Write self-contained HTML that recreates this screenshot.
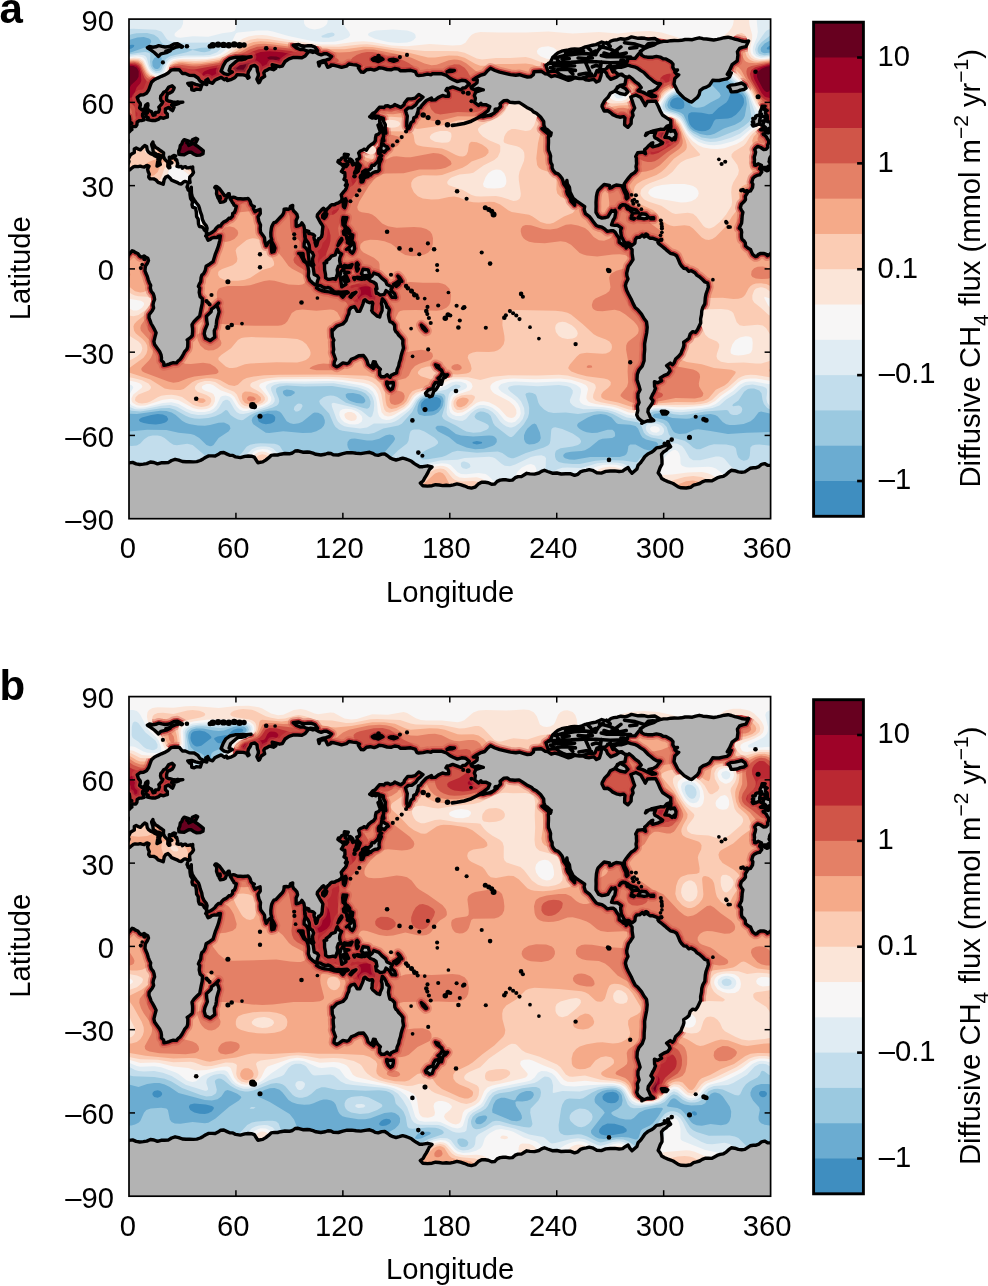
<!DOCTYPE html><html><head><meta charset="utf-8"><title>Diffusive CH4 flux maps</title><style>html,body{margin:0;padding:0;background:#fff;width:988px;height:1286px;overflow:hidden}svg{display:block;will-change:transform}text{font-family:"Liberation Sans",sans-serif}</style></head><body>
<svg width="988" height="1286" viewBox="0 0 988 1286">
<defs><clipPath id="mc"><rect x="129.0" y="19.1" width="641.60" height="499.60"/></clipPath>
<path id="cm" d="M125.4,167.1L126.7,163.6L127.7,164.5L128.7,162.7L129.0,161.4L128.0,159.1L129.0,157.9L130.4,154.7L132.5,153.5L134.3,152.6L134.3,149.0L136.2,148.0L137.7,148.9L140.4,149.8L142.3,147.8L144.8,145.4L146.6,146.4L147.3,150.2L148.3,151.8L150.6,153.6L153.1,154.7L155.0,156.0L158.2,157.3L157.8,160.7L157.0,166.1L160.3,164.5L159.5,161.8L159.9,159.4L158.5,157.8L159.6,155.4L160.8,158.1L161.2,155.8L158.3,154.6L156.6,154.3L153.3,152.2L152.8,148.6L151.8,145.4L151.6,144.3L152.9,142.0L153.2,143.8L153.4,144.1L155.6,147.4L158.0,148.8L159.8,150.2L161.8,151.5L163.6,152.9L163.4,156.3L164.5,158.8L166.4,160.9L167.9,162.4L167.8,166.5L168.9,167.8L169.9,167.6L169.4,164.7L170.3,163.4L171.9,162.8L169.7,161.0L169.3,157.2L172.1,158.0L172.2,156.4L173.9,155.4L175.4,155.8L175.6,155.9L174.6,157.5L175.5,159.7L176.7,159.8L177.2,161.9L177.7,163.7L177.0,166.4L178.9,166.7L181.3,166.4L182.5,168.2L183.5,167.2L185.4,166.7L186.8,167.8L188.4,167.9L190.5,167.3L192.4,168.7L192.7,167.0L192.7,169.5L193.5,172.5L192.1,174.8L189.8,176.9L189.6,179.5L190.1,182.5L188.3,183.2L186.7,181.8L185.1,181.4L183.6,181.9L181.3,184.1L179.1,183.6L177.0,182.3L173.9,181.1L171.6,180.2L170.2,178.3L168.0,176.1L165.7,177.1L164.2,179.5L163.7,182.2L163.2,184.3L161.1,183.4L158.1,182.3L156.0,180.0L153.7,178.9L150.1,178.9L148.7,177.1L148.8,176.1L149.3,174.1L148.1,171.5L147.6,169.2L149.0,166.3L147.4,165.4L146.4,165.6L144.3,167.1L141.9,166.6L140.2,166.2L138.1,166.6L135.1,166.4L133.4,166.9L131.3,168.5L129.6,170.0L126.4,169.3L125.6,169.1L123.6,171.0L125.0,174.1L122.7,177.2L121.8,180.3L122.6,183.4L122.3,186.5L122.1,189.6L122.7,192.7L123.1,195.8L123.0,198.9L123.0,202.0L122.6,205.1L122.1,208.2L122.0,211.3L122.1,214.4L122.1,217.5L121.6,220.6L122.2,223.7L123.7,226.8L123.5,229.9L123.1,233.0L123.2,236.2L122.8,239.3L122.8,242.4L123.4,245.5L122.9,248.6L122.5,251.7L123.0,254.8L123.8,255.6L126.5,256.8L128.7,254.8L130.8,252.3L132.1,250.7L133.8,251.4L134.9,252.3L135.6,252.7L137.8,253.5L139.6,256.0L141.2,257.0L142.5,256.9L144.0,256.0L145.4,257.0L147.8,258.3L148.5,260.6L147.2,263.5L145.5,266.0L145.2,268.0L145.0,270.9L145.8,273.0L147.3,276.4L148.3,280.0L149.3,282.7L150.7,285.3L150.3,288.0L151.2,291.3L153.3,293.9L154.0,296.1L154.6,299.4L153.5,302.2L153.0,304.9L153.6,307.9L152.2,310.8L149.1,314.7L149.0,317.8L150.1,320.6L151.1,323.5L152.6,326.0L154.7,329.9L156.1,332.7L155.0,336.9L153.9,341.4L154.6,344.6L157.4,348.5L159.6,351.5L161.0,354.6L161.5,357.7L161.4,360.5L163.4,362.2L163.7,362.8L163.9,365.4L165.6,365.1L167.5,364.7L169.2,364.1L170.9,363.3L173.3,362.7L174.8,362.9L176.5,362.8L178.0,361.0L180.2,359.3L182.0,356.7L183.6,353.8L184.9,351.3L187.0,349.1L187.7,346.8L187.8,343.6L187.8,341.0L187.2,339.9L188.6,339.0L190.7,337.3L192.3,335.5L192.6,331.3L192.5,328.3L192.1,326.0L192.0,324.6L194.1,321.4L196.5,319.1L199.7,316.0L200.5,311.9L201.0,309.2L202.2,303.6L202.5,298.7L200.1,296.6L199.2,292.5L199.7,288.0L198.4,286.4L199.2,284.4L200.7,281.7L201.1,277.5L201.9,275.0L203.7,273.6L205.2,270.5L206.1,266.3L209.5,264.2L213.0,261.7L214.3,257.4L215.5,253.6L217.2,249.5L218.6,245.3L219.8,240.3L220.4,236.0L218.3,236.2L216.9,237.6L214.4,237.4L211.6,238.1L210.1,239.4L208.1,240.3L207.2,238.5L206.6,236.7L205.7,236.0L207.6,233.6L206.0,231.3L204.2,229.9L203.3,227.9L201.5,226.8L199.4,226.5L198.5,224.0L198.2,219.1L196.6,216.6L196.3,211.9L195.5,208.1L192.6,207.1L192.0,204.6L192.6,201.6L190.6,198.5L190.0,194.4L189.9,191.6L187.0,187.0L187.6,185.3L187.3,186.8L188.0,189.7L190.2,191.8L191.0,189.9L191.3,187.3L191.4,191.2L191.5,193.5L192.3,196.9L194.2,199.9L196.0,202.5L198.5,205.5L199.5,208.4L200.3,211.7L201.7,215.4L202.4,219.5L204.1,223.2L206.3,225.8L207.1,228.3L206.4,232.2L206.5,234.3L208.6,234.2L210.1,233.5L212.3,232.3L214.7,230.3L216.5,227.7L218.7,225.9L220.5,226.1L221.7,224.0L223.5,222.1L225.7,221.1L227.1,220.1L228.8,218.3L230.6,218.2L232.5,216.2L232.7,213.5L234.4,212.5L235.3,210.3L236.3,206.3L234.1,205.3L233.4,203.6L232.3,202.3L231.5,200.7L230.3,199.0L228.9,195.4L227.0,197.1L226.0,198.7L225.4,200.7L223.5,201.9L220.4,202.3L219.3,200.4L220.3,198.4L220.1,196.4L218.9,198.1L219.6,200.0L218.0,197.9L217.2,195.6L216.5,193.7L216.7,190.9L216.2,188.6L214.8,187.4L215.5,186.4L216.5,186.4L217.8,187.4L219.7,188.9L221.2,191.0L222.7,193.1L224.6,195.6L226.9,195.7L228.2,193.8L229.2,193.8L229.6,196.5L231.1,197.9L233.4,197.1L235.3,197.7L237.7,198.8L240.4,198.8L243.1,199.0L245.8,198.8L248.0,198.4L249.7,200.3L250.4,202.0L250.9,204.1L252.4,205.9L254.3,206.6L253.6,206.6L253.3,208.3L255.0,211.7L256.9,210.5L260.1,209.3L260.3,213.5L258.0,216.8L258.9,221.3L260.5,225.0L260.2,228.9L260.6,232.2L263.0,235.4L264.5,237.6L264.9,241.7L265.7,244.1L266.9,245.2L266.1,245.8L267.3,244.0L268.4,242.3L270.5,240.7L271.8,240.0L270.9,236.6L270.8,232.8L271.3,228.7L271.8,226.5L272.8,224.4L273.9,222.7L275.8,222.2L278.1,219.7L280.6,217.0L282.4,215.1L283.6,213.0L284.1,210.6L284.1,209.3L286.3,209.0L288.0,209.4L289.9,208.7L290.4,206.3L292.7,205.4L292.5,208.5L293.7,211.1L295.4,212.6L296.9,214.3L297.6,217.2L296.1,220.5L296.2,226.3L298.6,225.8L300.4,225.0L301.2,224.1L301.9,222.9L303.9,226.0L304.5,229.3L304.5,232.8L305.2,236.1L305.1,239.8L304.2,243.4L304.1,246.8L305.0,247.2L306.4,248.6L307.8,250.8L308.2,253.6L308.7,257.2L309.0,260.6L310.2,262.4L312.4,263.1L313.1,264.1L313.8,265.2L312.9,262.8L312.5,258.9L313.6,255.4L312.3,252.5L310.6,251.8L309.5,249.6L309.5,248.4L309.2,245.2L308.0,242.4L306.1,240.1L304.8,236.8L304.6,233.4L306.5,230.7L308.8,231.3L308.8,233.6L310.2,233.5L313.0,234.4L314.6,235.8L313.9,237.4L314.4,239.6L315.1,240.4L315.1,242.5L316.1,245.9L316.8,245.0L317.5,242.2L318.6,238.8L319.7,238.7L320.9,237.2L321.5,236.7L322.2,234.0L322.3,231.6L322.6,229.0L322.9,226.5L321.8,224.5L320.6,222.8L319.6,221.0L318.5,218.9L317.2,216.7L317.5,214.5L319.0,212.8L319.9,211.8L320.8,210.9L321.9,209.4L323.6,208.3L324.8,209.4L325.1,211.8L325.2,212.5L326.3,210.6L326.9,209.5L328.1,207.9L329.0,207.4L330.5,205.6L331.6,204.7L333.4,204.8L334.8,204.5L336.1,203.6L338.5,202.8L340.6,201.5L341.8,200.2L341.9,197.6L341.2,194.8L342.2,193.6L344.0,191.4L345.2,190.1L346.3,188.1L347.3,184.7L345.3,185.3L346.5,183.4L346.2,180.5L344.0,179.4L345.0,177.1L344.8,172.8L342.9,172.5L341.4,171.4L342.3,170.1L343.1,168.7L344.0,166.8L346.3,166.5L347.8,164.5L345.7,164.5L344.5,164.4L342.4,164.7L342.4,165.5L341.0,163.9L339.8,163.4L337.9,161.9L338.5,160.4L339.9,160.5L340.9,159.3L341.9,158.0L344.1,157.3L344.4,154.1L348.3,154.6L347.1,157.0L345.8,158.8L345.2,160.1L347.2,161.6L348.5,161.8L349.5,160.6L349.7,158.9L351.2,159.5L352.8,161.4L351.7,162.6L352.8,164.9L354.6,163.7L357.0,166.5L356.5,167.7L355.8,170.3L354.9,171.9L354.5,173.0L356.1,172.9L357.4,171.9L358.3,171.2L358.5,170.0L359.4,167.9L360.2,165.6L358.6,164.1L357.1,162.0L357.4,159.6L356.7,159.6L358.8,158.9L359.7,157.4L359.4,155.3L358.6,153.0L360.0,151.2L361.6,150.5L362.9,150.0L364.5,149.1L366.4,150.2L367.2,148.9L368.5,146.9L371.0,144.8L373.5,143.2L375.3,140.7L375.5,137.9L376.1,135.1L378.6,134.0L380.5,131.7L379.2,128.7L378.0,125.2L379.3,124.3L379.8,122.4L379.7,119.8L378.5,116.4L374.2,115.8L375.9,118.4L373.6,117.4L372.1,118.1L369.7,116.7L371.1,115.4L372.8,113.3L375.1,112.4L377.0,110.1L379.4,107.3L382.1,107.2L383.9,107.6L385.3,106.0L387.9,105.7L390.3,107.0L393.4,105.9L394.8,104.5L396.4,105.4L400.8,107.4L402.4,106.1L404.1,104.7L404.4,103.0L407.8,98.9L411.6,98.9L415.1,98.1L418.8,94.4L423.0,97.1L420.3,99.7L417.8,101.7L415.8,104.8L411.7,107.9L408.1,107.9L405.5,110.4L406.4,113.5L407.3,116.1L406.8,121.9L406.8,126.3L409.0,128.2L410.0,126.0L411.0,122.7L413.3,121.2L413.8,117.7L416.3,116.6L417.7,112.1L418.0,113.6L418.1,110.5L418.4,108.6L420.7,107.4L421.4,105.8L424.0,103.0L426.4,100.5L431.5,98.1L431.3,100.0L435.3,99.8L438.1,97.6L442.5,95.5L445.0,96.2L448.7,96.2L448.7,93.6L447.5,90.9L445.9,90.3L447.1,88.4L449.6,88.1L452.7,86.9L455.4,87.9L458.8,89.2L460.8,89.9L462.8,88.0L465.3,87.8L469.3,83.9L465.6,80.8L461.7,80.3L457.4,81.6L453.1,79.7L449.7,78.0L446.4,75.4L441.9,73.8L436.6,73.8L432.3,73.8L431.2,74.8L427.5,74.1L423.1,75.1L418.6,75.5L416.9,75.1L415.2,71.6L410.7,70.3L405.2,70.8L400.6,70.8L398.5,69.2L394.6,68.5L391.0,69.8L387.1,69.5L382.4,68.1L379.0,67.7L377.5,68.8L374.2,70.1L370.3,69.2L366.5,69.7L363.7,72.3L361.3,72.1L359.8,70.2L358.4,67.9L359.5,66.5L356.3,65.0L352.7,64.6L348.9,64.0L346.4,66.2L341.6,67.4L338.2,66.3L334.2,65.3L331.0,65.0L330.3,66.5L327.7,67.3L325.2,62.0L320.4,62.9L319.1,66.0L318.3,62.4L322.0,61.0L325.8,60.1L329.5,59.0L331.6,56.5L326.8,53.8L323.7,53.8L321.2,54.8L318.3,53.8L314.0,51.2L310.4,50.7L307.8,52.6L305.2,56.0L301.9,57.7L297.2,57.5L293.5,57.4L289.0,58.8L285.1,61.5L283.8,63.6L282.3,66.2L279.6,66.7L275.1,65.3L272.2,64.7L272.7,67.9L275.8,68.3L273.5,69.7L270.6,68.8L269.2,68.8L266.4,70.4L265.2,70.8L263.8,72.8L264.7,76.3L261.3,78.5L259.5,82.2L258.6,82.7L256.9,79.2L258.3,75.8L258.4,73.9L257.4,71.0L257.0,67.4L254.6,65.4L251.2,66.3L250.4,68.8L248.4,71.8L247.8,74.6L249.1,77.4L248.0,78.3L246.1,75.6L243.2,74.9L237.0,74.8L235.9,76.4L234.2,78.0L231.6,79.3L227.3,80.5L226.4,78.5L224.3,79.7L221.2,77.4L217.7,78.9L214.9,80.2L212.6,83.3L209.2,82.2L207.8,79.1L205.8,80.4L207.0,82.8L206.7,84.6L203.2,83.5L201.7,85.5L200.3,89.6L196.5,89.1L194.2,90.2L191.8,89.8L191.5,86.3L189.4,85.4L187.8,83.4L191.7,82.9L195.7,84.4L200.8,85.7L204.1,83.1L201.8,81.9L199.9,80.9L198.0,78.0L194.2,75.5L189.2,75.2L185.3,73.5L182.4,73.5L179.1,69.7L174.6,69.5L171.0,70.2L168.1,73.0L164.2,75.2L161.4,76.3L157.6,78.1L154.3,79.8L151.6,82.1L150.3,85.5L148.7,90.0L146.5,93.2L143.6,94.7L140.3,95.0L137.2,97.4L138.4,100.9L140.3,103.6L140.4,105.0L139.6,108.0L141.9,109.9L144.8,108.4L145.7,105.2L147.8,103.7L148.0,105.8L147.8,105.9L147.2,108.7L148.4,110.2L151.6,111.8L152.4,113.7L153.1,115.3L155.0,114.9L155.4,112.5L156.3,112.4L158.6,112.1L159.5,109.3L158.8,107.1L160.2,105.7L161.8,104.0L162.8,101.9L161.1,100.6L160.5,98.3L160.8,95.9L162.3,94.4L163.7,92.3L165.9,91.2L167.3,89.3L168.8,87.0L172.1,85.8L174.2,87.7L173.5,89.6L172.1,91.8L169.4,93.1L167.5,94.1L166.6,96.9L166.6,100.0L168.4,101.0L169.7,101.2L172.6,101.8L175.4,102.3L177.8,101.8L180.4,102.6L182.8,102.1L180.4,102.2L178.9,103.3L176.2,104.3L173.8,104.5L171.7,104.6L171.6,105.1L174.1,107.1L172.6,110.7L171.4,109.9L168.5,107.4L165.4,109.1L165.4,112.2L167.3,113.9L167.4,117.1L165.9,117.4L163.8,118.2L162.1,118.0L160.4,117.4L158.8,119.2L154.9,120.6L153.2,120.3L152.4,120.6L147.4,119.6L148.2,117.8L146.2,116.6L145.9,113.6L147.4,113.0L147.3,110.9L148.3,109.6L147.4,110.3L146.1,112.0L145.0,111.4L142.6,113.9L142.5,115.7L143.5,117.6L144.1,119.9L141.5,120.6L139.6,120.6L137.2,121.9L136.9,124.9L135.8,126.6L133.2,126.5L131.2,127.6L131.9,129.6L130.7,130.3L129.5,131.7L126.2,133.6L125.7,133.4L126.5,130.8L126.3,134.4L124.0,135.6L124.0,133.5L122.8,137.1L123.7,137.7L125.7,138.8L128.3,140.4L128.1,142.7L126.1,145.2L126.1,146.7L124.6,147.7L121.9,148.3L121.8,151.4L122.7,154.5L122.9,157.6L123.8,160.8L123.5,163.9L123.0,167.9ZM178.7,150.9L179.8,148.7L180.3,145.4L181.8,144.0L182.5,141.8L184.2,139.6L188.7,141.2L186.9,142.9L187.8,143.2L188.7,145.4L192.3,143.7L191.4,142.3L192.3,139.8L195.8,138.2L197.6,139.3L195.8,142.6L194.2,143.4L194.9,144.6L196.7,145.7L200.3,148.4L203.3,150.9L203.0,153.7L200.3,155.1L196.7,155.4L194.1,154.3L191.4,152.3L188.7,152.3L184.2,154.8L180.7,154.5L178.9,154.3ZM762.8,167.4L767.4,167.3L768.3,166.2L770.9,164.9L769.1,161.6L769.4,161.9L769.5,159.1L770.0,157.5L772.1,154.8L774.5,153.9L775.8,152.6L776.1,149.3L777.4,148.9L777.3,145.7L776.6,142.4L776.2,139.2L776.4,135.9L776.8,132.7L777.2,129.4L776.4,125.9L775.2,127.5L774.1,127.6L773.8,130.0L772.4,130.5L770.8,130.9L768.3,133.0L767.6,132.8L765.9,131.2L767.2,130.8L766.7,132.3L764.4,133.6L763.1,133.9L763.4,134.5L764.9,135.4L766.5,137.0L767.3,138.8L768.6,140.6L768.8,142.6L767.7,145.2L767.8,147.4L766.0,149.3L763.7,149.5L760.8,147.5L757.7,146.4L755.7,148.0L754.7,149.4L755.6,152.0L755.2,154.3L754.2,157.1L754.5,159.8L754.4,160.9L754.2,162.6L755.0,164.0L754.7,165.0L755.8,165.3L758.1,163.8L761.4,165.2L760.4,167.0L759.6,168.8L761.1,169.5ZM775.3,168.4L771.7,167.0L770.0,168.5L768.3,170.4L766.8,170.8L764.8,169.8L762.4,167.8L760.6,167.9L760.6,169.8L761.8,172.0L759.6,174.9L756.9,175.4L754.9,176.4L752.9,178.4L751.8,182.2L752.9,184.3L752.5,187.7L750.4,191.0L748.2,191.7L746.7,194.1L745.3,196.3L745.5,199.6L743.6,202.1L741.3,204.2L740.3,207.8L741.4,210.1L742.9,212.3L742.2,215.6L742.0,219.0L741.6,223.2L740.3,225.7L739.2,228.2L741.2,229.8L741.7,232.3L741.4,234.2L741.5,237.1L742.0,239.2L744.2,241.1L745.3,242.8L745.5,246.0L748.2,248.2L750.5,249.4L751.5,252.0L752.9,254.7L755.6,256.6L757.0,256.2L758.2,254.6L760.7,253.4L763.7,253.5L765.9,254.1L767.3,255.7L770.0,254.2L772.2,251.9L773.7,250.8L775.4,251.4L777.3,251.1L777.8,248.1L778.3,245.1L776.9,242.1L776.6,239.1L777.8,236.1L777.7,233.1L777.1,230.1L777.2,227.0L778.4,224.0L777.9,221.0L775.9,218.0L776.2,215.0L778.2,212.0L777.8,209.0L776.8,206.0L776.3,203.0L776.0,200.0L776.8,196.9L777.2,193.9L776.7,190.9L775.9,187.9L776.2,184.9L777.7,181.9L777.5,178.9L775.6,175.9L774.9,172.9L775.2,169.8L777.2,168.9ZM471.6,88.4L473.9,89.6L478.2,88.3L483.3,89.9L481.6,90.2L475.7,92.1L474.3,95.6L475.4,98.1L474.7,102.5L478.5,105.4L480.9,103.2L481.6,104.7L485.7,104.6L489.8,106.5L488.1,110.6L483.9,113.8L480.1,116.4L482.8,116.8L486.4,115.9L490.5,115.3L494.2,113.0L497.4,109.8L500.6,106.5L500.1,103.8L504.0,100.6L507.2,100.4L510.1,102.3L514.9,102.8L519.1,102.4L521.9,104.1L526.8,107.4L531.4,109.7L533.5,111.9L536.4,113.3L540.6,117.1L543.7,121.5L543.9,125.4L545.6,129.3L548.0,131.6L551.2,132.8L550.4,135.7L549.1,134.5L548.3,137.2L548.5,139.8L548.5,142.5L548.3,146.7L548.4,150.2L549.9,153.7L550.6,156.1L550.4,159.2L550.8,162.7L552.1,164.8L552.1,167.9L553.4,170.7L555.5,173.0L557.7,173.6L559.8,175.5L562.1,178.5L562.9,180.6L563.8,184.1L565.6,186.5L567.7,190.4L566.7,191.2L567.5,194.1L570.3,198.1L570.9,201.0L573.5,203.8L574.6,205.1L574.8,202.0L573.2,199.2L569.9,197.1L569.9,194.1L568.6,189.7L565.3,185.7L566.9,180.4L567.4,184.0L569.4,187.1L570.1,192.0L571.7,195.2L573.2,198.2L576.0,200.6L580.7,203.8L584.7,206.7L584.1,209.5L585.5,213.7L589.8,216.9L591.4,219.1L593.5,221.9L596.3,225.5L598.7,226.5L602.0,227.2L604.7,228.9L607.5,231.4L611.1,230.7L613.4,230.8L615.3,232.4L617.0,235.3L618.8,237.9L619.1,239.5L619.2,242.4L621.7,244.0L623.6,245.8L627.3,246.2L626.1,248.0L627.2,246.9L629.4,245.0L630.8,248.0L632.1,249.5L632.1,253.6L633.0,259.5L630.4,263.7L628.4,266.3L627.7,269.0L626.7,273.1L626.9,275.8L628.0,278.9L626.1,282.8L625.4,285.7L626.5,290.0L628.4,294.0L631.2,299.2L633.0,303.4L635.1,307.4L638.1,310.1L641.5,314.1L644.0,318.5L646.5,321.7L647.2,327.3L646.7,332.7L645.6,338.4L644.6,343.9L644.7,349.5L644.2,354.9L644.1,360.7L642.2,366.2L638.9,370.1L637.3,374.4L637.0,379.9L638.9,385.5L640.1,389.8L638.0,393.8L637.9,397.8L639.1,402.4L637.3,406.2L637.8,410.5L636.7,414.8L638.1,417.9L641.0,420.6L644.0,422.3L647.6,420.7L651.0,421.0L653.8,420.5L650.3,417.4L648.9,413.9L647.9,411.9L648.3,408.9L650.2,406.2L652.1,403.5L653.0,400.7L650.9,398.2L652.6,394.5L653.9,392.4L655.5,388.4L654.6,386.6L654.4,381.7L657.7,382.8L661.6,380.7L660.2,378.0L663.9,375.6L667.6,374.2L670.1,370.9L669.3,368.6L666.6,365.7L670.3,363.1L672.6,364.8L674.2,362.7L675.6,359.0L678.1,356.8L680.9,353.7L681.9,350.7L683.2,347.9L683.9,345.2L683.7,342.1L686.7,340.1L688.9,338.2L690.2,334.0L692.8,331.6L695.6,332.4L697.6,329.5L698.9,326.8L700.7,323.1L700.6,319.0L701.5,314.7L701.8,310.7L702.9,307.1L704.8,303.8L705.3,297.7L706.1,293.7L707.5,289.8L708.4,286.9L707.7,283.0L704.9,282.0L702.5,279.5L699.4,276.8L697.0,275.4L694.9,272.8L691.3,270.7L688.8,271.3L686.5,268.8L684.0,268.4L681.6,266.1L680.0,263.6L678.3,259.4L676.7,256.0L674.9,254.7L673.3,254.0L670.3,253.3L666.9,250.4L664.9,248.6L661.7,246.0L658.7,243.6L657.9,242.3L659.3,240.8L655.7,239.4L652.3,238.2L649.9,238.2L646.6,235.8L644.1,236.9L642.6,235.0L642.1,235.2L639.5,237.4L636.9,237.4L635.3,239.5L634.9,243.1L632.0,245.5L628.9,243.0L627.4,243.0L625.4,243.3L623.8,241.2L622.7,238.9L621.5,237.0L620.8,232.8L620.6,230.0L621.5,228.2L617.3,225.2L614.7,225.4L611.5,224.9L613.1,220.2L614.8,217.6L615.8,212.1L615.1,210.3L612.8,211.4L611.7,210.6L610.5,212.5L607.9,216.8L605.8,217.5L602.0,218.1L598.5,216.6L596.0,212.4L596.0,209.5L596.1,206.4L596.0,202.3L596.4,196.7L597.2,192.6L598.1,190.4L601.2,187.3L604.1,184.5L609.6,185.5L609.8,188.2L611.8,187.6L613.1,186.4L616.2,185.0L619.5,185.4L622.0,186.0L623.0,188.4L624.4,191.8L625.9,194.9L626.1,197.9L626.7,198.9L628.0,197.6L627.5,194.0L624.6,188.5L624.2,183.9L626.0,181.3L628.6,177.9L631.2,174.7L634.6,172.6L636.6,170.2L636.0,166.5L636.6,163.6L636.4,160.9L636.4,158.1L635.7,156.5L637.7,152.7L643.0,152.1L645.6,153.7L645.1,152.3L644.7,149.6L646.3,148.3L649.2,145.2L651.2,143.4L652.8,142.7L651.7,146.1L652.7,146.8L657.5,145.7L662.3,143.4L662.7,142.6L660.2,141.0L657.9,139.3L654.9,137.8L654.3,135.9L655.7,132.2L650.2,132.0L646.4,133.4L645.5,135.5L649.0,132.5L652.2,131.2L656.6,130.1L660.1,129.3L664.1,129.4L667.2,126.0L670.8,124.8L670.7,120.5L666.3,117.6L662.5,115.0L660.1,110.7L658.4,106.5L657.0,103.7L655.7,101.3L651.6,101.2L647.5,101.5L645.2,105.6L643.7,102.6L640.8,97.6L635.9,95.0L630.8,97.0L632.3,101.0L633.5,104.9L634.7,108.0L632.3,112.2L633.1,115.5L631.3,119.0L631.1,123.6L627.9,127.3L624.6,124.8L624.7,121.2L625.0,118.0L623.5,116.6L619.8,117.2L616.3,116.3L612.8,114.6L610.4,112.5L607.6,110.7L604.2,111.0L602.0,106.4L602.2,105.1L604.8,100.4L608.0,97.3L610.3,93.3L614.6,91.2L616.4,89.0L619.9,85.5L624.9,84.4L626.1,78.0L621.7,74.1L618.6,75.3L616.3,77.1L610.7,79.3L607.5,76.0L606.3,72.8L601.8,69.8L601.0,75.4L599.4,80.6L596.4,82.0L593.9,79.3L589.4,80.2L585.6,79.8L583.4,78.6L579.3,78.6L574.4,77.9L571.4,79.6L568.5,80.3L564.1,78.6L559.4,76.8L554.8,75.6L551.3,76.7L547.7,74.1L544.9,73.7L541.1,71.2L533.9,71.8L533.4,74.7L530.6,76.9L527.4,77.0L523.1,75.8L519.4,74.7L515.8,75.2L510.4,74.6L505.0,73.4L499.7,72.2L494.9,70.5L490.5,68.3L487.6,70.7L484.8,74.0L480.2,75.4L475.5,78.0L473.3,79.6L477.3,79.9L477.0,82.7L474.6,84.7L471.0,87.0ZM641.6,55.1L644.2,56.6L647.5,57.2L652.9,57.2L656.4,56.4L660.2,57.1L663.1,58.7L665.9,58.9L670.8,61.7L673.0,64.1L672.8,67.3L674.6,70.3L677.5,69.9L674.9,72.3L677.1,74.5L678.8,74.8L674.8,78.5L674.0,84.1L675.8,87.6L678.0,91.9L681.0,95.0L684.2,98.1L686.8,99.7L689.3,101.3L691.8,102.0L694.7,99.5L697.4,97.4L699.2,94.5L700.0,90.7L703.3,88.2L706.4,87.1L709.6,85.2L712.7,80.3L715.9,80.5L719.2,80.5L722.8,79.6L727.0,78.8L729.6,76.9L731.3,72.9L727.2,74.3L729.7,70.2L732.1,64.7L737.2,60.9L737.9,55.2L737.4,51.6L739.6,48.4L742.5,47.3L746.0,46.6L748.6,41.0L744.9,41.6L741.5,41.0L738.2,39.9L734.8,39.1L731.5,38.0L728.0,37.2L724.3,37.7L720.6,38.7L717.2,39.4L713.7,40.0L710.1,39.5L706.5,39.0L702.9,38.7L699.3,37.8L695.8,38.6L692.3,39.7L688.7,39.5L685.1,39.5L681.5,40.3L678.0,40.6L674.3,40.5L670.8,40.7L667.2,41.4L663.6,41.4L660.0,42.2L656.5,43.4L652.6,43.3L648.2,43.6L645.8,46.3L643.5,49.3L640.3,51.2ZM648.9,91.9L653.2,90.9L656.5,89.0L660.5,83.8L656.7,83.2L653.7,81.5L651.1,79.3L648.5,77.2L646.1,74.7L643.8,72.4L640.5,70.4L637.4,68.1L634.3,66.8L631.1,66.1L628.0,65.1L624.5,66.3L621.0,67.4L618.4,67.0L615.3,68.2L612.4,68.5L614.8,71.5L617.8,74.1L621.3,74.7L624.5,76.4L627.8,77.3L629.2,76.2L632.3,78.8L635.1,81.6L638.4,83.8L641.2,87.6L638.0,90.8L642.6,92.1L645.3,93.4L647.9,94.8L651.9,96.8L655.7,96.2L652.5,94.8ZM550.5,71.5L553.6,71.0L556.5,71.5L559.8,74.3L562.9,75.8L566.2,77.1L570.6,76.9L574.5,77.2L578.1,78.1L581.7,78.2L585.2,77.1L588.1,76.0L591.2,76.1L594.9,75.6L596.9,70.6L600.4,69.7L604.9,69.7L607.3,67.7L607.6,66.7L611.6,66.9L616.0,66.2L619.7,64.7L623.5,63.5L627.4,61.6L627.9,58.4L630.1,58.4L635.1,58.3L638.7,53.9L642.4,49.8L645.3,48.1L648.1,47.0L651.3,46.0L654.3,44.8L657.2,43.0L660.0,41.5L654.8,38.5L651.4,38.7L648.1,39.1L644.8,38.3L641.5,38.0L638.2,38.3L634.9,37.6L631.5,36.9L628.0,38.5L624.5,39.3L620.8,38.7L617.3,39.7L613.8,40.1L610.9,41.0L608.3,43.2L605.1,43.1L601.7,42.0L598.9,43.2L596.0,44.6L592.5,45.2L588.9,46.1L585.4,46.9L582.0,48.4L578.4,49.3L574.6,48.9L571.5,49.2L568.5,50.0L565.4,50.4L561.6,51.2L558.0,52.7L554.9,55.4L552.6,57.6L550.2,62.7L545.9,65.2L548.1,71.7ZM628.0,91.8L625.3,88.5L620.0,85.7L617.3,87.1L615.5,91.3L620.0,93.5L625.3,94.6ZM675.7,137.2L676.0,134.0L674.4,130.5L670.5,131.4L670.7,129.0L671.0,125.9L668.4,128.8L666.5,134.4L664.9,137.4L669.0,137.7L672.3,140.0L674.3,137.5L674.8,138.0L675.0,139.7ZM549.6,131.8L546.9,129.3L543.4,127.9L541.9,128.7L545.1,131.5L548.2,134.0L550.9,134.8ZM619.7,207.3L622.3,204.7L625.5,205.0L627.1,207.9L629.4,209.5L631.6,211.8L632.5,213.3L635.8,212.9L638.5,212.6L636.2,209.9L632.0,209.0L629.2,207.6L627.1,205.8L623.6,204.8L620.7,205.7L619.4,207.8ZM638.0,218.1L641.4,218.4L644.1,218.9L646.7,218.4L648.7,217.3L645.8,214.2L641.4,213.7L638.0,217.6ZM631.1,218.4L633.7,219.2L634.6,218.4L631.1,217.8ZM650.8,218.9L653.7,218.9L653.7,217.8L650.8,217.6ZM662.8,414.1L666.3,414.1L667.8,412.4L665.4,411.3L661.3,411.3ZM123.6,128.6L126.2,127.7L128.7,126.5L129.5,127.6L129.1,124.3L131.8,123.3L129.4,121.8L129.8,119.8L129.3,116.4L127.8,115.9L126.5,114.1L125.6,113.0L124.4,112.7L124.3,109.8L125.7,110.3L123.5,109.6L123.5,108.8L122.2,112.8L121.7,117.1L122.7,118.6L123.6,119.9L122.5,120.7L123.0,126.1L123.5,126.4L123.1,126.4L123.2,128.8ZM123.5,106.3L123.0,106.3L123.0,107.1ZM763.5,130.0L765.1,129.2L768.0,128.9L771.0,127.7L771.2,127.6L770.7,124.3L773.5,123.0L769.9,122.1L767.6,121.5L767.4,120.0L767.3,116.6L767.1,115.3L765.7,114.0L765.5,112.4L765.8,109.8L767.2,110.7L765.1,109.9L763.5,109.0L765.1,106.2L762.1,106.3L761.4,109.1L760.1,111.7L760.0,114.7L761.7,114.3L761.7,116.6L764.6,116.5L765.2,118.4L765.3,121.1L762.4,120.9L763.6,122.1L763.2,124.2L761.3,125.2L763.2,125.7L765.4,127.4L763.8,127.6L760.4,129.7ZM759.6,121.0L759.9,119.0L760.6,117.6L759.6,115.7L757.4,115.4L755.8,116.0L755.3,118.2L752.8,118.5L753.7,120.7L752.4,121.8L753.7,122.9L752.2,124.6L753.1,126.0L755.6,125.4L758.1,124.3L759.9,124.0ZM733.2,91.9L737.2,91.5L740.4,90.1L743.9,89.5L746.1,88.1L744.9,85.2L741.7,83.0L738.5,83.8L735.1,84.6L730.7,85.1L728.0,86.8L730.0,88.6L731.2,91.9ZM150.7,49.8L154.3,52.5L158.5,56.4L160.9,53.8L166.3,52.7L170.3,50.7L165.8,51.2L168.9,50.5L171.8,49.0L175.2,47.4L178.6,46.5L182.5,46.4L177.2,43.6L174.1,43.9L170.8,45.8L167.7,46.8L165.0,47.0L161.9,46.4L158.7,45.7L155.8,46.8L152.7,47.2L149.5,46.4L147.4,47.7ZM224.1,73.6L228.0,74.6L232.3,72.1L229.1,70.6L230.5,66.2L233.4,63.7L235.7,61.7L238.4,59.9L241.6,59.8L244.7,59.2L247.3,57.6L251.1,56.8L246.6,57.2L242.6,56.9L239.3,57.3L235.9,57.1L229.9,58.5L225.8,61.3L223.3,65.6L221.1,71.2ZM306.3,50.7L309.6,51.4L312.9,52.5L317.6,50.8L314.9,47.0L311.7,45.8L308.1,45.6L304.8,46.2L301.5,45.8L298.7,44.5L293.1,45.2L296.3,47.9L300.1,49.5L303.6,49.5ZM378.5,61.6L383.0,59.3L381.2,58.0L374.9,57.7L372.3,59.3ZM397.2,60.2L393.7,59.3L389.2,59.9L393.7,61.3ZM452.5,71.3L454.4,70.4L449.8,70.2L447.1,71.8ZM273.9,251.7L275.0,248.1L273.9,245.3L271.8,241.7L271.2,246.1L271.8,252.2ZM362.8,181.7L363.9,178.7L363.7,175.6L362.3,174.5L360.7,175.6L360.2,177.3L361.0,178.7L361.0,182.0ZM368.2,176.5L368.9,174.5L366.9,173.7L365.7,174.8L365.1,177.3ZM364.0,172.3L366.7,172.3L368.3,173.0L369.3,173.9L370.7,175.0L370.2,175.0L372.6,173.0L374.6,172.0L375.9,171.8L377.6,171.5L379.3,169.9L379.0,166.7L379.7,162.6L380.6,161.0L381.3,159.2L380.1,156.2L381.8,155.6L381.0,155.6L379.0,157.8L378.5,160.1L377.3,162.3L375.5,163.8L374.1,165.4L372.1,165.3L371.2,166.6L371.4,168.0L370.0,169.2L367.8,170.5L365.6,169.9L362.5,171.9L362.4,174.7ZM380.3,152.9L381.7,150.7L384.4,152.3L386.5,149.6L388.3,148.7L387.2,146.8L384.7,145.7L381.9,142.6L381.4,145.4L380.8,148.7L379.2,148.7L378.3,150.7L378.5,153.4ZM383.9,140.8L383.3,138.0L384.0,131.8L385.9,133.0L385.2,128.7L385.3,124.6L383.5,121.2L383.3,118.4L380.9,117.5L379.6,121.2L381.5,125.9L382.6,131.5L383.7,135.9L382.5,139.0L382.0,141.1ZM344.5,207.8L345.5,205.1L346.3,200.6L345.5,198.7L344.6,199.5L343.2,203.4L343.4,206.4ZM324.3,218.4L325.9,216.7L326.8,213.9L326.1,213.1L324.3,213.4L322.7,215.3L322.7,217.6ZM342.7,220.3L343.0,225.0L344.1,223.4L344.5,226.3L345.4,228.2L344.5,230.3L345.6,231.4L348.3,233.2L349.8,234.0L349.7,230.8L347.5,228.0L346.8,229.5L344.9,224.5L345.5,221.7L346.8,217.7L343.1,217.4ZM348.9,248.6L350.4,251.7L352.3,253.1L353.6,251.4L354.6,248.6L353.9,243.4L352.7,241.7L350.4,246.1L349.1,247.3L346.4,249.5ZM350.5,237.0L351.4,241.1L352.3,238.6L352.8,235.0L350.5,234.2ZM347.1,239.8L348.2,238.4L346.4,236.1ZM347.3,242.5L348.6,243.4L349.1,239.8L347.9,238.6ZM348.9,242.3L350.0,240.3L349.5,237.8ZM340.2,242.5L342.0,239.8L341.6,238.4L339.3,241.7L337.9,245.6ZM343.8,234.2L345.0,234.8L345.5,232.3L343.4,231.4ZM324.6,269.9L325.5,274.4L325.6,277.9L328.0,279.4L329.6,279.3L333.1,278.6L335.5,279.4L336.8,275.9L337.6,273.1L337.2,269.9L338.4,266.3L341.0,266.2L340.1,263.2L339.6,260.7L339.8,258.2L340.2,256.8L341.6,253.9L338.7,252.3L337.3,249.3L336.3,251.5L335.2,254.9L331.5,256.1L329.5,258.6L326.1,261.2L326.7,262.6L324.1,263.2L324.5,264.7ZM300.2,254.4L302.1,257.8L303.7,261.1L306.6,263.1L308.0,266.7L308.7,271.4L308.3,276.2L309.7,280.2L312.2,282.6L315.2,284.9L316.7,285.0L317.4,281.4L318.6,278.0L317.4,276.1L314.2,274.5L313.8,271.7L313.1,267.1L309.9,264.0L307.1,263.4L304.9,261.1L303.4,257.6L303.0,253.5L298.6,253.4ZM318.8,289.4L321.5,290.5L325.0,291.4L329.5,291.9L332.9,293.0L333.1,290.5L329.9,288.1L327.7,287.5L325.9,288.1L322.4,286.9L320.6,285.6L317.9,285.3L316.5,287.8ZM334.0,293.3L337.5,293.9L341.1,293.3L346.4,293.6L348.2,292.5L347.3,291.7L343.8,291.9L341.1,292.2L338.4,291.9L336.6,292.2L334.0,291.7ZM350.9,297.2L353.6,294.4L355.9,292.2L352.1,293.9L350.0,296.7ZM342.9,297.2L344.3,295.5L341.1,295.5ZM350.7,267.5L352.1,264.5L348.2,266.1L344.6,265.3L342.9,267.0L343.4,269.3L344.1,267.5L346.4,267.5ZM344.9,276.3L346.4,281.6L348.6,280.8L347.1,277.4L344.8,273.3L348.9,272.4L345.1,271.9L342.5,269.6L343.9,269.5L342.6,270.4L341.0,271.4L340.0,275.8L340.3,278.3L340.7,279.9L341.8,286.9L346.0,284.2L344.3,280.7L343.4,277.0ZM356.2,267.5L357.1,271.1L358.4,268.9L357.1,266.7L358.4,264.7L357.1,262.8L356.2,263.9ZM358.0,278.6L361.6,279.4L362.1,277.8L357.1,277.2ZM354.5,279.4L355.3,277.8L353.6,277.8ZM363.8,275.9L366.4,275.5L365.8,276.0L364.3,279.1L367.7,278.0L368.5,279.2L370.5,281.0L373.3,282.0L376.1,284.0L377.0,288.7L375.7,288.7L376.4,293.4L376.4,292.5L380.3,295.1L384.3,294.3L385.3,292.4L386.0,290.6L389.0,292.6L391.8,297.2L394.4,297.4L395.8,297.5L394.6,293.8L392.3,291.8L390.9,289.5L392.3,287.5L391.2,286.5L386.9,284.5L385.7,281.3L381.7,278.1L378.7,274.9L373.8,273.1L372.1,276.0L369.4,278.1L369.4,274.4L368.2,269.9L363.0,269.2L361.4,273.8ZM396.3,286.4L399.0,284.2L400.4,280.8L399.0,280.6L396.3,282.8L393.7,284.2ZM399.0,278.1L400.8,281.4L401.9,281.4L399.9,278.1L397.8,276.1ZM332.2,334.2L332.3,336.6L333.9,340.1L333.1,341.9L333.3,346.3L333.7,349.4L333.1,352.4L334.5,356.3L335.6,359.3L334.4,361.8L333.9,365.0L336.6,366.9L339.1,365.7L342.9,362.9L346.8,363.7L349.0,362.7L351.2,359.3L355.1,357.7L358.7,355.7L363.5,355.5L365.8,358.6L367.0,360.7L368.1,364.5L371.4,367.1L372.4,364.9L373.4,361.8L375.3,362.0L373.2,364.2L373.4,368.5L374.8,366.4L375.8,363.4L376.7,365.2L377.7,366.8L380.4,369.2L379.5,370.8L379.7,374.8L381.5,376.8L384.8,376.7L387.3,374.7L388.2,376.1L390.1,377.3L391.2,375.3L393.4,374.2L396.6,373.0L397.1,369.6L398.7,366.0L399.2,363.0L400.5,359.1L401.0,356.3L402.1,352.2L403.5,348.1L402.8,343.8L402.9,340.0L401.4,337.9L398.6,335.0L397.1,332.6L395.9,331.8L394.8,329.6L394.6,325.2L392.2,322.5L389.9,321.6L388.9,317.8L388.4,314.7L389.3,309.6L387.5,306.7L386.9,307.5L386.3,304.6L384.7,301.4L382.3,298.7L381.4,303.5L382.1,306.3L382.1,310.6L380.4,314.4L379.7,317.0L377.2,316.1L375.0,314.2L372.6,312.2L371.6,310.5L372.1,309.6L372.2,306.3L372.8,303.4L372.3,302.2L369.6,302.7L367.0,301.6L365.1,299.8L363.9,300.5L363.0,303.8L362.2,305.8L359.8,311.4L357.0,311.2L356.2,309.3L354.5,306.6L351.1,307.6L349.2,310.1L348.8,313.8L347.5,316.3L346.0,320.6L342.9,324.0L340.1,325.0L337.0,326.1L335.6,327.4L332.9,330.5L332.0,329.9ZM386.7,384.1L388.3,387.7L390.6,389.9L392.4,388.8L393.3,385.5L393.3,382.4L389.2,383.0L386.7,381.9ZM436.9,367.2L441.0,369.6L442.5,372.5L440.5,376.3L438.0,378.4L440.0,379.8L439.8,384.1L441.5,384.4L442.7,379.7L444.5,376.2L445.1,377.5L447.5,374.8L445.0,375.2L442.5,373.3L441.8,370.5L439.5,369.1L438.4,365.9L435.5,364.7ZM435.3,382.6L433.7,385.3L432.9,388.3L428.0,390.2L425.5,393.4L426.3,395.3L428.1,395.2L429.4,396.8L432.3,395.8L433.7,391.4L436.1,389.4L437.5,387.3L438.7,385.1L438.4,383.9L437.7,382.1ZM422.7,328.0L425.7,331.1L426.6,330.8L424.0,327.2L421.3,325.0ZM214.4,307.1L211.5,309.1L211.1,311.8L206.4,316.2L206.7,320.3L207.4,324.2L204.9,330.1L204.2,333.7L205.5,338.3L210.2,340.6L214.8,337.1L214.4,333.8L214.3,330.6L215.7,327.6L216.3,324.5L216.7,320.2L217.9,316.1L219.1,311.9L218.3,308.7L216.7,305.6L218.6,303.0Z"/><path id="ca" d="M770.9,465.4L767.9,465.4L764.6,463.6L761.6,464.3L759.0,466.6L756.1,467.7L753.4,467.8L750.2,468.3L747.5,470.1L744.8,471.9L741.7,472.2L738.3,471.9L734.7,470.7L731.3,470.3L728.7,472.2L726.2,474.6L723.4,476.3L720.2,476.9L717.1,477.9L714.4,479.4L711.6,480.9L708.5,480.8L705.2,480.7L702.3,481.9L699.6,483.5L696.6,484.4L693.6,485.2L690.6,487.3L686.2,488.0L681.2,487.8L678.3,486.9L675.6,485.1L673.1,483.5L668.0,481.6L664.8,480.3L661.7,478.6L660.3,475.6L658.2,472.9L660.2,467.4L662.0,464.1L662.0,460.6L661.5,454.4L663.4,452.0L666.1,450.4L668.2,448.2L670.6,446.7L669.0,444.3L663.9,445.8L660.4,447.3L656.5,447.9L654.1,450.3L651.4,452.3L647.8,454.1L644.9,456.5L642.7,459.8L640.4,462.9L638.1,465.2L636.9,468.9L632.0,473.3L629.8,470.6L628.1,467.6L625.3,469.2L622.6,471.1L619.1,471.5L614.7,470.9L610.2,471.0L605.7,471.4L601.3,473.1L596.8,472.7L592.4,470.3L589.2,469.6L586.3,470.3L583.3,470.9L580.3,471.9L577.8,474.3L574.6,475.4L570.1,473.6L565.7,473.8L561.2,474.0L556.8,473.0L552.3,473.2L547.6,471.5L544.4,470.2L541.5,471.4L538.9,473.0L534.5,474.1L529.9,473.9L526.8,473.3L524.0,475.0L521.4,476.6L518.1,476.6L515.2,477.7L512.4,480.1L509.4,480.4L506.3,479.8L503.2,479.7L500.1,480.1L497.2,481.4L494.6,484.1L491.6,484.2L488.3,482.7L485.2,482.3L481.6,482.2L478.2,484.1L475.0,487.2L471.5,488.1L467.6,487.3L464.1,485.8L460.5,484.7L456.9,483.9L453.4,484.8L449.8,485.6L446.3,485.2L442.7,485.6L439.1,485.0L435.6,484.7L432.0,485.7L427.5,486.1L422.9,485.7L420.3,483.1L423.1,481.0L424.3,478.7L426.2,475.6L427.9,472.6L429.4,469.4L432.0,466.9L427.6,465.8L422.8,466.7L419.6,466.7L416.8,465.1L414.1,463.3L411.5,461.3L408.6,460.0L405.5,458.9L402.6,458.1L399.3,459.2L396.0,460.0L393.0,459.2L390.2,457.9L387.5,455.7L384.8,454.0L381.7,454.1L378.2,455.4L375.2,454.9L372.5,453.3L369.6,452.3L365.2,452.9L360.8,453.6L356.2,453.2L351.7,452.6L347.2,452.7L342.9,453.7L338.3,455.0L333.7,454.9L330.9,453.5L327.9,453.2L325.2,454.3L320.8,455.0L315.9,454.3L313.0,453.2L310.1,452.3L307.3,452.0L302.8,452.2L298.1,450.8L295.1,451.0L292.4,453.0L289.4,453.8L284.9,453.5L280.5,454.2L277.6,455.0L274.4,454.9L271.1,455.4L268.5,457.9L265.7,460.1L262.7,461.9L257.8,462.7L254.3,457.1L251.4,456.2L248.2,456.0L244.8,456.4L240.4,457.6L235.7,456.9L232.9,455.4L229.7,455.3L227.1,454.1L223.8,452.5L220.8,452.7L218.0,454.6L215.2,456.0L211.9,455.9L208.7,455.9L205.8,457.2L203.1,458.9L200.3,460.5L196.8,461.6L193.2,461.9L189.6,461.6L186.1,461.8L182.4,461.5L178.7,460.1L175.1,459.3L171.6,460.5L168.2,462.6L164.6,462.7L161.1,462.8L157.5,463.9L154.0,462.5L150.4,462.0L146.8,463.6L143.3,464.1L139.7,464.5L136.1,463.9L132.6,462.4L129.0,462.9L126.0,463.6L122.9,463.2L123.2,466.3L124.3,469.3L124.4,472.4L123.9,475.5L123.6,478.6L123.3,481.6L123.3,484.7L123.4,487.8L123.7,490.9L124.9,493.9L124.4,497.0L122.9,500.1L123.5,503.2L124.1,506.2L124.3,509.3L124.1,512.4L123.2,515.5L123.0,518.5L122.8,521.6L123.0,524.9L126.0,525.0L129.0,526.2L132.0,526.5L135.0,526.4L138.1,527.3L141.1,526.4L144.1,524.8L147.1,525.6L150.1,525.6L153.1,523.2L156.1,523.2L159.1,525.1L162.2,525.6L165.2,525.5L168.2,525.8L171.2,527.1L174.2,527.9L177.2,526.3L180.2,524.3L183.2,523.4L186.3,523.2L189.3,523.8L192.3,524.4L195.3,524.0L198.3,523.3L201.3,523.7L204.3,524.8L207.3,524.8L210.3,524.9L213.4,525.9L216.4,525.6L219.4,524.2L222.4,523.7L225.4,524.6L228.4,526.2L231.4,525.4L234.4,524.0L237.5,525.3L240.5,526.2L243.5,526.0L246.5,525.7L249.5,525.7L252.5,525.5L255.5,525.1L258.5,525.4L261.6,524.7L264.6,523.2L267.6,522.9L270.6,524.3L273.6,525.5L276.6,524.0L279.6,522.7L282.6,524.1L285.6,527.0L288.7,529.2L291.7,528.2L294.7,525.4L297.7,524.2L300.7,524.4L303.7,524.3L306.7,525.0L309.7,525.0L312.8,523.6L315.8,522.6L318.8,521.6L321.8,522.3L324.8,523.7L327.8,523.9L330.8,524.6L333.8,524.5L336.9,523.7L339.9,524.3L342.9,523.8L345.9,523.5L348.9,523.9L351.9,523.8L354.9,524.8L357.9,524.8L360.9,524.1L364.0,525.0L367.0,524.4L370.0,522.8L373.0,523.6L376.0,525.5L379.0,526.7L382.0,526.7L385.0,526.0L388.1,525.1L391.1,524.3L394.1,523.5L397.1,523.8L400.1,523.3L403.1,522.0L406.1,524.2L409.1,526.5L412.2,526.6L415.2,525.9L418.2,523.2L421.2,521.7L424.2,524.3L427.2,525.9L430.2,525.6L433.2,525.6L436.2,525.1L439.3,525.6L442.3,526.5L445.3,525.8L448.3,523.5L451.3,522.5L454.3,524.1L457.3,524.8L460.3,523.8L463.4,524.8L466.4,525.7L469.4,525.4L472.4,525.9L475.4,525.8L478.4,525.1L481.4,525.5L484.4,525.3L487.4,524.2L490.5,524.7L493.5,525.9L496.5,526.5L499.5,526.0L502.5,524.5L505.5,523.3L508.5,523.7L511.5,524.6L514.6,524.4L517.6,524.0L520.6,525.1L523.6,526.5L526.6,526.1L529.6,525.4L532.6,525.7L535.6,524.8L538.7,523.0L541.7,523.6L544.7,525.7L547.7,525.8L550.7,525.2L553.7,526.5L556.7,527.1L559.7,525.4L562.7,524.2L565.8,523.8L568.8,522.9L571.8,523.5L574.8,525.1L577.8,525.9L580.8,525.7L583.8,524.8L586.8,524.4L589.9,523.3L592.9,522.8L595.9,524.8L598.9,526.2L601.9,525.1L604.9,524.0L607.9,523.7L610.9,523.7L614.0,524.0L617.0,524.3L620.0,524.7L623.0,525.1L626.0,524.6L629.0,524.0L632.0,525.1L635.0,525.0L638.0,523.3L641.1,523.6L644.1,524.8L647.1,524.7L650.1,524.4L653.1,524.4L656.1,523.1L659.1,523.0L662.1,525.1L665.2,526.2L668.2,525.1L671.2,523.1L674.2,524.3L677.2,527.2L680.2,527.1L683.2,526.3L686.2,526.5L689.3,527.1L692.3,527.2L695.3,525.8L698.3,525.5L701.3,525.7L704.3,523.9L707.3,523.3L710.3,523.5L713.3,524.2L716.4,525.8L719.4,526.3L722.4,526.0L725.4,525.7L728.4,524.2L731.4,523.2L734.4,524.8L737.4,525.9L740.5,524.6L743.5,524.5L746.5,525.9L749.5,525.6L752.5,524.0L755.5,523.5L758.5,523.5L761.5,523.4L764.6,523.6L767.6,523.2L770.6,523.5L773.6,523.9L775.8,524.7L776.4,521.6L776.4,518.5L776.2,515.5L776.4,512.4L777.2,509.3L776.5,506.2L776.1,503.2L777.1,500.1L776.9,497.0L775.7,493.9L774.8,490.9L774.9,487.8L775.3,484.7L775.5,481.6L775.7,478.6L776.6,475.5L777.8,472.4L777.3,469.3L776.2,466.3L776.6,464.4L773.6,464.8Z"/><path id="bs" d="M178.9,154.3L180.7,154.5L184.2,154.8L188.7,152.3L191.4,152.3L194.1,154.3L196.7,155.4L200.3,155.1L203.0,153.7L203.3,150.9L200.3,148.4L196.7,145.7L194.9,144.6L194.2,143.4L195.8,142.6L197.6,139.3L195.8,138.2L192.3,139.8L191.4,142.3L192.3,143.7L188.7,145.4L187.8,143.2L186.9,142.9L188.7,141.2L184.2,139.6L182.5,141.8L181.8,144.0L180.3,145.4L179.8,148.7L178.7,150.9Z"/>
<mask id="hc_a" maskUnits="userSpaceOnUse" x="93.4" y="5.2" width="712.9" height="527.4"><path fill="#fff" fill-rule="evenodd" d="M93.4,5.2H806.2V532.6H93.4ZM84.4,-15.6L815.2,-15.6L815.2,62.0L813.3,63.2L811.1,65.9L809.9,70.0L809.3,75.4L808.2,77.4L806.4,78.0L802.9,78.1L796.0,76.9L792.9,75.4L790.7,73.6L789.0,71.2L785.2,63.2L782.0,60.0L776.8,58.8L759.3,60.4L754.1,59.4L751.2,57.7L749.1,55.0L748.1,52.3L747.3,40.1L746.6,37.4L744.8,34.7L741.9,33.1L740.2,33.2L736.7,34.6L726.2,41.8L715.8,47.1L712.5,49.6L712.3,50.9L713.1,52.3L719.2,57.2L726.2,66.3L736.7,74.3L748.9,87.9L752.3,93.0L757.6,103.3L764.6,112.1L765.9,117.5L765.4,121.6L762.8,125.6L752.4,133.8L750.1,136.5L746.0,143.3L743.7,145.8L734.1,151.4L731.6,154.2L731.5,156.9L737.4,165.0L738.9,170.4L738.1,174.5L733.2,182.5L731.7,186.7L731.2,192.2L732.1,201.7L731.5,205.8L726.2,214.4L719.8,222.1L714.0,226.7L710.5,228.3L708.8,228.6L705.4,227.5L703.5,226.0L696.6,216.7L693.1,213.7L687.8,212.8L675.6,213.9L672.2,213.0L661.3,205.8L649.0,201.7L644.2,199.4L641.3,196.2L640.3,193.5L641.2,189.5L645.4,185.4L649.5,183.2L662.4,178.6L666.9,176.3L672.6,171.8L678.0,165.0L681.0,162.3L686.1,159.6L698.3,156.1L699.7,155.5L700.2,154.2L691.3,144.5L686.1,136.1L680.2,124.3L676.9,120.2L673.9,118.3L670.4,117.3L654.2,116.1L651.5,114.8L649.3,112.1L649.4,110.7L650.3,109.3L656.5,103.9L665.2,92.8L668.7,90.2L678.9,84.9L691.3,75.8L694.6,72.7L696.6,69.1L697.7,61.8L697.3,59.1L695.9,56.4L687.8,51.2L679.7,44.2L675.6,42.0L663.4,38.9L647.7,37.0L635.5,37.8L625.1,40.2L619.8,42.0L615.8,44.2L613.3,46.9L610.5,50.9L607.6,53.7L602.4,55.9L591.9,58.5L587.6,60.5L584.9,63.2L581.4,68.6L578.0,71.7L572.7,73.8L567.5,74.5L564.0,73.7L556.6,68.6L551.2,65.9L530.9,58.2L525.7,57.1L510.0,58.1L496.0,58.0L482.1,59.6L476.8,58.5L464.6,52.7L457.6,51.3L447.2,50.9L424.5,51.1L393.1,48.1L373.9,44.9L367.0,44.2L360.0,44.4L339.1,46.8L321.6,46.5L309.4,45.3L267.6,38.9L257.1,38.6L250.1,39.8L244.9,41.9L229.4,53.7L224.3,56.4L218.7,58.3L204.8,60.6L196.1,61.0L180.4,60.5L176.9,60.9L173.4,62.1L170.5,64.5L169.1,67.2L168.4,72.7L169.4,78.1L169.2,79.5L168.2,79.6L155.9,77.4L150.7,74.9L147.5,71.3L142.7,61.8L140.3,59.9L138.5,59.2L133.3,58.8L119.3,60.4L114.1,59.7L110.6,58.2L108.6,56.4L107.0,53.7L106.1,49.6L105.6,38.7L103.6,34.9L101.9,33.6L100.1,33.3L96.7,34.3L84.4,41.9L84.4,-15.6ZM84.4,67.2L84.4,66.1L86.2,66.6L89.7,68.2L93.2,70.7L100.8,80.8L107.1,87.6L110.0,91.7L115.8,103.0L122.9,112.1L124.3,117.5L123.8,121.6L121.2,125.6L110.6,133.8L108.4,136.5L104.3,143.3L101.9,146.0L92.7,151.4L90.0,154.2L89.6,155.5L90.4,158.2L94.9,163.7L96.4,166.4L97.2,171.8L96.5,174.5L92.2,181.3L90.3,185.4L89.3,192.2L90.2,204.4L88.0,209.8L84.4,214.6L84.4,67.2ZM594.9,80.8L597.2,80.4L600.7,81.2L602.4,82.7L604.1,85.8L605.4,86.3L619.8,87.3L626.8,89.0L628.8,90.3L630.7,93.0L631.3,97.1L630.5,99.8L628.6,101.6L623.3,103.0L612.9,103.4L607.6,102.8L606.2,101.2L605.2,91.7L604.1,86.7L595.4,84.3L594.4,83.5L593.8,82.2L594.9,80.8ZM529.9,90.3L541.4,89.6L550.1,90.6L554.6,93.0L555.6,94.4L555.9,97.1L554.4,101.2L551.1,105.3L548.3,107.4L541.4,111.3L539.0,113.4L537.3,116.1L534.1,125.6L530.9,129.7L529.1,130.6L525.7,131.0L515.2,128.9L511.7,129.1L507.9,131.1L505.7,133.8L504.3,136.5L503.6,140.6L503.8,141.9L504.7,143.0L508.2,144.3L516.9,146.2L519.8,147.4L522.9,150.1L524.2,152.8L524.5,156.9L523.9,160.9L519.5,171.8L518.7,175.9L518.8,180.0L520.8,193.5L520.6,196.2L519.4,199.0L516.9,200.6L513.5,200.9L501.2,197.0L496.0,195.9L480.3,196.6L475.9,196.2L471.6,194.9L462.9,190.1L448.9,185.2L447.6,184.0L447.2,182.7L447.5,181.3L449.9,178.6L452.0,177.2L459.4,174.6L469.9,173.5L473.3,172.7L483.8,165.2L494.3,160.1L497.8,157.1L500.2,151.4L500.3,146.0L499.2,144.6L489.0,140.3L482.8,136.5L479.0,132.4L477.9,129.7L478.2,128.4L481.0,125.6L497.8,117.6L501.9,114.8L505.2,110.7L510.6,99.8L514.3,95.8L520.4,92.6L529.9,90.3ZM598.5,106.6L600.7,106.4L601.8,108.0L600.7,109.8L598.9,110.4L596.3,109.3L596.5,108.0L598.5,106.6ZM329.4,117.5L332.1,116.8L335.6,117.3L341.0,120.2L348.6,127.0L362.6,136.5L371.2,143.3L375.8,148.7L376.2,150.1L375.7,152.2L373.9,153.7L370.5,154.4L367.0,153.6L363.5,151.5L340.8,132.5L332.1,127.0L328.8,124.3L327.3,121.6L327.2,120.2L327.8,118.8L329.4,117.5ZM386.4,120.2L389.6,119.8L394.9,120.2L398.6,121.6L400.0,122.9L400.3,124.3L398.4,126.5L394.9,127.6L389.6,127.8L386.1,127.1L383.7,125.6L382.8,124.3L382.7,122.9L383.6,121.6L386.4,120.2ZM440.1,131.1L447.2,131.0L450.6,132.4L451.3,133.8L451.5,136.5L450.4,140.6L448.9,141.9L447.2,142.5L442.0,142.8L435.0,141.7L430.6,139.2L429.9,137.9L429.9,136.5L431.5,134.3L434.7,132.4L440.1,131.1ZM145.0,148.7L147.2,147.5L150.7,148.7L152.5,151.3L151.9,152.8L149.0,154.1L147.2,153.8L145.6,152.8L144.8,151.4L145.0,148.7ZM786.7,148.7L789.0,147.6L792.2,148.7L794.1,151.4L793.6,152.8L791.3,154.2L789.0,154.1L787.3,153.0L786.4,151.4L786.7,148.7ZM171.6,163.7L176.9,164.0L182.1,165.9L192.6,173.6L203.0,179.2L206.7,182.7L208.4,188.1L210.2,215.3L209.4,223.4L207.9,228.8L206.5,231.6L203.0,235.0L189.1,244.7L185.6,246.3L182.1,247.1L176.9,247.3L171.6,246.2L166.4,244.0L159.4,239.6L152.5,234.2L149.0,230.4L146.9,226.1L145.8,220.7L145.6,197.6L146.6,193.5L149.8,189.5L159.8,180.0L161.4,177.2L164.2,169.1L165.7,166.4L168.2,164.5L171.6,163.7ZM814.8,163.7L815.2,163.6L815.2,246.8L811.7,245.6L806.4,242.9L796.0,235.9L792.5,232.9L790.3,230.2L788.5,226.1L787.4,220.7L787.1,215.3L787.6,197.6L788.8,193.5L790.8,190.8L801.2,179.7L808.2,166.7L810.3,165.0L814.8,163.7ZM118.8,287.2L121.1,287.4L124.4,288.6L131.5,293.9L135.0,295.4L138.5,296.2L147.2,296.8L150.7,298.1L151.3,300.8L149.9,304.9L145.3,310.3L138.5,314.9L133.3,316.2L128.0,315.4L124.7,313.0L119.3,307.8L113.5,303.5L112.1,302.2L110.8,299.5L110.7,295.4L112.3,290.7L114.4,288.6L118.8,287.2ZM760.5,287.2L762.8,287.4L766.0,288.6L773.3,293.9L776.7,295.4L790.7,297.4L791.8,298.1L792.6,299.5L792.4,302.2L791.2,304.9L786.6,310.3L780.3,314.8L776.8,316.0L773.3,316.4L770.2,315.7L768.1,314.6L761.1,308.0L754.1,302.5L752.4,299.5L752.3,295.4L754.1,290.5L756.0,288.6L760.5,287.2ZM84.4,310.3L84.4,309.3L87.9,310.3L91.4,312.8L95.9,322.5L98.9,325.3L103.6,326.1L117.6,324.8L121.1,325.4L122.8,326.3L124.6,328.1L129.7,336.1L138.5,341.5L141.1,344.3L142.3,348.3L141.7,351.1L140.3,353.5L136.8,356.6L132.0,359.2L124.6,362.2L119.3,363.5L114.1,363.7L100.1,362.4L84.4,363.0L84.4,310.3ZM695.9,310.3L700.1,309.5L721.0,309.0L728.0,309.7L731.4,311.3L733.3,313.0L736.7,322.3L739.6,325.3L743.7,326.1L757.6,324.7L762.8,325.5L766.0,328.0L771.3,336.1L778.5,340.5L782.0,343.4L783.7,347.0L783.2,351.1L780.3,355.1L776.8,357.6L768.1,361.6L761.1,363.4L755.9,363.6L743.7,362.5L728.0,363.1L721.0,361.7L717.5,359.2L716.5,356.5L716.9,353.8L719.2,347.0L719.2,344.3L717.0,341.6L708.8,338.1L705.3,334.8L700.1,323.0L694.9,317.1L693.4,314.4L694.1,311.7L695.9,310.3ZM558.5,322.5L562.3,321.8L565.8,322.2L571.8,325.3L575.0,328.0L577.0,330.7L577.8,333.4L577.0,336.1L575.3,337.5L572.7,338.4L567.5,338.9L562.3,338.0L558.8,336.1L555.9,332.0L555.1,328.0L555.7,325.3L556.6,323.9L558.5,322.5ZM103.3,375.5L108.9,374.8L114.1,374.9L133.3,377.9L142.0,380.2L148.5,383.6L150.8,386.4L151.0,387.7L150.4,389.1L148.7,390.4L138.5,394.5L135.6,397.2L135.0,399.9L135.6,401.3L138.5,403.1L142.0,403.5L147.2,402.7L150.9,401.3L157.7,397.2L161.2,395.8L166.4,394.9L171.6,394.8L176.9,395.4L182.1,397.0L192.6,404.4L196.1,405.9L201.3,406.9L204.8,406.6L208.3,405.4L210.0,403.9L211.3,401.3L211.0,398.6L210.0,397.2L206.5,395.1L197.5,391.8L194.9,389.1L195.1,386.4L197.6,383.6L200.3,382.3L204.8,381.1L210.0,380.9L215.2,382.1L224.4,387.7L234.1,391.8L236.8,394.5L239.8,401.3L241.7,404.0L244.9,406.1L248.4,406.6L253.6,406.0L259.9,404.0L262.5,402.7L264.9,399.9L264.7,397.2L262.3,394.0L258.8,391.5L252.0,387.7L250.5,386.4L250.2,385.0L250.8,383.6L252.4,382.3L259.7,379.6L267.6,378.2L278.0,377.3L326.9,376.8L339.1,377.2L363.5,379.5L368.7,380.7L372.2,382.3L375.7,384.8L378.4,387.7L380.0,390.4L381.4,394.5L383.2,405.4L384.4,409.4L386.1,411.7L389.6,412.8L396.6,410.8L404.0,406.7L408.1,402.7L412.3,395.8L415.8,392.8L431.5,387.7L434.4,386.4L443.7,379.0L447.2,377.9L452.4,377.2L468.1,377.2L480.3,379.9L492.5,376.8L508.2,375.3L537.9,375.6L558.8,374.8L567.5,375.6L586.7,380.5L593.9,383.6L595.3,385.0L595.9,387.7L593.3,394.5L593.0,397.2L593.4,398.6L595.4,400.4L600.7,402.2L616.3,405.2L628.6,409.4L633.8,410.2L637.3,409.7L647.7,406.2L654.7,405.1L693.1,404.7L700.9,404.0L707.0,402.7L712.0,399.9L719.1,393.2L728.0,387.5L738.4,378.3L741.9,376.4L745.4,375.3L750.6,374.7L755.9,374.9L778.5,378.7L783.8,380.2L788.1,382.3L791.4,385.0L792.5,387.7L791.9,389.1L790.2,390.4L782.0,393.5L778.3,395.9L776.8,398.1L776.6,399.9L777.2,401.3L778.9,402.7L782.0,403.4L787.3,403.0L792.2,401.3L801.2,396.6L806.4,395.5L815.2,395.0L815.2,553.4L751.1,553.4L750.6,529.0L752.9,516.7L752.4,514.0L750.7,511.3L708.5,480.1L701.8,477.0L693.1,476.1L684.4,477.0L673.9,480.1L667.6,482.8L656.5,489.3L647.7,492.7L646.0,493.9L640.8,500.8L630.8,507.2L627.6,509.9L625.9,512.7L625.2,516.7L626.6,529.0L626.3,553.4L518.3,553.4L517.9,529.0L519.9,516.7L519.5,514.0L517.9,511.3L514.6,508.6L506.5,503.9L498.3,496.4L487.3,490.2L481.6,484.1L478.6,482.0L473.3,480.9L462.9,481.6L457.6,481.1L454.2,479.4L452.4,477.9L446.1,470.6L443.7,469.1L440.2,468.5L435.6,469.2L431.5,471.2L422.4,478.7L407.4,488.2L387.9,502.3L379.2,510.0L377.5,512.7L376.6,516.7L378.3,529.0L377.9,553.4L323.0,553.4L323.0,508.6L322.2,503.1L320.3,499.1L316.4,495.2L307.7,489.6L300.7,482.8L290.5,476.0L283.3,469.3L274.5,464.0L267.6,456.1L265.8,455.1L262.3,454.3L258.8,455.3L257.1,456.6L250.8,463.8L241.4,470.2L238.5,474.6L237.6,478.7L237.9,482.8L238.9,485.5L247.7,499.1L250.8,505.9L252.5,511.3L253.0,516.7L252.5,529.0L252.6,553.4L109.5,553.4L109.0,530.3L109.4,526.2L111.3,518.1L110.8,514.0L109.1,511.3L107.1,509.5L96.7,502.2L88.2,495.0L84.4,492.9L84.4,388.8L87.9,386.5L96.7,378.3L100.1,376.4L103.3,375.5ZM461.1,395.4L455.9,397.9L453.7,401.3L453.4,404.0L454.0,406.7L455.9,409.2L457.6,410.1L461.1,410.1L466.4,407.7L472.1,402.7L474.7,398.6L474.9,397.2L474.5,395.9L471.6,394.7L466.4,394.7L461.1,395.4ZM607.6,470.3L604.1,471.9L603.4,473.3L603.6,474.6L605.9,476.8L609.4,478.2L614.6,478.9L616.7,478.7L618.9,477.3L619.3,474.6L617.4,471.9L612.9,470.2L607.6,470.3Z"/><rect x="118.3" y="139.8" width="76.6" height="45.8" fill="#000"/><rect x="177.1" y="137.1" width="26.7" height="20.8" fill="#000"/><rect x="186.0" y="184.2" width="21.4" height="51.3" fill="#000"/></mask><mask id="hc_b" maskUnits="userSpaceOnUse" x="93.4" y="5.2" width="712.9" height="527.4"><path fill="#fff" fill-rule="evenodd" d="M93.4,5.2H806.2V532.6H93.4ZM84.4,-15.6L815.2,-15.6L815.2,36.4L806.4,35.0L799.5,35.3L795.4,37.4L793.8,40.1L793.5,42.8L794.2,46.3L796.0,49.8L804.7,58.0L810.2,68.6L811.7,70.0L815.2,71.6L815.2,86.9L808.2,85.4L797.7,81.4L782.0,80.6L778.5,79.3L773.3,76.2L768.1,74.6L759.3,74.5L745.4,78.0L741.9,77.6L740.2,76.6L737.7,74.0L735.2,70.0L734.4,67.2L734.9,65.6L736.0,64.5L738.4,63.4L748.9,60.5L755.4,57.7L758.9,55.0L759.8,53.7L760.3,50.9L759.0,46.9L754.1,42.0L748.9,39.2L741.9,37.4L734.9,37.8L729.7,39.9L726.6,42.8L722.7,49.0L721.0,50.9L717.5,52.1L693.1,51.2L687.8,50.0L673.9,44.9L661.7,42.6L647.7,41.5L637.3,42.1L632.0,43.4L628.6,45.0L625.1,47.7L619.3,53.7L614.6,56.2L609.4,57.4L591.9,59.7L586.7,61.2L578.0,65.0L574.5,65.6L569.3,64.6L558.8,58.5L555.3,57.5L550.1,57.0L544.8,57.2L539.6,58.1L527.4,62.1L513.5,60.8L510.0,61.4L501.2,64.1L497.8,64.0L494.3,62.5L483.8,51.6L481.3,49.6L478.6,48.5L475.1,48.6L464.6,50.8L459.4,50.9L442.0,47.4L415.8,46.9L410.6,45.9L400.1,42.6L377.4,41.4L370.5,41.7L353.0,45.2L346.0,45.5L332.1,43.1L316.4,42.4L304.2,38.4L298.9,37.6L295.5,38.0L285.0,41.0L278.0,41.4L271.0,40.3L265.7,38.7L255.4,33.5L251.9,32.3L243.1,31.5L238.8,31.9L234.0,33.3L231.6,34.7L230.4,36.0L230.4,37.4L232.1,38.7L236.2,39.9L248.4,41.7L252.0,42.8L254.2,44.2L255.4,45.5L256.3,48.2L256.4,50.9L255.7,53.7L253.6,56.6L249.8,59.1L239.7,63.4L236.5,65.9L234.6,68.6L233.3,72.7L232.7,78.1L233.4,80.8L237.6,87.6L237.5,90.3L236.4,93.0L234.4,95.5L232.7,96.7L227.4,98.5L215.2,100.0L203.0,99.8L197.8,98.8L194.3,97.4L185.7,90.3L182.1,88.7L168.2,85.7L155.9,81.3L140.3,80.6L131.5,76.1L128.0,74.9L122.8,74.2L117.6,74.6L105.4,77.7L101.9,78.0L100.1,77.7L97.0,75.4L93.8,70.0L93.4,67.2L93.9,65.9L96.7,63.8L108.9,59.9L114.1,57.5L117.6,54.5L118.7,50.9L117.4,46.9L114.1,43.1L108.9,39.7L103.6,37.9L98.4,37.5L93.2,38.5L89.3,40.1L84.4,43.6L84.4,-15.6ZM187.3,33.0L173.4,36.4L162.9,35.3L157.7,35.4L154.2,36.9L152.7,38.7L152.0,42.8L153.7,48.2L161.2,58.5L166.3,68.6L169.9,71.2L173.4,71.6L175.1,71.2L177.5,70.0L179.4,67.2L179.7,63.2L178.2,52.3L178.9,48.2L180.6,45.5L182.4,44.2L185.6,42.9L200.4,40.1L203.8,38.7L205.2,37.4L205.0,36.0L203.3,34.7L199.3,33.3L192.6,32.6L187.3,33.0ZM84.4,89.0L84.4,88.2L89.7,89.4L92.5,91.7L93.7,94.4L94.1,97.1L93.5,101.2L91.6,105.3L88.5,109.3L87.9,110.7L87.9,113.4L92.5,131.1L94.2,133.8L100.4,139.2L101.7,143.3L100.6,146.0L99.5,147.4L87.9,157.5L84.4,159.8L84.4,89.0ZM720.7,89.0L726.2,88.2L731.4,88.8L734.3,90.3L736.1,93.0L736.8,97.1L736.3,101.2L734.9,104.8L730.9,110.7L730.5,113.4L734.5,131.1L736.7,134.5L742.0,139.2L743.2,141.9L742.9,144.6L741.1,147.4L729.7,157.5L726.2,159.7L722.7,160.8L717.5,160.8L708.8,158.1L696.6,157.3L691.3,156.3L687.8,153.9L686.9,151.4L687.0,150.1L688.2,147.4L693.5,140.6L694.4,137.9L694.0,136.5L686.1,128.9L680.9,121.7L674.4,109.3L673.0,105.3L672.9,101.2L674.8,98.5L679.1,96.7L686.1,96.4L691.3,97.8L696.6,100.6L700.9,103.9L704.6,108.0L708.8,115.6L710.5,116.8L712.3,116.7L717.6,113.4L719.3,110.7L719.2,109.3L714.8,101.2L714.3,95.8L716.0,91.7L717.6,90.3L720.7,89.0ZM498.7,116.1L504.7,115.3L513.5,115.7L525.7,115.5L530.9,116.7L533.4,118.8L534.6,121.6L535.2,125.6L534.7,137.9L535.2,150.1L534.5,162.3L535.1,167.7L536.3,170.4L539.4,173.2L553.6,176.9L556.8,178.6L558.1,180.0L559.9,184.0L562.7,199.0L562.3,203.0L559.9,205.8L555.3,207.8L548.3,209.1L543.1,208.8L537.9,207.2L532.0,203.0L523.9,192.6L520.4,189.6L506.5,184.9L504.4,182.7L503.7,180.0L503.8,169.1L502.6,165.0L499.8,162.3L492.5,158.3L487.3,154.6L484.2,151.4L480.3,146.3L476.8,145.7L457.6,144.7L440.2,141.9L435.0,142.5L424.5,145.8L421.0,145.8L418.1,144.6L415.8,142.9L413.9,140.6L412.2,136.5L412.0,133.8L412.9,131.1L414.2,129.7L417.4,128.4L422.8,128.3L433.2,130.4L438.5,130.9L455.9,128.2L473.3,126.4L480.3,124.7L494.3,117.7L498.7,116.1ZM489.0,131.0L485.6,132.6L482.6,136.5L482.1,139.2L482.3,141.9L483.8,144.1L489.0,144.7L496.0,144.2L501.2,142.7L504.0,140.6L504.7,139.1L504.9,136.5L503.5,133.8L501.9,132.4L499.5,131.3L496.0,130.6L489.0,131.0ZM170.9,169.1L173.4,167.9L176.7,169.1L178.5,171.8L178.1,173.2L176.9,174.1L173.4,173.8L171.0,171.8L170.6,170.4L170.9,169.1ZM813.8,169.1L815.2,167.9L815.2,173.9L813.5,171.8L813.8,169.1ZM84.4,197.6L86.2,198.4L88.1,200.3L89.5,203.0L89.8,205.8L87.9,210.6L84.4,214.9L84.4,197.6ZM722.6,197.6L726.2,197.3L729.7,198.8L732.6,201.7L733.6,204.4L733.5,207.1L731.4,211.1L728.0,214.3L726.2,214.9L724.5,214.5L722.7,212.7L721.1,208.5L720.6,204.4L720.8,200.3L721.3,199.0L722.6,197.6ZM688.7,203.0L691.4,203.0L694.8,205.0L696.7,208.5L697.6,213.9L697.1,218.0L695.8,220.7L693.1,223.3L689.6,224.3L686.4,223.4L684.4,222.0L682.3,219.3L681.1,215.3L681.4,211.2L682.9,207.1L685.4,204.4L688.7,203.0ZM84.4,294.0L94.9,294.1L105.4,295.8L115.8,295.3L124.6,295.7L137.0,298.1L140.6,299.5L142.4,300.8L143.0,302.2L142.2,304.9L139.7,307.6L136.8,309.7L129.8,312.3L115.8,314.7L113.3,315.7L112.1,317.1L111.8,318.5L112.7,321.2L113.8,322.5L124.5,329.3L127.7,333.4L130.9,342.9L135.1,351.1L135.0,355.4L133.5,357.8L131.8,359.2L128.0,360.7L122.8,361.5L110.6,362.8L103.6,362.8L96.7,360.7L84.4,354.5L84.4,294.0ZM723.6,294.0L731.4,293.5L738.4,293.8L747.1,296.4L757.6,295.3L766.3,295.7L778.7,298.1L782.0,299.5L783.7,300.8L784.3,302.2L783.6,304.9L781.2,307.6L777.3,310.3L769.8,312.8L755.9,314.8L754.1,315.7L753.2,317.1L753.4,319.8L755.4,322.5L766.1,329.3L769.3,333.4L772.2,341.6L776.9,351.1L776.8,355.1L775.0,358.0L771.6,360.1L764.6,361.5L748.9,363.0L741.9,362.0L735.3,359.2L724.9,353.8L722.4,351.1L720.0,345.6L717.5,342.2L714.0,339.8L710.5,339.0L707.0,339.5L705.3,340.7L703.5,343.5L700.6,352.4L698.3,354.7L696.6,355.5L691.3,356.1L684.4,354.8L679.1,352.3L675.0,348.3L667.9,338.8L666.5,336.1L665.3,332.0L665.2,328.0L666.1,322.5L667.6,318.5L669.4,315.7L672.2,313.3L675.6,311.8L679.1,311.3L682.6,311.5L686.1,312.8L688.2,314.4L690.2,317.1L693.1,322.6L694.8,324.0L698.3,324.6L708.8,323.5L722.8,323.9L725.0,322.5L724.0,321.2L717.5,317.3L714.0,314.3L711.6,310.3L710.5,304.9L711.1,300.8L714.0,297.0L717.5,295.3L723.6,294.0ZM616.4,313.0L618.1,312.5L621.6,313.0L625.6,315.7L627.3,318.5L627.9,321.2L626.8,324.8L623.3,326.3L619.8,326.3L616.5,325.3L614.8,323.9L613.4,321.2L613.1,318.5L613.8,315.7L616.4,313.0ZM570.5,321.2L576.2,320.6L579.0,321.2L580.7,322.5L580.9,325.3L579.1,328.0L575.2,332.0L567.5,338.2L562.3,339.7L558.8,338.7L556.4,336.1L555.5,333.4L555.5,329.3L556.7,326.6L560.5,323.9L570.5,321.2ZM257.8,340.2L264.1,339.6L269.3,340.5L273.3,342.9L274.1,345.6L272.0,348.3L267.6,350.1L262.3,350.5L257.1,349.6L252.6,347.0L251.8,345.6L251.8,344.3L254.3,341.6L257.8,340.2ZM508.6,367.4L511.7,366.3L515.2,366.6L516.9,367.6L522.0,372.8L525.7,375.1L539.6,379.2L557.1,386.9L560.5,389.7L565.8,396.9L569.3,399.0L572.7,399.3L585.0,398.1L600.7,402.3L614.6,403.6L621.6,405.1L624.6,406.7L626.8,408.8L632.0,417.6L634.3,420.3L639.0,423.0L644.2,423.8L653.0,423.0L658.2,421.0L662.3,417.6L668.7,409.6L670.4,408.2L673.9,406.7L679.1,407.2L682.3,409.4L687.8,415.1L691.3,416.1L693.1,415.8L696.3,413.5L701.5,406.7L705.0,404.0L715.1,399.9L736.7,389.4L748.9,381.2L754.1,379.3L759.3,378.5L766.3,378.6L782.0,381.7L799.5,382.2L815.2,384.8L815.2,553.4L702.0,553.4L702.1,515.4L701.4,505.9L702.2,503.1L707.7,499.1L708.2,497.7L708.0,495.0L705.0,488.2L701.1,484.1L693.1,480.0L689.6,479.1L684.4,478.6L677.4,479.1L670.4,480.7L666.1,482.8L658.2,488.3L654.7,489.5L646.6,490.9L645.6,492.3L644.9,499.1L643.2,501.8L639.5,504.5L631.0,508.6L628.6,510.9L627.2,514.0L626.9,516.7L628.3,529.0L628.0,553.4L520.9,553.4L520.6,529.0L522.4,516.7L522.0,514.0L520.4,511.1L517.5,508.6L507.8,503.1L499.5,496.3L487.3,489.6L479.5,482.8L475.1,481.0L461.1,479.7L455.9,478.5L452.0,476.0L445.4,468.2L443.7,467.2L440.2,466.4L435.0,467.4L431.4,469.2L422.8,477.0L384.4,505.8L379.0,511.3L377.8,514.0L377.4,516.7L379.1,529.0L378.8,553.4L84.4,553.4L84.4,394.2L93.8,390.4L105.4,382.4L108.9,380.5L115.8,378.7L124.6,378.5L140.3,381.7L157.7,382.2L173.4,384.8L190.8,384.3L194.3,385.0L203.0,388.3L206.5,388.8L211.8,388.4L225.7,385.1L232.7,385.2L235.9,386.4L236.9,387.7L236.2,395.9L236.7,398.6L238.0,401.3L241.4,404.0L246.6,405.2L251.9,404.0L254.2,402.7L257.0,399.9L258.2,397.2L258.4,394.5L256.0,386.4L257.1,384.6L260.6,383.0L276.3,381.1L290.2,378.3L297.2,377.8L305.9,378.4L319.9,381.0L333.8,380.5L342.5,381.1L353.8,383.6L359.8,386.4L361.7,388.2L364.8,393.2L367.2,395.9L372.8,399.9L379.1,402.7L387.9,404.9L407.1,408.5L412.3,408.2L419.3,406.3L422.8,406.3L426.1,408.1L431.5,413.4L435.0,415.5L448.9,420.2L461.1,425.6L466.4,426.4L471.6,425.3L475.4,423.0L476.8,421.4L478.6,417.7L479.2,412.2L478.5,409.4L476.8,407.7L465.8,402.7L464.5,401.3L464.1,399.9L464.6,398.2L466.4,396.3L469.2,394.5L480.3,389.7L488.9,380.9L508.6,367.4ZM496.0,391.7L489.0,392.9L486.4,394.5L485.5,395.9L484.9,398.6L485.3,401.3L486.5,402.7L489.0,403.7L492.5,404.0L500.6,402.7L506.7,399.9L509.7,397.2L510.2,395.9L510.0,394.5L508.9,393.2L506.5,392.0L503.0,391.5L496.0,391.7Z"/><rect x="118.3" y="139.8" width="76.6" height="45.8" fill="#000"/><rect x="177.1" y="137.1" width="26.7" height="20.8" fill="#000"/></mask>
<g id="land"><use href="#cm" fill="#b3b3b3" fill-rule="evenodd" stroke="#000" stroke-width="3.4" stroke-linejoin="round"/><use href="#ca" fill="#b3b3b3" stroke="#000" stroke-width="3.4" stroke-linejoin="round"/><g fill="#000"><circle cx="457.1" cy="191.2" r="2.30"/><circle cx="466.6" cy="198.7" r="2.07"/><circle cx="485.3" cy="207.8" r="2.53"/><circle cx="488.8" cy="209.5" r="2.53"/><circle cx="491.7" cy="211.2" r="2.53"/><circle cx="493.6" cy="214.5" r="2.99"/><circle cx="387.1" cy="231.7" r="2.30"/><circle cx="399.5" cy="248.4" r="2.30"/><circle cx="410.9" cy="249.7" r="2.30"/><circle cx="434.1" cy="249.2" r="2.30"/><circle cx="427.9" cy="243.4" r="2.07"/><circle cx="419.3" cy="254.2" r="2.07"/><circle cx="481.7" cy="252.5" r="2.07"/><circle cx="490.1" cy="263.6" r="2.30"/><circle cx="437.1" cy="265.0" r="2.07"/><circle cx="437.3" cy="270.3" r="1.84"/><circle cx="448.4" cy="292.5" r="1.84"/><circle cx="521.1" cy="293.9" r="2.30"/><circle cx="522.9" cy="296.7" r="2.07"/><circle cx="504.3" cy="317.7" r="2.30"/><circle cx="505.9" cy="315.3" r="2.07"/><circle cx="509.9" cy="311.1" r="2.07"/><circle cx="513.1" cy="313.3" r="2.07"/><circle cx="516.3" cy="315.5" r="2.07"/><circle cx="519.5" cy="319.1" r="2.07"/><circle cx="530.0" cy="327.2" r="1.84"/><circle cx="538.9" cy="338.6" r="1.84"/><circle cx="485.8" cy="327.7" r="2.07"/><circle cx="426.3" cy="311.1" r="2.30"/><circle cx="427.3" cy="314.1" r="2.07"/><circle cx="428.9" cy="318.0" r="2.07"/><circle cx="430.7" cy="323.0" r="2.07"/><circle cx="427.5" cy="306.9" r="2.07"/><circle cx="445.3" cy="318.3" r="2.76"/><circle cx="448.0" cy="314.7" r="2.53"/><circle cx="450.3" cy="315.5" r="2.07"/><circle cx="456.6" cy="305.8" r="2.07"/><circle cx="464.2" cy="307.2" r="2.30"/><circle cx="463.0" cy="308.3" r="2.07"/><circle cx="458.4" cy="327.5" r="2.30"/><circle cx="459.8" cy="320.5" r="2.07"/><circle cx="438.2" cy="305.5" r="2.07"/><circle cx="428.2" cy="349.4" r="2.07"/><circle cx="412.6" cy="356.3" r="1.84"/><circle cx="411.1" cy="328.6" r="1.84"/><circle cx="407.9" cy="288.3" r="2.30"/><circle cx="411.5" cy="291.1" r="2.53"/><circle cx="414.5" cy="295.3" r="2.30"/><circle cx="416.5" cy="295.3" r="2.07"/><circle cx="417.7" cy="298.0" r="2.07"/><circle cx="414.0" cy="293.9" r="2.07"/><circle cx="406.1" cy="286.1" r="2.30"/><circle cx="424.7" cy="298.6" r="1.84"/><circle cx="391.0" cy="274.7" r="2.07"/><circle cx="609.0" cy="270.8" r="2.53"/><circle cx="607.9" cy="269.7" r="2.07"/><circle cx="575.6" cy="344.1" r="2.18"/><circle cx="630.2" cy="362.2" r="2.18"/><circle cx="496.1" cy="109.9" r="2.76"/><circle cx="490.8" cy="114.9" r="1.84"/><circle cx="423.2" cy="115.1" r="2.76"/><circle cx="428.1" cy="117.6" r="2.53"/><circle cx="437.9" cy="122.4" r="2.76"/><circle cx="447.5" cy="124.8" r="2.76"/><circle cx="468.2" cy="93.2" r="2.53"/><circle cx="463.2" cy="92.4" r="2.07"/><circle cx="471.5" cy="101.3" r="2.07"/><circle cx="471.0" cy="110.1" r="1.84"/><circle cx="392.8" cy="145.4" r="2.07"/><circle cx="397.2" cy="141.2" r="2.07"/><circle cx="401.7" cy="137.1" r="2.07"/><circle cx="406.1" cy="131.5" r="2.07"/><circle cx="407.6" cy="128.7" r="2.07"/><circle cx="359.4" cy="190.4" r="2.07"/><circle cx="356.8" cy="195.3" r="2.07"/><circle cx="350.4" cy="201.2" r="2.07"/><circle cx="354.5" cy="176.2" r="2.30"/><circle cx="227.9" cy="281.7" r="2.53"/><circle cx="211.5" cy="295.0" r="2.07"/><circle cx="206.5" cy="301.1" r="2.18"/><circle cx="208.1" cy="302.8" r="2.07"/><circle cx="209.6" cy="304.4" r="2.07"/><circle cx="231.7" cy="325.0" r="2.30"/><circle cx="227.9" cy="327.5" r="2.53"/><circle cx="242.0" cy="323.6" r="1.84"/><circle cx="301.5" cy="302.5" r="2.30"/><circle cx="317.4" cy="298.0" r="1.84"/><circle cx="260.0" cy="254.2" r="2.18"/><circle cx="260.0" cy="267.2" r="2.18"/><circle cx="294.2" cy="234.2" r="2.07"/><circle cx="294.4" cy="238.4" r="2.07"/><circle cx="295.6" cy="246.7" r="1.84"/><circle cx="196.2" cy="398.8" r="2.30"/><circle cx="252.5" cy="405.5" r="3.45"/><circle cx="254.3" cy="406.6" r="2.76"/><circle cx="260.0" cy="416.3" r="2.53"/><circle cx="412.4" cy="420.4" r="2.30"/><circle cx="425.0" cy="409.6" r="2.53"/><circle cx="418.3" cy="452.6" r="2.30"/><circle cx="422.4" cy="455.7" r="2.07"/><circle cx="456.0" cy="391.0" r="2.30"/><circle cx="695.7" cy="416.8" r="2.07"/><circle cx="703.8" cy="419.3" r="2.53"/><circle cx="706.1" cy="420.2" r="2.53"/><circle cx="689.5" cy="437.4" r="2.53"/><circle cx="671.7" cy="439.6" r="2.30"/><circle cx="668.1" cy="442.1" r="2.30"/><circle cx="664.6" cy="443.5" r="2.07"/><circle cx="609.0" cy="459.9" r="2.30"/><circle cx="641.9" cy="423.2" r="1.84"/><circle cx="721.6" cy="164.0" r="2.07"/><circle cx="725.2" cy="161.8" r="2.07"/><circle cx="718.9" cy="159.3" r="1.84"/><circle cx="741.2" cy="190.4" r="2.07"/><circle cx="744.8" cy="191.2" r="2.07"/><circle cx="746.9" cy="190.6" r="1.84"/><circle cx="743.0" cy="189.5" r="1.84"/><circle cx="726.6" cy="222.8" r="2.07"/><circle cx="728.5" cy="227.0" r="2.07"/><circle cx="730.1" cy="227.0" r="1.84"/><circle cx="726.0" cy="221.7" r="1.84"/><circle cx="712.9" cy="279.7" r="1.84"/><circle cx="140.8" cy="268.1" r="2.07"/><circle cx="144.5" cy="258.9" r="2.30"/><circle cx="142.2" cy="264.5" r="1.84"/><circle cx="660.8" cy="220.6" r="2.07"/><circle cx="661.5" cy="223.9" r="2.07"/><circle cx="661.9" cy="226.2" r="1.84"/><circle cx="661.9" cy="228.4" r="2.07"/><circle cx="661.9" cy="232.3" r="1.84"/><circle cx="660.5" cy="235.3" r="1.84"/><circle cx="661.2" cy="239.8" r="2.30"/><circle cx="646.0" cy="234.2" r="2.07"/><circle cx="647.6" cy="235.0" r="1.84"/><circle cx="631.9" cy="215.3" r="1.84"/><circle cx="633.4" cy="203.7" r="2.07"/><circle cx="632.5" cy="200.9" r="2.07"/><circle cx="634.3" cy="199.5" r="1.84"/><circle cx="636.9" cy="201.7" r="2.07"/><circle cx="638.7" cy="205.1" r="1.84"/><circle cx="641.4" cy="209.2" r="1.84"/><circle cx="635.9" cy="195.3" r="2.07"/><circle cx="631.6" cy="194.8" r="1.84"/><circle cx="627.7" cy="208.7" r="2.07"/><circle cx="755.5" cy="71.8" r="2.30"/><circle cx="758.1" cy="96.8" r="2.53"/><circle cx="162.9" cy="62.4" r="2.07"/><circle cx="212.8" cy="45.2" r="3.22"/><circle cx="218.1" cy="44.6" r="3.22"/><circle cx="223.5" cy="44.9" r="3.22"/><circle cx="228.8" cy="45.2" r="3.22"/><circle cx="234.2" cy="44.4" r="3.22"/><circle cx="239.5" cy="45.2" r="3.22"/><circle cx="244.0" cy="44.9" r="2.76"/><circle cx="210.1" cy="46.3" r="2.53"/><circle cx="266.2" cy="48.2" r="2.30"/><circle cx="275.1" cy="48.5" r="1.84"/><circle cx="186.9" cy="46.3" r="2.30"/><circle cx="181.6" cy="46.9" r="2.07"/><circle cx="378.5" cy="56.0" r="2.30"/><circle cx="374.1" cy="59.9" r="2.30"/><circle cx="399.9" cy="57.1" r="2.07"/><circle cx="407.0" cy="54.9" r="2.07"/><circle cx="391.0" cy="59.9" r="2.07"/></g><path d="M626.2,62.4L610.2,62.7L595.9,61.8L583.5,61.6L571.0,62.4L556.7,62.7L548.7,63.2M585.2,61.8L587.9,67.7L589.7,71.8M595.9,54.6L585.2,53.5L574.6,54.1L563.9,55.7L555.0,58.0M630.7,57.1L619.1,56.8L606.6,56.8L601.3,55.5M620.9,46.9L615.5,51.0L611.1,53.8M609.3,63.0L611.1,67.7L612.9,71.8M601.3,62.1L600.4,67.7L598.6,71.8M575.4,70.4L565.6,69.1L557.6,69.6M590.6,50.2L587.0,46.9M603.1,45.5L598.6,49.6L595.9,53.8M553.2,66.3L560.3,65.5L567.4,66.3L574.6,65.7M578.1,58.0L585.2,58.5L592.4,58.0M562.1,59.3L569.2,58.5M624.5,42.7L635.2,44.1L644.1,46.9M610.2,46.3L606.6,42.7M592.4,66.8L595.9,65.5L599.5,66.3M579.0,74.6L586.1,73.2L591.5,74.1M620.9,60.2L624.5,60.7M550.5,67.7L554.1,68.5M565.6,53.0L574.6,51.9L583.5,50.7M599.5,46.3L610.2,49.1L617.3,52.4M629.8,48.2L636.9,47.4M557.6,60.2L561.2,64.1L565.6,66.8M570.1,71.3L572.8,74.1M604.0,53.0L611.1,55.2L619.1,54.6L626.2,53.0M588.8,56.6L591.5,53.0L595.9,51.0M452.3,125.4L456.9,124.8L464.1,123.5L471.2,121.2L476.5,118.5L481.0,116.2" fill="none" stroke="#000" stroke-width="3.6" stroke-linecap="round" stroke-linejoin="round"/></g></defs>
<g transform="translate(0,0)"><g clip-path="url(#mc)"><rect x="93.4" y="5.2" width="712.9" height="527.4" fill="#67001f"/><path fill="#9e0328" fill-rule="evenodd" d="M84.4,-15.6L815.2,-15.6L815.2,98.0L813.1,98.5L811.7,99.4L811.2,101.2L812.6,102.5L815.2,103.5L815.2,120.5L811.9,121.6L810.0,122.9L808.9,125.6L810.6,133.8L810.4,141.9L810.8,146.0L812.5,150.1L815.2,152.3L815.2,553.4L84.4,553.4L84.4,-15.6ZM129.8,65.9L124.6,67.0L120.4,68.6L116.5,71.3L115.1,74.0L115.2,76.7L116.3,79.5L121.1,88.2L122.8,90.7L124.6,92.0L126.3,92.1L128.0,90.8L131.1,84.9L136.8,79.8L138.6,76.7L138.7,71.3L136.8,67.7L133.3,66.0L129.8,65.9ZM168.2,97.8L166.6,98.5L165.9,99.8L166.1,101.2L167.5,102.5L171.6,103.6L175.6,102.5L176.3,101.2L175.9,99.8L174.6,98.5L171.6,97.5L168.2,97.8ZM217.0,103.8L189.1,109.8L185.6,112.0L179.3,117.5L169.3,122.9L168.2,124.3L167.7,127.0L169.1,133.8L168.7,143.3L169.5,147.4L171.6,151.0L174.7,152.8L178.6,153.7L194.3,154.4L197.7,156.9L201.6,162.3L204.8,165.0L208.3,166.5L213.5,166.9L215.9,166.4L218.2,165.0L222.5,159.6L225.7,156.7L239.5,151.4L248.4,145.1L258.8,139.9L262.3,136.5L264.3,131.1L264.6,124.3L263.4,120.2L260.6,116.9L257.1,115.0L246.6,111.5L239.7,106.0L236.2,104.4L227.4,103.3L217.0,103.8ZM248.4,63.0L241.4,64.7L225.3,71.3L223.4,72.7L223.6,74.0L228.2,76.7L234.4,78.5L243.1,79.2L253.6,79.0L254.7,78.1L255.1,76.7L255.1,67.2L254.6,64.5L253.0,63.2L248.4,63.0ZM258.8,81.3L257.7,82.2L257.7,83.5L259.4,86.3L262.3,87.5L264.1,87.5L266.6,86.3L267.1,84.9L266.4,83.5L264.4,82.2L258.8,81.3ZM271.0,56.2L269.3,56.4L267.0,57.7L268.3,59.1L272.8,59.9L276.3,59.9L279.7,59.1L279.8,57.7L276.4,56.4L271.0,56.2ZM666.9,129.0L663.7,131.1L661.6,133.8L660.5,136.5L660.6,137.9L661.7,138.8L663.4,139.2L666.9,138.6L668.7,137.7L671.0,135.1L671.6,132.4L670.5,129.7L668.7,128.8L666.9,129.0ZM771.6,65.8L766.3,66.8L761.9,68.6L758.4,71.3L757.0,74.0L757.0,76.7L758.0,79.5L762.8,88.5L764.6,90.8L766.3,91.9L768.1,91.9L769.8,90.3L772.7,84.9L778.5,79.6L780.3,76.4L780.3,71.3L778.5,67.9L775.0,66.0L771.6,65.8ZM234.4,179.9L232.7,180.1L230.9,181.1L229.2,183.5L228.7,185.4L229.0,188.1L230.7,189.5L232.7,188.9L233.6,188.1L236.0,184.0L236.2,181.3L234.4,179.9Z"/><path fill="#ba2832" fill-rule="evenodd" d="M84.4,-15.6L815.2,-15.6L815.2,94.0L801.2,93.3L798.0,94.4L794.2,101.2L792.5,102.7L785.5,107.0L783.8,108.7L782.0,112.2L781.5,116.1L782.0,119.3L783.8,121.8L796.0,127.7L801.2,132.6L805.8,139.2L809.9,150.6L811.9,152.8L815.2,154.5L815.2,553.4L84.4,553.4L84.4,-15.6ZM131.5,64.5L123.1,65.9L115.4,68.6L112.2,71.3L111.3,74.0L112.3,78.7L120.9,94.4L124.6,97.3L128.0,98.1L131.5,97.5L133.3,95.9L136.6,87.6L140.3,83.3L141.3,80.8L141.0,74.0L139.4,68.6L136.8,65.7L131.5,64.5ZM260.6,52.1L256.0,53.7L232.7,64.2L225.7,66.3L210.0,69.1L204.5,71.3L202.9,72.7L202.3,74.0L202.8,75.4L204.8,76.6L217.0,80.7L222.7,84.9L224.4,87.6L224.8,90.3L223.3,93.0L221.5,94.4L202.8,101.2L197.8,102.4L192.6,102.7L187.5,101.2L182.1,97.0L176.9,94.7L166.4,93.2L158.3,93.0L156.3,94.4L154.2,99.3L152.5,101.8L144.5,106.6L142.0,108.9L140.1,113.4L140.2,118.8L141.8,121.6L143.7,123.0L154.2,127.6L161.2,134.4L164.2,139.2L168.0,150.1L170.3,152.8L175.1,155.0L190.8,157.7L194.3,159.8L201.3,166.1L206.5,168.7L211.8,170.2L222.9,171.8L223.9,173.2L224.1,174.5L223.2,185.4L223.6,190.8L225.7,194.8L229.2,196.7L232.7,196.6L236.2,194.8L238.9,192.2L244.9,184.5L248.4,181.3L260.6,172.6L272.6,162.3L283.3,156.9L288.3,152.8L289.5,150.1L289.1,147.4L287.2,144.6L279.0,137.9L278.0,135.1L278.7,131.1L280.2,128.4L283.1,125.6L293.7,120.6L298.9,116.1L302.9,109.3L306.4,98.5L306.2,94.4L304.4,91.7L290.0,79.5L286.2,75.4L284.8,72.7L285.6,70.0L287.2,68.6L296.6,63.2L300.0,60.5L300.5,59.1L299.9,57.7L294.5,55.0L282.2,52.3L269.3,51.2L260.6,52.1ZM312.9,228.4L311.2,229.2L309.2,231.6L309.0,232.9L309.6,235.6L311.3,238.3L314.6,241.5L318.1,242.7L319.9,242.4L321.6,241.1L323.2,238.3L323.5,235.6L322.9,232.9L320.8,230.2L318.1,228.6L316.4,228.1L312.9,228.4ZM361.7,286.8L358.2,288.2L356.3,289.9L355.7,292.7L356.5,295.4L363.5,306.4L367.0,308.5L370.5,308.0L373.5,304.9L375.0,300.8L375.5,295.4L374.5,291.3L372.2,288.3L368.7,286.5L365.2,286.2L361.7,286.8ZM666.9,125.4L663.4,126.8L654.7,133.2L647.7,136.7L646.7,137.9L646.6,140.6L647.7,143.3L649.5,145.3L653.0,147.2L658.2,146.9L666.9,143.7L672.2,140.5L674.1,137.9L674.9,135.1L674.2,129.7L672.5,127.0L670.5,125.6L666.9,125.4ZM771.6,64.5L764.5,65.9L757.5,68.6L754.4,71.3L753.4,74.0L753.5,76.7L754.4,79.5L761.6,93.0L764.6,96.4L766.3,97.3L769.8,98.1L773.3,97.2L774.8,95.8L778.2,87.6L782.3,82.2L782.9,79.5L782.3,72.7L780.1,67.2L776.8,64.9L771.6,64.5ZM229.0,165.0L230.9,164.0L232.7,163.9L234.5,165.0L234.1,166.4L232.7,167.7L229.2,168.7L227.7,167.7L229.0,165.0Z"/><path fill="#d05548" fill-rule="evenodd" d="M84.4,-15.6L815.2,-15.6L815.2,91.7L806.4,90.0L789.0,82.0L785.8,78.1L781.8,67.2L780.3,65.3L776.8,63.6L773.3,63.2L768.1,63.8L755.2,67.2L751.2,70.0L749.9,74.0L751.4,79.5L761.1,96.4L764.6,99.6L773.8,103.9L776.1,106.6L776.8,109.3L777.3,118.8L778.5,123.0L781.4,125.6L790.7,130.0L797.7,135.2L802.9,140.9L808.7,152.8L811.7,155.2L815.2,156.3L815.2,553.4L84.4,553.4L84.4,-15.6ZM258.8,49.2L251.9,51.7L234.4,60.8L225.7,63.8L194.3,69.6L190.8,69.6L182.1,67.7L179.2,68.6L179.3,70.0L180.4,71.0L189.1,75.1L196.1,82.1L199.5,84.1L205.6,86.3L207.1,87.6L207.5,89.0L207.1,90.3L204.9,93.0L200.9,95.8L196.1,97.1L192.6,96.9L182.2,93.0L164.7,89.9L149.0,82.6L146.5,80.8L144.4,78.1L140.2,67.2L138.5,65.2L135.0,63.5L128.0,63.6L112.5,67.2L110.0,68.6L108.8,70.0L107.9,72.7L108.1,75.4L109.8,79.5L119.3,96.1L122.8,99.5L132.1,103.9L134.5,106.6L135.2,109.3L135.9,120.2L136.8,122.6L138.0,124.3L140.3,125.9L150.7,130.9L157.7,136.6L161.2,140.7L166.2,151.4L168.7,154.2L173.4,156.3L183.8,158.3L189.1,159.9L201.3,168.7L213.5,173.6L217.3,175.9L219.4,180.0L220.0,189.5L220.7,193.5L222.2,196.6L225.7,200.0L230.9,201.5L234.4,201.1L237.9,199.6L241.4,196.7L248.4,188.9L260.6,180.4L270.1,171.8L274.5,168.6L278.0,166.7L283.3,164.9L290.2,163.5L295.5,163.2L297.0,163.7L297.2,165.0L294.3,171.8L293.6,177.2L294.2,181.3L296.3,185.4L298.9,188.3L315.8,203.0L323.7,213.9L325.1,214.9L328.6,215.6L333.8,214.4L336.5,212.5L338.7,209.8L339.8,207.1L339.8,203.0L339.1,201.1L337.3,199.0L330.3,194.9L327.8,192.2L325.5,185.4L325.6,181.3L326.9,180.4L330.3,180.8L344.3,187.5L347.8,188.0L349.5,187.6L353.0,185.3L356.5,180.7L359.0,175.9L359.8,171.8L359.3,169.1L357.8,166.4L353.0,161.7L322.6,137.9L316.4,133.9L307.3,129.7L305.3,128.4L303.5,125.6L303.3,122.9L303.9,120.2L308.9,108.0L312.4,102.5L318.5,95.8L319.7,93.0L319.2,90.3L318.1,88.7L309.4,81.5L306.1,78.1L304.0,74.0L304.1,71.3L305.9,68.6L307.7,67.2L317.5,61.8L318.8,60.5L319.2,59.1L318.6,57.7L316.6,56.4L312.7,55.0L290.9,50.9L269.3,48.5L258.8,49.2ZM367.0,281.8L360.0,282.8L349.3,285.9L346.8,287.2L346.1,288.6L346.1,289.9L347.3,292.7L354.8,302.9L357.2,311.7L358.2,313.7L361.1,315.7L365.2,316.5L368.7,316.4L372.2,315.5L376.0,313.0L377.4,311.0L378.6,307.6L379.9,298.1L379.4,291.3L377.4,287.2L374.7,284.5L372.2,283.0L367.0,281.8ZM469.9,103.9L469.7,103.9L470.0,103.9L469.9,103.9ZM632.0,124.2L630.4,127.0L628.7,132.4L628.2,135.1L628.7,137.9L629.8,139.2L637.3,145.0L643.9,151.4L648.8,154.2L653.0,154.6L658.2,152.9L672.5,144.6L675.5,141.9L676.9,139.2L677.3,133.8L675.8,128.4L673.9,125.3L670.4,123.3L665.2,123.5L654.7,128.8L651.2,129.5L646.0,128.4L637.3,123.3L633.8,123.2L632.0,124.2ZM649.5,88.6L646.7,90.3L645.1,93.0L645.9,95.8L647.7,96.6L649.5,96.7L651.9,95.8L653.3,94.4L654.7,91.7L654.7,88.5L653.0,87.7L649.5,88.6ZM679.1,62.3L677.3,64.5L675.6,72.1L673.9,72.9L666.9,74.0L663.1,75.4L660.5,78.1L659.7,80.8L659.9,82.2L661.7,83.1L663.4,83.1L666.9,82.4L670.4,81.0L672.4,79.5L675.7,74.0L677.4,72.8L684.4,71.0L688.1,68.6L688.9,65.9L688.3,64.5L686.8,63.2L682.6,61.9L679.1,62.3ZM164.7,316.9L161.2,318.9L160.1,321.2L161.2,322.0L163.1,321.2L165.1,318.5L165.1,317.1L164.7,316.9ZM312.9,220.5L307.7,221.5L304.2,223.2L302.4,224.9L301.3,227.5L301.0,230.2L302.1,234.3L309.4,245.1L310.9,249.2L310.3,251.9L304.3,258.7L303.5,261.4L305.9,264.1L315.0,269.6L321.6,277.3L325.1,280.1L332.1,282.7L335.6,283.0L337.3,282.5L339.1,280.7L339.3,279.1L339.1,276.1L337.7,272.3L335.6,269.3L328.1,262.8L326.1,258.7L326.4,253.3L329.5,245.1L330.4,241.1L330.5,235.6L329.3,230.2L326.9,225.4L323.4,221.8L319.9,220.5L312.9,220.5Z"/><path fill="#e48066" fill-rule="evenodd" d="M84.4,-15.6L815.2,-15.6L815.2,89.7L808.2,87.8L790.2,79.5L786.7,75.4L782.4,65.9L780.3,63.6L778.5,62.7L775.0,62.1L771.6,62.2L751.6,65.9L748.4,67.2L747.1,68.6L746.4,71.3L746.6,74.0L748.0,78.1L754.2,87.6L759.3,97.1L762.8,101.0L770.6,106.6L772.6,109.3L773.6,113.4L774.5,122.9L776.5,127.0L778.5,128.4L789.0,132.9L796.0,137.9L801.2,143.2L805.9,152.8L808.0,155.5L811.7,157.4L815.2,158.1L815.2,299.6L811.7,301.9L804.2,309.0L794.1,317.1L790.1,322.5L788.8,326.6L789.2,329.3L790.9,332.0L797.7,338.0L801.2,339.6L802.9,339.5L804.7,338.5L815.2,326.5L815.2,553.4L84.4,553.4L84.4,-15.6ZM257.1,46.8L249.4,49.6L232.7,59.1L224.0,62.2L196.1,66.5L190.8,66.3L182.1,65.1L176.9,65.9L175.2,67.2L174.6,68.6L175.4,71.3L176.9,72.8L186.0,78.1L188.3,80.8L189.4,83.5L189.4,86.3L188.9,87.6L187.2,89.0L183.8,89.8L175.1,89.8L168.2,88.6L150.7,80.5L147.3,78.1L145.5,75.9L140.3,65.1L138.5,63.5L135.0,62.3L128.0,62.5L107.6,65.9L105.5,67.2L104.7,68.6L104.5,72.7L106.3,78.1L112.7,87.6L117.8,97.1L121.1,100.9L129.0,106.6L131.0,109.3L132.0,113.4L132.9,122.9L134.9,127.0L136.8,128.4L147.2,132.8L155.9,139.2L159.6,143.3L164.4,152.8L166.8,155.5L171.6,157.6L182.1,159.7L187.3,161.5L199.5,170.1L210.0,174.9L213.8,177.2L216.3,181.3L217.4,192.2L218.7,196.9L221.8,201.7L225.7,204.6L229.2,205.9L232.7,206.2L237.9,205.5L241.4,204.0L244.9,201.4L253.6,192.5L264.5,185.4L274.5,175.4L279.8,173.1L281.9,173.2L284.3,174.5L285.9,177.2L286.7,180.2L288.5,196.2L288.1,197.6L286.7,198.8L281.5,201.5L280.5,203.0L280.3,205.8L281.5,207.7L287.4,211.2L288.6,212.5L289.7,216.6L290.3,227.5L291.2,231.6L292.7,234.3L300.7,241.9L303.2,246.5L303.1,249.2L302.3,250.6L294.1,257.4L293.4,260.1L294.3,262.8L297.2,265.6L309.4,272.9L311.6,275.0L316.4,281.4L319.7,284.5L331.7,291.3L346.0,302.2L347.8,304.8L348.2,306.2L348.5,315.7L349.5,317.8L351.5,319.8L356.5,322.2L365.2,324.0L370.5,323.8L377.4,321.7L382.9,318.5L384.1,317.1L385.1,314.4L384.2,303.5L384.6,292.7L382.9,287.2L380.9,284.3L377.4,280.8L373.9,278.3L370.5,276.9L367.0,276.8L356.8,279.1L353.0,279.5L350.6,279.1L348.0,277.7L345.3,273.7L339.7,258.7L339.8,256.0L341.5,249.2L341.6,246.5L338.5,231.6L338.4,227.5L338.9,224.8L344.9,215.3L349.5,201.6L358.2,190.7L365.6,178.6L367.5,174.5L367.9,170.4L366.6,167.7L363.9,165.0L346.9,151.4L327.6,136.5L313.4,127.0L310.2,122.9L309.7,120.2L310.0,117.5L312.5,110.7L316.4,105.6L321.6,102.1L331.3,97.1L334.7,94.4L340.8,87.2L344.3,86.2L347.8,87.2L349.5,88.4L354.9,94.4L358.2,96.8L361.7,97.8L372.2,99.5L375.7,100.8L377.4,102.4L380.8,108.0L384.4,110.5L387.9,111.3L391.4,111.4L398.4,109.8L402.2,106.6L403.2,103.9L402.9,101.2L401.8,99.7L398.4,97.9L387.9,95.6L386.1,94.4L386.1,91.7L387.9,89.7L391.4,88.0L403.6,86.2L408.8,84.0L414.0,79.9L416.7,76.7L417.5,74.0L417.0,71.3L415.4,68.6L412.8,65.9L409.1,63.2L403.7,60.5L377.4,52.9L372.2,52.0L367.0,52.0L361.7,53.0L356.6,55.0L352.4,57.7L350.5,60.5L351.1,61.8L352.8,63.2L355.8,64.5L371.9,68.6L373.2,70.0L373.3,71.3L372.5,72.7L370.5,74.1L367.0,75.2L353.0,76.4L340.8,80.3L335.6,80.2L330.3,78.9L325.7,76.7L323.4,74.4L322.9,72.7L323.4,71.3L326.0,68.6L338.2,61.8L338.8,60.5L338.0,59.1L333.1,56.4L319.9,53.0L287.3,48.2L267.6,46.1L257.1,46.8ZM454.2,64.3L449.6,65.9L446.1,68.6L433.5,87.6L430.5,94.4L429.2,99.8L429.6,105.3L431.2,109.3L435.0,113.2L440.2,114.5L457.6,112.1L473.3,112.5L476.8,112.1L480.6,110.7L484.2,108.0L486.2,103.9L486.1,99.8L483.8,94.1L480.3,88.8L472.7,80.8L467.4,71.3L464.6,67.8L459.4,64.6L454.2,64.3ZM663.4,49.6L654.7,50.6L640.8,50.2L635.5,51.0L632.0,52.6L629.4,55.0L627.5,59.1L626.5,64.5L625.1,66.5L621.6,67.5L611.1,68.3L610.4,68.6L609.9,70.0L613.6,75.4L616.1,78.1L618.5,79.5L621.6,80.1L625.1,79.7L628.1,78.1L632.0,72.2L633.8,71.1L637.3,70.6L642.5,71.1L649.5,73.4L651.3,75.4L651.7,76.7L651.5,79.5L649.7,82.2L642.5,87.7L640.8,90.8L640.4,94.4L641.5,97.1L644.2,99.5L647.7,100.3L651.2,99.6L654.9,97.1L659.6,90.3L661.7,88.2L673.7,82.2L680.9,76.0L688.9,71.3L691.3,68.6L691.7,67.2L691.1,63.2L688.3,60.5L679.5,56.4L672.2,50.9L668.7,49.8L663.4,49.6ZM171.6,300.2L166.4,303.7L152.7,317.1L149.6,321.2L147.6,325.3L147.8,329.3L149.5,332.0L157.7,339.2L161.2,340.9L162.9,340.5L164.7,339.0L174.3,325.3L176.9,319.9L180.1,310.3L180.6,304.9L178.6,300.9L175.1,299.5L171.6,300.2ZM619.8,111.8L618.2,113.4L618.1,114.8L618.8,116.1L623.0,120.2L624.0,122.9L623.3,126.5L621.6,129.4L618.1,131.8L614.6,132.6L609.4,132.3L604.1,130.3L602.4,130.4L602.1,131.1L605.9,144.6L607.6,147.3L609.4,148.6L612.9,150.0L626.8,152.5L643.5,160.9L647.7,162.0L651.2,162.1L654.7,161.2L658.2,159.3L666.5,152.8L675.6,146.6L678.7,143.3L679.7,140.6L679.9,137.9L678.6,131.1L675.6,124.8L672.2,122.1L668.7,121.3L665.2,121.5L654.7,125.4L651.2,125.7L647.7,124.6L639.0,119.5L630.3,115.7L624.6,112.1L621.6,111.5L619.8,111.8ZM653.0,281.8L647.7,284.3L639.0,291.9L630.3,296.5L628.8,298.1L627.6,300.8L628.6,304.9L632.3,309.0L635.5,311.3L651.2,320.0L653.0,319.8L654.8,317.1L653.8,307.6L654.8,303.5L661.6,295.4L663.1,291.3L662.5,287.2L659.9,283.8L656.5,281.9L653.0,281.8ZM644.2,391.5L640.7,393.2L639.7,394.5L639.4,395.9L640.8,397.8L644.2,399.1L651.2,399.5L657.8,398.6L661.2,397.2L662.7,395.9L663.0,394.5L661.7,393.0L656.5,391.4L649.5,391.0L644.2,391.5ZM292.7,203.0L293.7,202.4L295.5,202.7L297.2,203.9L298.3,205.8L297.6,207.1L295.5,207.6L293.7,207.1L292.8,205.8L292.7,203.0Z"/><path fill="#f5aa89" fill-rule="evenodd" d="M84.4,-15.6L815.2,-15.6L815.2,65.9L814.2,67.2L813.7,70.0L815.2,73.1L815.2,87.6L810.6,86.3L802.0,82.2L794.2,79.5L790.7,77.6L787.7,74.0L783.0,64.5L780.3,62.1L778.5,61.4L773.3,61.0L755.9,63.2L748.9,62.8L746.2,61.8L744.7,60.5L740.2,51.9L738.4,50.4L736.7,50.0L733.2,50.9L731.4,52.2L729.7,54.5L729.2,56.4L729.5,59.1L730.9,61.8L733.2,64.1L738.4,67.3L741.1,70.0L745.4,78.1L753.2,89.0L759.2,99.8L767.9,108.0L770.3,112.1L771.2,118.8L770.3,128.4L769.6,129.7L768.1,131.0L762.8,133.0L759.3,135.2L757.5,137.9L757.7,140.6L759.3,142.2L761.1,142.8L764.6,142.7L768.5,140.6L773.3,133.6L775.0,133.0L778.5,132.9L783.8,134.1L790.7,137.8L797.7,143.1L800.8,147.4L804.1,155.5L806.4,158.1L809.9,159.3L815.2,159.8L815.2,293.1L808.2,298.2L787.4,318.5L783.1,323.9L781.9,328.0L783.3,332.0L792.0,341.6L793.9,345.6L794.5,349.7L794.0,353.8L792.3,357.8L783.5,367.4L782.9,368.7L783.0,370.1L784.1,371.4L790.0,374.1L815.2,382.7L815.2,553.4L84.4,553.4L84.4,-15.6ZM258.8,43.9L253.6,44.9L248.5,46.9L233.3,56.4L227.5,59.1L222.2,60.8L213.5,62.5L199.5,64.2L192.6,64.4L182.1,63.3L178.6,63.6L175.1,64.7L173.4,66.1L172.3,68.6L173.3,72.7L175.1,74.5L182.1,78.9L184.4,82.2L184.0,84.9L182.6,86.3L180.4,87.2L176.9,87.7L173.4,87.6L168.2,86.4L150.2,78.1L146.2,74.0L141.4,64.5L138.0,61.8L133.3,61.0L119.3,62.8L110.6,62.8L106.0,61.8L103.5,60.5L101.1,57.7L98.4,52.6L96.7,51.3L94.9,51.1L93.2,51.7L91.4,53.2L90.6,55.0L91.4,57.7L98.4,65.0L103.7,78.1L111.7,89.0L117.6,99.7L126.3,108.0L128.7,112.1L129.6,118.8L128.7,128.4L128.0,129.8L126.6,131.1L119.7,133.8L116.5,136.5L115.6,139.2L116.0,140.6L117.3,141.9L121.1,142.9L125.0,141.9L128.0,139.2L131.3,133.8L133.3,133.0L136.8,132.8L142.0,134.0L149.0,137.7L155.9,143.0L159.2,147.4L162.8,155.5L164.7,157.4L168.2,158.8L178.6,160.6L184.3,162.3L187.3,163.9L197.8,171.5L209.4,177.2L211.8,179.3L213.0,181.3L213.9,184.0L214.7,193.5L215.7,197.6L217.3,201.7L220.5,206.2L225.7,210.4L230.9,212.1L237.9,212.4L251.9,211.1L255.4,211.7L256.6,212.5L258.2,215.3L261.6,224.8L269.8,234.3L274.1,246.5L276.3,250.6L282.4,257.4L288.5,266.1L292.0,268.8L301.6,273.7L304.2,275.9L305.4,277.7L305.9,280.4L304.6,283.2L302.4,284.4L298.9,285.1L288.6,284.5L274.5,280.8L269.3,280.3L264.1,281.1L250.1,285.2L243.1,285.9L227.4,286.1L220.5,287.7L218.7,288.8L217.2,291.3L216.8,294.0L217.3,302.2L216.6,304.9L209.6,315.7L209.2,318.5L210.2,321.2L211.9,322.5L215.2,323.5L243.1,325.6L278.0,325.8L281.6,325.3L285.0,323.7L287.4,321.2L291.8,313.0L296.1,310.3L302.4,309.5L316.4,310.8L330.3,309.5L333.8,310.1L337.3,312.3L342.2,321.2L346.0,324.6L365.2,332.7L370.5,333.8L375.7,332.1L392.1,322.5L394.8,319.8L398.4,312.4L400.1,311.0L403.6,310.2L415.8,309.9L436.7,310.7L442.0,309.9L446.8,307.6L449.2,304.9L450.4,302.2L451.1,295.4L450.5,291.3L449.3,288.6L445.4,284.8L442.0,283.4L438.5,282.7L422.8,282.8L410.6,282.1L405.3,282.8L394.9,286.4L391.4,285.7L386.1,281.4L380.9,275.0L379.8,272.3L379.5,264.1L378.5,261.4L373.9,257.8L363.5,252.5L361.4,250.6L360.1,247.9L360.3,245.1L360.9,243.8L364.1,241.1L370.1,239.7L377.4,239.9L384.4,241.2L391.1,243.8L394.8,246.5L400.1,251.9L405.3,255.0L412.3,256.2L421.0,255.5L424.5,254.5L428.0,252.7L430.1,250.6L431.7,247.9L432.8,243.8L433.0,238.3L432.0,234.3L430.2,231.6L426.3,228.9L421.0,227.4L414.0,227.1L396.6,227.7L387.9,226.3L382.2,223.4L375.7,216.9L372.2,214.5L368.7,213.3L361.7,212.2L359.2,211.2L357.9,209.8L357.2,207.1L359.2,201.7L368.7,186.3L373.9,179.7L379.2,175.3L382.7,173.9L386.1,173.4L403.6,173.3L419.3,169.6L435.0,169.6L440.8,169.1L445.7,167.7L450.8,165.0L451.6,163.7L450.7,160.9L446.1,156.9L442.0,154.5L438.5,153.4L433.2,153.1L410.6,157.2L405.3,157.3L396.6,156.3L393.1,156.6L389.6,157.8L380.9,162.2L377.4,163.4L372.2,163.5L368.7,162.6L360.0,157.7L333.8,137.0L319.7,127.0L316.9,124.3L315.3,121.6L314.9,118.8L315.2,116.1L317.1,112.1L319.6,109.3L323.4,107.1L326.9,106.0L332.1,105.3L337.3,106.1L349.5,112.4L353.0,113.5L354.8,113.3L356.1,112.1L358.3,108.0L360.0,106.3L363.5,104.8L367.0,104.5L370.5,105.3L372.5,106.6L377.4,111.6L381.4,113.4L386.1,114.1L393.1,114.2L408.8,112.1L414.0,112.2L417.5,113.5L426.3,119.3L433.2,121.1L440.2,120.8L457.6,116.3L473.3,116.6L478.6,116.0L483.8,114.2L487.7,112.1L490.8,109.3L493.2,105.3L494.3,98.5L494.6,78.1L493.9,76.7L490.8,75.6L482.1,73.9L478.6,72.6L475.1,70.4L466.2,63.2L461.1,60.6L457.6,59.7L454.2,59.6L448.9,60.3L436.7,64.7L431.5,65.2L424.5,63.6L411.4,57.7L405.3,55.7L373.9,49.5L365.2,49.2L349.5,52.1L339.1,52.5L314.6,49.8L271.0,44.2L264.1,43.7L258.8,43.9ZM633.8,46.8L629.8,48.2L625.4,50.9L619.5,57.7L616.3,60.1L600.7,63.9L597.7,65.9L597.0,67.2L597.0,68.6L599.7,71.3L605.9,74.7L612.9,80.4L616.3,82.2L621.6,83.2L635.5,83.6L636.4,84.9L637.7,97.1L639.1,99.8L642.5,102.4L647.7,103.1L653.0,101.5L656.5,98.5L663.4,89.8L675.6,83.2L682.6,77.5L690.2,72.7L693.3,68.6L693.9,65.9L693.6,63.2L691.3,59.7L683.3,55.0L675.6,49.1L672.2,47.3L665.2,46.0L644.2,45.7L639.0,45.8L633.8,46.8ZM752.4,209.7L748.9,210.3L745.4,211.7L741.9,214.1L739.4,216.6L737.6,219.3L736.7,222.1L736.9,224.8L738.4,227.0L741.9,228.2L747.1,228.2L750.6,227.3L754.4,224.8L756.3,220.7L756.7,213.9L755.6,211.2L754.1,210.0L752.4,209.7ZM757.6,266.8L754.1,268.2L751.6,270.9L751.1,275.0L752.4,276.9L755.9,278.4L761.1,279.1L768.1,278.8L770.9,277.7L772.0,275.0L771.5,272.3L770.0,269.6L768.5,268.2L766.3,267.2L762.8,266.4L757.6,266.8ZM769.8,214.7L768.1,216.4L767.5,218.0L766.8,227.5L768.1,231.1L769.8,232.1L771.6,232.2L775.0,230.7L776.8,228.8L778.2,224.8L778.4,222.1L777.2,218.0L775.0,215.5L771.6,214.4L769.8,214.7ZM108.9,209.7L105.4,210.9L101.9,212.9L97.4,218.0L96.3,220.7L96.3,223.4L97.6,226.1L99.5,227.5L103.6,228.5L107.1,228.4L110.6,227.3L113.5,224.8L115.3,219.3L115.0,212.5L114.1,210.9L112.5,209.8L108.9,209.7ZM115.8,266.8L112.3,268.3L110.0,270.9L109.3,273.7L109.5,275.0L110.6,276.8L114.1,278.4L119.3,279.1L126.3,278.9L129.3,277.7L130.3,275.0L129.9,272.3L128.4,269.6L126.9,268.2L124.6,267.1L121.1,266.4L115.8,266.8ZM128.0,214.8L126.0,218.0L125.4,226.1L126.6,230.2L128.0,231.4L129.8,231.7L133.3,230.5L135.0,228.9L136.6,224.8L136.8,221.8L135.6,218.0L133.3,215.4L129.8,214.4L128.0,214.8ZM176.9,292.4L171.6,294.0L165.9,298.1L144.8,319.8L140.9,325.3L140.3,328.0L140.9,330.7L150.5,341.6L152.4,345.6L153.0,349.7L152.6,353.8L150.9,357.8L148.9,360.6L142.0,367.4L141.3,368.7L141.4,370.1L142.5,371.4L144.9,372.8L168.2,381.5L173.4,382.7L178.6,382.0L187.9,378.2L194.3,376.6L216.1,374.1L218.2,372.8L218.5,371.4L218.0,370.1L215.2,366.9L210.0,363.8L203.0,362.7L190.8,363.9L185.6,363.7L180.3,361.9L178.6,360.5L176.9,357.8L176.2,355.1L176.2,351.1L177.0,347.0L178.6,342.7L182.1,338.3L190.5,333.4L191.6,332.0L187.3,325.2L185.7,319.8L185.7,315.7L187.3,304.9L186.4,298.1L184.9,295.4L182.1,293.2L176.9,292.4ZM199.5,333.3L196.8,334.8L197.8,340.2L200.3,345.6L204.8,349.5L208.3,350.6L213.5,350.2L217.7,348.3L220.8,345.6L221.5,342.9L220.6,340.2L218.7,338.0L215.2,335.7L208.3,333.2L204.8,332.8L199.5,333.3ZM225.7,227.2L222.2,230.3L220.9,232.9L220.3,235.6L221.2,239.7L222.4,241.1L225.7,242.0L230.2,241.1L234.4,238.9L237.5,235.6L238.3,232.9L237.4,230.2L234.2,227.5L229.2,226.3L225.7,227.2ZM248.4,396.6L247.0,398.6L247.4,399.9L248.4,400.7L251.9,401.4L255.4,399.9L255.7,398.6L253.6,396.8L250.1,396.2L248.4,396.6ZM318.1,364.2L312.9,366.0L310.4,367.4L309.5,368.7L316.4,370.2L333.8,370.3L342.5,369.2L344.2,368.7L344.5,367.4L341.3,366.0L330.3,364.1L323.4,363.6L318.1,364.2ZM412.3,351.0L401.8,353.2L391.4,353.3L389.3,353.8L377.0,363.3L375.3,366.0L376.0,368.7L379.2,372.8L383.3,376.9L386.1,379.2L389.6,381.0L394.9,381.1L405.7,378.2L408.8,375.6L411.4,370.1L415.0,366.0L419.3,363.8L429.0,360.6L431.3,359.2L433.0,356.5L432.5,353.8L431.5,352.6L428.0,350.7L421.0,349.8L412.3,351.0ZM382.7,134.8L380.9,135.3L379.7,136.5L380.3,139.2L383.7,143.3L387.9,146.3L391.4,147.5L394.9,147.3L397.4,146.0L399.8,143.3L400.7,140.6L400.5,139.2L399.8,137.9L398.0,136.5L391.4,134.8L382.7,134.8ZM454.2,364.4L451.8,366.0L451.4,367.4L451.8,368.7L453.7,370.1L455.9,370.5L459.4,370.2L461.5,368.7L461.7,367.4L461.1,366.1L459.4,364.7L457.6,364.1L454.2,364.4ZM618.1,107.9L614.6,109.3L613.0,110.7L609.4,117.3L607.6,118.8L595.7,121.6L592.6,122.9L590.0,125.6L588.4,129.7L587.7,135.1L588.9,140.6L594.1,155.5L600.4,165.0L601.4,167.7L601.4,170.4L599.7,175.9L600.1,177.2L601.4,178.6L604.1,179.2L607.3,174.5L609.4,173.2L612.9,172.2L621.6,171.6L639.0,172.3L646.0,171.5L653.0,169.5L659.9,165.2L669.9,155.5L679.1,148.9L681.6,146.0L682.6,143.3L682.7,140.6L681.2,133.8L677.9,125.6L675.9,122.9L673.9,121.3L670.4,120.0L666.9,119.8L663.0,120.2L654.7,122.5L651.2,122.3L646.0,120.0L628.6,108.8L623.3,107.7L618.1,107.9ZM393.1,391.1L391.4,392.5L389.8,395.9L389.5,399.9L390.4,402.7L391.5,404.0L394.9,404.9L398.4,404.2L401.3,402.7L403.6,400.3L404.4,398.6L404.7,395.9L403.7,393.2L401.8,391.7L398.4,390.7L394.9,390.6L393.1,391.1ZM609.4,184.6L608.1,186.7L607.8,189.5L609.3,203.0L609.0,207.1L606.8,211.2L601.9,216.6L601.0,219.3L602.8,222.1L609.4,226.1L612.9,230.2L613.2,234.3L611.5,237.0L609.4,238.7L604.1,240.7L598.9,240.2L593.7,237.0L588.4,230.7L585.0,228.1L578.0,225.5L571.0,224.2L565.8,224.8L557.1,228.4L550.1,229.6L543.1,229.0L530.9,225.3L525.7,224.9L522.7,226.1L520.9,228.8L520.7,231.6L521.7,235.6L523.5,238.3L525.7,240.1L529.1,241.7L534.4,242.8L544.8,243.3L560.5,241.3L565.8,241.9L571.0,244.8L579.7,252.9L583.2,254.6L586.7,255.6L597.2,256.4L612.9,254.5L619.8,254.2L625.1,255.1L628.9,257.4L630.9,261.4L630.7,264.1L630.0,265.5L626.8,267.8L616.3,270.8L611.1,273.7L610.0,275.0L609.1,277.7L610.5,287.2L609.4,291.1L605.9,293.8L595.4,298.4L593.1,300.8L591.8,304.9L592.3,307.6L593.2,309.0L595.1,310.3L597.2,310.9L602.4,311.2L614.6,309.8L619.8,311.0L625.1,314.3L633.7,321.2L637.1,325.3L638.4,328.0L638.7,330.7L637.9,333.4L635.5,336.0L628.6,341.2L627.2,342.9L626.2,345.6L626.1,349.7L628.0,360.6L627.6,371.4L628.2,382.3L627.1,386.4L621.6,393.2L620.7,394.5L620.5,395.9L623.3,398.6L628.8,401.3L632.7,402.7L637.3,403.3L659.5,401.3L675.6,398.1L694.8,398.6L701.0,397.2L702.7,395.9L703.4,393.2L699.1,386.4L698.8,383.6L700.1,376.9L699.6,374.1L698.7,372.8L696.6,371.1L693.1,369.6L674.8,366.0L667.8,363.3L664.2,360.6L660.8,356.5L658.8,352.4L657.7,348.3L657.7,342.9L659.2,336.1L661.1,330.7L667.7,317.1L672.5,296.7L673.2,289.9L671.6,277.7L672.1,276.4L673.7,275.0L679.2,272.3L682.0,269.6L682.9,265.5L682.1,261.4L679.1,257.4L675.6,255.5L670.4,254.4L665.2,254.3L659.9,255.4L657.7,257.4L654.7,262.0L653.0,263.3L650.8,262.8L649.6,260.1L650.4,256.0L656.5,250.3L661.0,243.8L663.5,238.3L663.2,234.3L659.9,230.2L650.6,223.4L644.1,216.6L633.8,209.9L630.9,207.1L628.8,203.0L626.1,192.2L625.1,189.7L623.3,187.5L619.8,185.5L616.3,184.6L611.1,184.1L609.4,184.6ZM588.4,365.3L587.0,366.0L586.7,367.5L588.4,368.1L592.2,367.4L591.9,365.7L590.2,365.2L588.4,365.3Z"/><path fill="#fbccb4" fill-rule="evenodd" d="M84.4,-15.6L815.2,-15.6L815.2,63.8L813.0,65.9L811.7,70.0L812.5,74.0L815.2,76.4L815.2,85.3L806.4,81.3L796.0,78.5L792.3,76.7L788.4,72.7L783.8,63.4L780.3,60.7L775.0,59.9L757.6,61.7L754.1,61.4L750.6,60.3L748.8,59.1L746.7,56.4L743.2,45.5L741.9,43.4L740.2,42.4L738.4,42.1L734.9,43.0L729.7,45.8L723.2,50.9L722.4,53.7L724.6,59.1L728.0,64.4L731.1,67.2L737.2,71.3L740.2,74.4L751.4,89.0L758.2,101.2L765.8,109.3L767.9,113.4L768.5,118.8L767.5,124.3L764.6,128.0L757.6,132.5L753.7,136.5L752.2,140.6L752.8,144.6L754.1,146.2L757.6,147.6L764.6,148.3L769.8,147.7L773.3,145.7L777.8,139.2L780.3,138.1L782.0,138.1L787.3,140.0L794.2,144.1L797.5,147.4L799.0,150.1L799.8,154.2L799.5,156.7L798.7,158.2L796.9,159.6L790.7,162.2L788.6,163.7L786.5,166.4L782.7,174.5L779.5,178.6L782.0,179.0L785.5,178.6L794.2,176.1L797.7,173.9L799.5,172.0L803.3,165.0L804.7,163.6L808.2,162.2L815.2,161.6L815.2,254.2L809.9,251.8L788.2,237.0L786.3,234.3L785.2,231.6L782.9,215.3L782.0,211.8L780.3,208.1L776.8,203.6L766.3,193.3L759.3,187.5L754.1,184.5L748.9,183.8L745.4,184.5L741.9,186.5L740.5,188.1L739.2,190.8L738.8,193.5L739.8,204.4L738.1,208.5L732.0,216.6L727.0,224.8L723.6,228.8L715.5,237.0L712.3,239.1L708.8,239.9L705.3,239.4L701.8,237.6L693.1,228.4L689.6,226.1L684.4,225.3L673.9,226.3L670.4,225.5L666.9,223.9L660.7,219.3L655.9,212.5L653.0,209.9L640.8,204.5L638.6,203.0L636.1,200.3L634.2,196.2L633.7,190.8L634.7,186.7L636.8,184.0L642.5,180.6L656.5,175.0L661.5,171.8L665.2,168.5L673.9,158.8L684.4,151.4L686.1,149.4L686.8,147.4L686.7,144.6L685.7,140.6L681.3,129.7L678.7,124.3L675.6,120.9L672.2,119.1L668.7,118.4L663.4,118.4L654.7,119.6L651.2,119.0L647.7,117.2L642.6,113.4L639.8,110.7L638.5,108.0L640.8,106.9L649.5,105.6L653.0,104.1L656.5,101.2L662.7,93.0L665.2,90.7L678.1,83.5L691.3,73.8L694.5,70.0L695.8,64.5L695.4,61.8L694.2,59.1L691.3,56.6L684.4,52.4L677.8,46.9L673.9,44.8L665.2,42.9L647.7,41.6L639.0,41.8L632.0,43.0L626.8,44.7L622.7,46.9L612.3,56.4L609.3,57.7L595.5,61.8L593.2,63.2L590.7,65.9L589.9,70.0L590.4,71.3L591.9,72.9L602.4,76.9L612.2,83.5L616.3,84.7L628.6,86.7L632.0,89.0L633.8,93.0L634.6,98.5L634.9,103.9L633.8,104.9L619.8,105.4L612.9,106.5L610.1,108.0L605.9,113.1L603.8,114.8L600.7,116.0L595.4,116.5L591.8,116.1L588.4,114.4L587.0,112.1L585.0,106.0L583.2,103.9L576.2,101.6L569.3,101.2L565.8,102.4L564.0,103.6L557.0,110.7L548.3,116.5L544.5,120.2L542.1,125.6L538.0,143.3L536.3,158.2L537.1,165.0L538.8,167.7L541.4,169.6L551.8,173.0L555.3,175.3L556.7,178.6L556.4,189.5L557.3,193.5L560.5,196.7L572.6,201.7L575.0,204.4L575.8,207.1L575.5,209.8L572.7,212.9L564.0,216.6L553.6,222.7L550.1,223.7L546.6,223.8L540.5,222.1L532.6,216.5L529.1,214.7L511.7,212.0L508.2,210.2L500.3,204.4L494.3,202.0L489.0,201.7L478.6,202.4L473.3,202.3L468.1,201.3L459.1,197.6L454.2,196.6L448.9,197.0L438.5,199.2L431.5,199.5L422.8,198.4L417.8,196.2L413.8,192.2L411.3,186.7L411.2,182.7L412.6,180.0L414.0,178.6L417.5,176.6L422.8,175.2L436.7,175.5L442.0,174.9L462.5,167.7L467.3,165.0L471.6,161.5L482.1,157.8L485.6,156.0L488.5,152.8L488.5,150.1L486.4,147.4L482.1,144.5L476.8,142.3L471.6,141.8L469.9,142.8L468.9,144.6L467.9,151.4L466.4,154.8L464.6,156.0L462.9,156.4L459.4,156.2L455.9,155.1L447.2,150.4L442.0,148.5L422.8,146.5L417.5,145.2L415.8,143.9L414.7,141.9L413.6,135.1L412.1,132.4L408.8,131.6L389.6,131.3L382.7,130.1L379.2,128.4L377.7,127.0L376.2,122.9L376.6,120.2L377.4,119.1L380.7,117.5L391.4,116.8L401.6,117.5L405.3,118.4L408.8,120.2L411.6,122.9L415.3,128.4L417.5,129.0L442.0,125.4L457.6,120.5L462.9,120.1L475.1,120.6L482.1,119.2L490.8,115.4L496.8,110.7L499.4,106.6L502.5,97.1L504.5,93.0L506.7,90.3L510.0,88.0L515.2,85.8L522.2,84.0L529.1,83.0L544.8,82.2L549.3,80.8L550.7,79.5L551.0,78.1L550.4,75.4L546.9,71.3L542.5,68.6L532.6,64.6L525.7,63.4L511.7,64.1L497.8,63.9L485.6,65.8L480.3,65.7L475.1,63.8L464.6,57.7L457.6,55.7L448.9,55.5L435.0,57.6L428.0,57.5L408.8,52.8L372.2,46.9L363.5,46.8L344.3,49.3L330.3,49.2L311.2,47.5L269.3,41.7L260.6,41.2L253.6,42.1L248.4,43.7L243.1,46.6L231.4,55.0L225.9,57.7L220.5,59.5L213.5,61.0L201.3,62.4L194.3,62.7L182.1,61.8L178.6,62.1L174.6,63.2L172.6,64.5L170.7,67.2L170.3,70.0L170.7,72.7L172.4,75.4L178.1,79.5L179.8,82.2L179.3,83.5L177.1,84.9L171.6,85.0L150.7,76.6L146.9,72.7L142.0,63.2L138.5,60.6L133.3,59.9L117.6,61.6L112.3,61.1L108.9,59.7L105.4,56.4L104.1,53.7L101.9,46.1L100.1,43.5L98.5,42.8L96.7,42.7L93.2,43.7L84.4,48.4L84.4,-15.6ZM754.1,159.2L750.8,160.9L749.7,163.7L750.6,168.9L753.5,173.2L755.9,175.0L761.1,176.8L768.1,176.9L770.9,175.9L771.3,173.2L770.5,167.7L769.7,165.0L768.1,162.3L766.3,160.8L762.8,159.4L757.6,158.9L754.1,159.2ZM593.7,92.7L591.9,93.4L590.5,95.8L590.7,97.1L591.9,98.5L595.4,99.0L598.9,97.7L599.8,95.8L598.9,93.7L597.2,92.8L593.7,92.7ZM84.4,61.8L91.4,65.3L95.3,68.6L102.1,79.5L109.9,89.0L116.6,101.2L124.2,109.3L126.3,113.4L126.9,120.2L125.2,125.6L122.5,128.4L114.4,133.8L111.3,137.9L110.4,141.9L111.0,144.6L112.1,146.0L114.1,147.1L117.6,147.9L122.8,148.2L128.0,147.7L131.5,145.8L136.2,139.2L138.5,138.1L140.3,138.1L145.5,139.9L152.5,144.0L155.9,147.3L157.4,150.1L158.2,154.2L158.0,156.9L157.3,158.2L155.2,159.6L149.0,161.8L146.3,163.7L144.4,166.4L141.0,174.5L137.9,178.6L142.0,178.7L147.2,177.8L154.2,175.3L157.7,172.0L161.2,164.0L162.9,162.3L166.4,161.5L171.6,161.4L178.6,162.4L183.8,164.3L194.3,171.9L206.5,178.3L209.6,181.3L211.2,185.4L213.0,200.3L218.5,215.3L218.8,219.3L213.0,234.3L210.7,238.3L195.4,251.9L190.8,253.8L183.8,254.9L178.6,255.0L173.4,254.2L168.2,251.6L148.5,238.3L145.8,235.6L143.8,231.6L141.0,213.9L138.5,207.8L131.5,199.7L123.6,192.2L115.8,186.3L110.6,184.1L107.1,183.9L103.6,184.6L100.1,186.6L98.4,188.8L97.0,193.5L98.1,201.7L97.8,205.8L87.9,222.2L84.4,226.0L84.4,61.8ZM112.3,159.2L109.2,160.9L108.4,162.3L108.0,165.0L109.1,169.1L112.3,173.7L115.8,175.8L119.3,176.7L126.3,177.0L129.2,175.9L129.5,173.2L128.7,167.7L127.9,165.0L126.3,162.3L124.6,160.8L121.1,159.4L115.8,158.9L112.3,159.2ZM325.5,112.1L330.3,111.0L335.6,111.7L340.8,114.1L345.9,117.5L355.6,125.6L367.7,133.8L372.2,137.8L382.2,148.7L383.3,151.4L382.4,154.2L380.9,155.8L377.4,157.9L372.2,158.9L367.0,157.9L361.7,154.9L337.3,135.4L327.1,128.4L322.4,124.3L320.8,121.6L320.5,117.5L321.8,114.8L325.5,112.1ZM252.8,238.3L255.4,238.5L259.4,239.7L262.3,241.4L264.7,243.8L273.8,261.4L274.2,264.1L273.8,265.5L271.0,267.4L262.3,270.0L250.4,277.7L244.9,279.8L237.9,280.8L229.2,280.7L224.0,279.8L219.9,277.7L218.1,275.0L218.2,272.3L218.9,270.9L222.2,268.9L232.7,265.2L236.0,262.8L236.9,261.4L237.4,258.7L235.6,250.6L236.7,247.9L246.6,240.1L250.1,238.7L252.8,238.3ZM155.6,283.2L159.4,282.4L164.7,283.0L166.8,284.5L167.3,287.2L166.1,289.9L152.5,307.6L147.2,312.9L136.8,321.2L134.3,323.9L133.4,326.6L134.1,330.7L135.9,333.4L142.3,338.8L145.5,342.3L147.2,345.6L147.5,349.7L146.4,353.8L143.5,357.8L128.2,368.7L127.5,370.1L127.9,371.4L129.8,372.8L150.4,379.6L164.7,388.4L169.9,389.6L176.9,390.1L180.4,390.0L183.8,389.1L192.1,382.3L196.1,380.3L201.3,378.9L206.5,378.3L211.8,378.3L217.0,379.0L220.5,380.2L228.8,385.0L234.4,385.9L237.9,384.7L243.1,379.8L246.6,378.1L253.6,376.5L264.1,375.3L279.8,374.7L328.6,374.5L367.0,375.7L372.2,377.2L375.7,379.2L382.1,385.0L383.8,387.7L384.7,390.4L385.7,401.3L386.7,405.4L388.8,408.1L391.4,408.9L396.6,408.0L403.6,404.3L406.4,401.3L409.6,394.5L412.3,391.3L415.8,389.8L428.0,386.6L432.1,383.6L432.7,380.9L431.5,379.4L421.0,376.2L418.2,374.1L417.8,372.8L418.2,371.4L421.0,368.5L426.3,366.7L433.2,366.0L437.9,367.4L443.2,372.8L447.2,374.1L457.6,374.5L466.4,373.5L468.7,372.8L470.6,371.4L471.6,368.7L470.7,364.6L467.7,357.8L468.3,355.1L469.8,353.8L472.9,352.4L476.8,351.7L489.0,351.9L494.3,351.5L497.8,350.3L500.7,348.3L503.7,344.3L504.6,340.2L504.4,336.1L502.4,325.3L502.5,321.2L503.4,317.1L505.1,314.4L508.2,311.9L511.7,310.7L516.9,310.0L555.3,310.8L562.3,311.5L567.5,312.8L571.0,314.6L582.6,323.9L593.7,334.3L597.2,336.2L605.9,339.4L609.5,341.6L611.5,344.3L612.0,347.0L611.4,349.7L609.4,352.0L605.9,353.4L602.4,353.7L586.7,352.7L581.5,353.4L579.7,354.1L576.8,356.5L569.9,364.6L568.3,367.4L568.5,368.7L571.4,371.4L578.0,374.1L586.7,376.2L604.1,378.5L607.9,379.6L609.9,380.9L610.8,382.3L610.6,385.0L608.2,387.7L603.1,391.8L601.2,394.5L601.3,397.2L602.6,398.6L605.8,399.9L618.1,402.6L630.3,406.5L633.8,407.0L656.5,403.4L675.6,402.1L694.8,402.2L703.5,401.0L708.4,398.6L715.8,389.8L724.5,385.4L728.0,382.7L735.0,374.1L735.7,372.8L735.5,371.4L731.4,369.7L714.0,367.9L701.8,364.2L686.6,361.9L680.2,359.2L676.2,355.1L673.8,349.7L671.0,338.8L671.1,334.8L672.2,331.9L673.9,330.7L675.6,332.1L677.0,334.8L679.3,337.5L682.6,339.3L686.1,340.1L689.6,340.2L693.1,339.5L695.6,337.5L696.6,334.8L696.0,330.7L693.1,326.5L689.6,324.5L680.9,322.7L679.1,321.2L678.7,319.8L678.7,315.7L679.9,310.3L682.6,303.1L686.1,296.2L689.6,293.4L693.1,293.2L708.8,297.9L722.7,297.7L733.2,298.9L738.4,298.8L741.9,297.8L743.7,296.6L745.4,294.6L748.5,288.6L750.6,285.9L752.8,284.5L755.9,283.6L761.1,283.3L766.3,284.1L769.8,285.8L776.8,291.3L782.0,292.5L785.5,292.0L789.0,290.5L794.2,285.0L797.7,282.9L801.2,282.5L805.7,283.2L807.8,284.5L808.6,285.9L808.3,288.6L806.8,291.3L793.9,307.6L787.3,314.0L778.4,321.2L775.3,325.3L775.3,329.3L776.5,332.0L785.2,340.2L787.3,342.7L788.6,345.6L789.0,349.7L787.8,353.8L784.9,357.8L780.3,361.6L771.3,367.4L769.1,370.1L769.5,371.4L771.4,372.8L787.3,377.7L792.5,379.9L806.4,388.3L815.2,390.0L815.2,553.4L447.1,553.4L446.9,530.3L447.8,518.1L447.6,514.0L446.2,509.9L440.5,503.1L439.9,500.4L441.1,497.7L442.7,496.4L451.9,492.3L453.0,490.9L445.2,476.0L442.8,473.3L440.2,472.2L438.5,472.2L435.0,473.5L424.5,483.0L406.2,495.0L387.9,508.0L384.4,511.4L383.0,514.0L382.5,516.7L384.5,529.0L384.1,553.4L84.4,553.4L84.4,384.4L87.9,380.9L93.7,372.8L93.6,371.4L91.5,370.1L84.4,369.0L84.4,297.9L93.2,299.1L96.7,298.9L100.1,297.9L103.6,294.8L106.9,288.6L108.9,286.0L111.2,284.5L114.1,283.6L119.3,283.2L124.6,284.1L128.0,285.7L135.0,291.2L140.3,292.5L143.7,292.0L147.2,290.6L152.5,285.3L155.6,283.2ZM197.8,398.0L196.2,398.6L195.8,399.9L196.8,401.3L199.3,402.7L203.0,402.9L205.6,401.3L205.4,399.9L203.5,398.6L197.8,398.0ZM244.9,391.5L242.5,393.2L241.8,395.9L242.5,399.9L244.9,403.1L248.4,404.3L253.6,404.0L257.7,402.7L260.0,401.3L261.1,399.9L260.8,397.2L257.1,394.0L250.1,391.7L244.9,391.5ZM459.4,398.4L457.3,399.9L456.1,402.7L456.7,405.4L457.6,406.5L459.4,407.2L461.1,407.2L464.6,405.7L466.7,404.0L468.6,401.3L468.7,399.9L468.1,399.0L466.4,398.0L462.9,397.6L459.4,398.4ZM686.1,481.2L679.1,484.0L675.7,486.9L673.7,489.6L671.8,493.6L671.4,496.4L672.2,497.7L673.9,498.0L682.6,496.3L691.3,495.6L700.1,496.1L709.3,497.7L705.5,488.2L703.7,485.5L700.6,482.8L697.6,481.4L693.1,480.6L686.1,481.2ZM248.4,474.5L248.2,474.6L248.4,475.8L248.6,474.6L248.4,474.5ZM244.3,337.5L251.9,337.1L285.0,337.9L297.2,339.1L302.4,341.1L306.4,344.3L309.8,349.7L310.6,352.4L310.4,355.1L308.8,357.8L305.9,359.9L302.4,361.3L297.2,362.4L276.3,362.3L250.1,363.4L244.9,364.3L236.2,367.4L232.7,368.1L229.2,367.9L225.7,366.4L219.0,360.6L218.3,359.2L218.5,357.8L221.2,355.1L231.0,348.3L237.9,339.9L241.4,338.1L244.3,337.5Z"/><path fill="#fbe5d8" fill-rule="evenodd" d="M84.4,-15.6L815.2,-15.6L815.2,62.0L813.3,63.2L811.1,65.9L809.9,70.0L809.3,75.4L808.2,77.4L806.4,78.0L802.9,78.1L796.0,76.9L792.9,75.4L790.7,73.6L789.0,71.2L785.2,63.2L782.0,60.0L776.8,58.8L759.3,60.4L754.1,59.4L751.2,57.7L749.1,55.0L748.1,52.3L747.3,40.1L746.6,37.4L744.8,34.7L741.9,33.1L740.2,33.2L736.7,34.6L726.2,41.8L715.8,47.1L712.5,49.6L712.3,50.9L713.1,52.3L719.2,57.2L726.2,66.3L736.7,74.3L748.9,87.9L752.3,93.0L757.6,103.3L764.6,112.1L765.9,117.5L765.4,121.6L762.8,125.6L752.4,133.8L750.1,136.5L746.0,143.3L743.7,145.8L734.1,151.4L731.6,154.2L731.5,156.9L737.4,165.0L738.9,170.4L738.1,174.5L733.2,182.5L731.7,186.7L731.2,192.2L732.1,201.7L731.5,205.8L726.2,214.4L719.8,222.1L714.0,226.7L710.5,228.3L708.8,228.6L705.4,227.5L703.5,226.0L696.6,216.7L693.1,213.7L687.8,212.8L675.6,213.9L672.2,213.0L661.3,205.8L649.0,201.7L644.2,199.4L641.3,196.2L640.3,193.5L641.2,189.5L645.4,185.4L649.5,183.2L662.4,178.6L666.9,176.3L672.6,171.8L678.0,165.0L681.0,162.3L686.1,159.6L698.3,156.1L699.7,155.5L700.2,154.2L691.3,144.5L686.1,136.1L680.2,124.3L676.9,120.2L673.9,118.3L670.4,117.3L654.2,116.1L651.5,114.8L649.3,112.1L649.4,110.7L650.3,109.3L656.5,103.9L665.2,92.8L668.7,90.2L678.9,84.9L691.3,75.8L694.6,72.7L696.6,69.1L697.7,61.8L697.3,59.1L695.9,56.4L687.8,51.2L679.7,44.2L675.6,42.0L663.4,38.9L647.7,37.0L635.5,37.8L625.1,40.2L619.8,42.0L615.8,44.2L613.3,46.9L610.5,50.9L607.6,53.7L602.4,55.9L591.9,58.5L587.6,60.5L584.9,63.2L581.4,68.6L578.0,71.7L572.7,73.8L567.5,74.5L564.0,73.7L556.6,68.6L551.2,65.9L530.9,58.2L525.7,57.1L510.0,58.1L496.0,58.0L482.1,59.6L476.8,58.5L464.6,52.7L457.6,51.3L447.2,50.9L424.5,51.1L393.1,48.1L373.9,44.9L367.0,44.2L360.0,44.4L339.1,46.8L321.6,46.5L309.4,45.3L267.6,38.9L257.1,38.6L250.1,39.8L244.9,41.9L229.4,53.7L224.3,56.4L218.7,58.3L204.8,60.6L196.1,61.0L180.4,60.5L176.9,60.9L173.4,62.1L170.5,64.5L169.1,67.2L168.4,72.7L169.4,78.1L169.2,79.5L168.2,79.6L155.9,77.4L150.7,74.9L147.5,71.3L142.7,61.8L140.3,59.9L138.5,59.2L133.3,58.8L119.3,60.4L114.1,59.7L110.6,58.2L108.6,56.4L107.0,53.7L106.1,49.6L105.6,38.7L103.6,34.9L101.9,33.6L100.1,33.3L96.7,34.3L84.4,41.9L84.4,-15.6ZM84.4,67.2L84.4,66.1L86.2,66.6L89.7,68.2L93.2,70.7L100.8,80.8L107.1,87.6L110.0,91.7L115.8,103.0L122.9,112.1L124.3,117.5L123.8,121.6L121.2,125.6L110.6,133.8L108.4,136.5L104.3,143.3L101.9,146.0L92.7,151.4L90.0,154.2L89.6,155.5L90.4,158.2L94.9,163.7L96.4,166.4L97.2,171.8L96.5,174.5L92.2,181.3L90.3,185.4L89.3,192.2L90.2,204.4L88.0,209.8L84.4,214.6L84.4,67.2ZM594.9,80.8L597.2,80.4L600.7,81.2L602.4,82.7L604.1,85.8L605.4,86.3L619.8,87.3L626.8,89.0L628.8,90.3L630.7,93.0L631.3,97.1L630.5,99.8L628.6,101.6L623.3,103.0L612.9,103.4L607.6,102.8L606.2,101.2L605.2,91.7L604.1,86.7L595.4,84.3L594.4,83.5L593.8,82.2L594.9,80.8ZM529.9,90.3L541.4,89.6L550.1,90.6L554.6,93.0L555.6,94.4L555.9,97.1L554.4,101.2L551.1,105.3L548.3,107.4L541.4,111.3L539.0,113.4L537.3,116.1L534.1,125.6L530.9,129.7L529.1,130.6L525.7,131.0L515.2,128.9L511.7,129.1L507.9,131.1L505.7,133.8L504.3,136.5L503.6,140.6L503.8,141.9L504.7,143.0L508.2,144.3L516.9,146.2L519.8,147.4L522.9,150.1L524.2,152.8L524.5,156.9L523.9,160.9L519.5,171.8L518.7,175.9L518.8,180.0L520.8,193.5L520.6,196.2L519.4,199.0L516.9,200.6L513.5,200.9L501.2,197.0L496.0,195.9L480.3,196.6L475.9,196.2L471.6,194.9L462.9,190.1L448.9,185.2L447.6,184.0L447.2,182.7L447.5,181.3L449.9,178.6L452.0,177.2L459.4,174.6L469.9,173.5L473.3,172.7L483.8,165.2L494.3,160.1L497.8,157.1L500.2,151.4L500.3,146.0L499.2,144.6L489.0,140.3L482.8,136.5L479.0,132.4L477.9,129.7L478.2,128.4L481.0,125.6L497.8,117.6L501.9,114.8L505.2,110.7L510.6,99.8L514.3,95.8L520.4,92.6L529.9,90.3ZM598.5,106.6L600.7,106.4L601.8,108.0L600.7,109.8L598.9,110.4L596.3,109.3L596.5,108.0L598.5,106.6ZM329.4,117.5L332.1,116.8L335.6,117.3L341.0,120.2L348.6,127.0L362.6,136.5L371.2,143.3L375.8,148.7L376.2,150.1L375.7,152.2L373.9,153.7L370.5,154.4L367.0,153.6L363.5,151.5L340.8,132.5L332.1,127.0L328.8,124.3L327.3,121.6L327.2,120.2L327.8,118.8L329.4,117.5ZM386.4,120.2L389.6,119.8L394.9,120.2L398.6,121.6L400.0,122.9L400.3,124.3L398.4,126.5L394.9,127.6L389.6,127.8L386.1,127.1L383.7,125.6L382.8,124.3L382.7,122.9L383.6,121.6L386.4,120.2ZM440.1,131.1L447.2,131.0L450.6,132.4L451.3,133.8L451.5,136.5L450.4,140.6L448.9,141.9L447.2,142.5L442.0,142.8L435.0,141.7L430.6,139.2L429.9,137.9L429.9,136.5L431.5,134.3L434.7,132.4L440.1,131.1ZM145.0,148.7L147.2,147.5L150.7,148.7L152.5,151.3L151.9,152.8L149.0,154.1L147.2,153.8L145.6,152.8L144.8,151.4L145.0,148.7ZM786.7,148.7L789.0,147.6L792.2,148.7L794.1,151.4L793.6,152.8L791.3,154.2L789.0,154.1L787.3,153.0L786.4,151.4L786.7,148.7ZM171.6,163.7L176.9,164.0L182.1,165.9L192.6,173.6L203.0,179.2L206.7,182.7L208.4,188.1L210.2,215.3L209.4,223.4L207.9,228.8L206.5,231.6L203.0,235.0L189.1,244.7L185.6,246.3L182.1,247.1L176.9,247.3L171.6,246.2L166.4,244.0L159.4,239.6L152.5,234.2L149.0,230.4L146.9,226.1L145.8,220.7L145.6,197.6L146.6,193.5L149.8,189.5L159.8,180.0L161.4,177.2L164.2,169.1L165.7,166.4L168.2,164.5L171.6,163.7ZM814.8,163.7L815.2,163.6L815.2,246.8L811.7,245.6L806.4,242.9L796.0,235.9L792.5,232.9L790.3,230.2L788.5,226.1L787.4,220.7L787.1,215.3L787.6,197.6L788.8,193.5L790.8,190.8L801.2,179.7L808.2,166.7L810.3,165.0L814.8,163.7ZM118.8,287.2L121.1,287.4L124.4,288.6L131.5,293.9L135.0,295.4L138.5,296.2L147.2,296.8L150.7,298.1L151.3,300.8L149.9,304.9L145.3,310.3L138.5,314.9L133.3,316.2L128.0,315.4L124.7,313.0L119.3,307.8L113.5,303.5L112.1,302.2L110.8,299.5L110.7,295.4L112.3,290.7L114.4,288.6L118.8,287.2ZM760.5,287.2L762.8,287.4L766.0,288.6L773.3,293.9L776.7,295.4L790.7,297.4L791.8,298.1L792.6,299.5L792.4,302.2L791.2,304.9L786.6,310.3L780.3,314.8L776.8,316.0L773.3,316.4L770.2,315.7L768.1,314.6L761.1,308.0L754.1,302.5L752.4,299.5L752.3,295.4L754.1,290.5L756.0,288.6L760.5,287.2ZM84.4,310.3L84.4,309.3L87.9,310.3L91.4,312.8L95.9,322.5L98.9,325.3L103.6,326.1L117.6,324.8L121.1,325.4L122.8,326.3L124.6,328.1L129.7,336.1L138.5,341.5L141.1,344.3L142.3,348.3L141.7,351.1L140.3,353.5L136.8,356.6L132.0,359.2L124.6,362.2L119.3,363.5L114.1,363.7L100.1,362.4L84.4,363.0L84.4,310.3ZM695.9,310.3L700.1,309.5L721.0,309.0L728.0,309.7L731.4,311.3L733.3,313.0L736.7,322.3L739.6,325.3L743.7,326.1L757.6,324.7L762.8,325.5L766.0,328.0L771.3,336.1L778.5,340.5L782.0,343.4L783.7,347.0L783.2,351.1L780.3,355.1L776.8,357.6L768.1,361.6L761.1,363.4L755.9,363.6L743.7,362.5L728.0,363.1L721.0,361.7L717.5,359.2L716.5,356.5L716.9,353.8L719.2,347.0L719.2,344.3L717.0,341.6L708.8,338.1L705.3,334.8L700.1,323.0L694.9,317.1L693.4,314.4L694.1,311.7L695.9,310.3ZM558.5,322.5L562.3,321.8L565.8,322.2L571.8,325.3L575.0,328.0L577.0,330.7L577.8,333.4L577.0,336.1L575.3,337.5L572.7,338.4L567.5,338.9L562.3,338.0L558.8,336.1L555.9,332.0L555.1,328.0L555.7,325.3L556.6,323.9L558.5,322.5ZM103.3,375.5L108.9,374.8L114.1,374.9L133.3,377.9L142.0,380.2L148.5,383.6L150.8,386.4L151.0,387.7L150.4,389.1L148.7,390.4L138.5,394.5L135.6,397.2L135.0,399.9L135.6,401.3L138.5,403.1L142.0,403.5L147.2,402.7L150.9,401.3L157.7,397.2L161.2,395.8L166.4,394.9L171.6,394.8L176.9,395.4L182.1,397.0L192.6,404.4L196.1,405.9L201.3,406.9L204.8,406.6L208.3,405.4L210.0,403.9L211.3,401.3L211.0,398.6L210.0,397.2L206.5,395.1L197.5,391.8L194.9,389.1L195.1,386.4L197.6,383.6L200.3,382.3L204.8,381.1L210.0,380.9L215.2,382.1L224.4,387.7L234.1,391.8L236.8,394.5L239.8,401.3L241.7,404.0L244.9,406.1L248.4,406.6L253.6,406.0L259.9,404.0L262.5,402.7L264.9,399.9L264.7,397.2L262.3,394.0L258.8,391.5L252.0,387.7L250.5,386.4L250.2,385.0L250.8,383.6L252.4,382.3L259.7,379.6L267.6,378.2L278.0,377.3L326.9,376.8L339.1,377.2L363.5,379.5L368.7,380.7L372.2,382.3L375.7,384.8L378.4,387.7L380.0,390.4L381.4,394.5L383.2,405.4L384.4,409.4L386.1,411.7L389.6,412.8L396.6,410.8L404.0,406.7L408.1,402.7L412.3,395.8L415.8,392.8L431.5,387.7L434.4,386.4L443.7,379.0L447.2,377.9L452.4,377.2L468.1,377.2L480.3,379.9L492.5,376.8L508.2,375.3L537.9,375.6L558.8,374.8L567.5,375.6L586.7,380.5L593.9,383.6L595.3,385.0L595.9,387.7L593.3,394.5L593.0,397.2L593.4,398.6L595.4,400.4L600.7,402.2L616.3,405.2L628.6,409.4L633.8,410.2L637.3,409.7L647.7,406.2L654.7,405.1L693.1,404.7L700.9,404.0L707.0,402.7L712.0,399.9L719.1,393.2L728.0,387.5L738.4,378.3L741.9,376.4L745.4,375.3L750.6,374.7L755.9,374.9L778.5,378.7L783.8,380.2L788.1,382.3L791.4,385.0L792.5,387.7L791.9,389.1L790.2,390.4L782.0,393.5L778.3,395.9L776.8,398.1L776.6,399.9L777.2,401.3L778.9,402.7L782.0,403.4L787.3,403.0L792.2,401.3L801.2,396.6L806.4,395.5L815.2,395.0L815.2,553.4L751.1,553.4L750.6,529.0L752.9,516.7L752.4,514.0L750.7,511.3L708.5,480.1L701.8,477.0L693.1,476.1L684.4,477.0L673.9,480.1L667.6,482.8L656.5,489.3L647.7,492.7L646.0,493.9L640.8,500.8L630.8,507.2L627.6,509.9L625.9,512.7L625.2,516.7L626.6,529.0L626.3,553.4L518.3,553.4L517.9,529.0L519.9,516.7L519.5,514.0L517.9,511.3L514.6,508.6L506.5,503.9L498.3,496.4L487.3,490.2L481.6,484.1L478.6,482.0L473.3,480.9L462.9,481.6L457.6,481.1L454.2,479.4L452.4,477.9L446.1,470.6L443.7,469.1L440.2,468.5L435.6,469.2L431.5,471.2L422.4,478.7L407.4,488.2L387.9,502.3L379.2,510.0L377.5,512.7L376.6,516.7L378.3,529.0L377.9,553.4L323.0,553.4L323.0,508.6L322.2,503.1L320.3,499.1L316.4,495.2L307.7,489.6L300.7,482.8L290.5,476.0L283.3,469.3L274.5,464.0L267.6,456.1L265.8,455.1L262.3,454.3L258.8,455.3L257.1,456.6L250.8,463.8L241.4,470.2L238.5,474.6L237.6,478.7L237.9,482.8L238.9,485.5L247.7,499.1L250.8,505.9L252.5,511.3L253.0,516.7L252.5,529.0L252.6,553.4L109.5,553.4L109.0,530.3L109.4,526.2L111.3,518.1L110.8,514.0L109.1,511.3L107.1,509.5L96.7,502.2L88.2,495.0L84.4,492.9L84.4,388.8L87.9,386.5L96.7,378.3L100.1,376.4L103.3,375.5ZM461.1,395.4L455.9,397.9L453.7,401.3L453.4,404.0L454.0,406.7L455.9,409.2L457.6,410.1L461.1,410.1L466.4,407.7L472.1,402.7L474.7,398.6L474.9,397.2L474.5,395.9L471.6,394.7L466.4,394.7L461.1,395.4ZM607.6,470.3L604.1,471.9L603.4,473.3L603.6,474.6L605.9,476.8L609.4,478.2L614.6,478.9L616.7,478.7L618.9,477.3L619.3,474.6L617.4,471.9L612.9,470.2L607.6,470.3Z"/><path fill="#f7f6f6" fill-rule="evenodd" d="M84.4,-15.6L91.0,-15.6L90.7,8.8L91.9,21.1L91.3,25.1L90.1,27.9L87.9,31.0L84.4,34.0L84.4,-15.6ZM108.1,-15.6L732.6,-15.6L732.3,8.8L733.7,21.1L732.9,25.1L731.5,27.9L728.2,31.9L723.7,36.0L717.4,40.1L707.0,44.2L700.1,48.7L696.6,49.8L691.3,48.3L682.7,40.1L677.4,37.3L661.7,32.6L649.5,31.1L637.3,31.4L618.1,33.5L598.9,31.9L572.7,33.4L548.3,31.5L525.7,32.5L499.5,32.6L480.3,31.9L475.1,32.9L471.7,34.7L469.1,37.4L465.4,42.8L461.1,44.9L452.4,45.6L429.7,44.1L407.1,46.2L391.8,45.5L372.2,42.0L363.5,41.2L354.8,41.7L335.6,44.4L319.9,44.4L285.0,39.2L267.6,35.6L262.3,35.1L255.4,35.3L248.4,36.5L242.7,38.7L237.9,42.2L227.1,52.3L222.5,55.0L218.7,56.6L213.5,57.9L206.5,58.9L197.8,59.3L182.1,59.0L176.9,59.5L173.4,60.5L171.2,61.8L168.7,64.5L167.5,67.2L166.1,72.7L164.7,75.4L162.9,76.2L159.4,76.5L154.2,75.3L150.7,73.2L148.2,70.0L143.7,60.7L140.3,58.2L135.0,57.6L122.8,59.1L117.6,59.0L112.3,57.0L109.6,53.7L108.7,48.2L110.8,36.0L110.5,33.3L107.5,22.4L108.3,8.8L108.1,-15.6ZM749.7,-15.6L815.2,-15.6L815.2,60.5L812.6,61.8L810.2,64.5L807.3,72.7L805.0,75.4L801.2,76.3L797.7,76.0L792.5,73.4L789.7,70.0L785.5,61.0L782.0,58.3L776.8,57.6L764.6,59.0L759.3,59.0L754.9,57.7L751.8,55.0L750.6,52.3L750.2,48.2L752.1,38.7L752.2,34.7L749.5,25.1L749.1,21.1L749.9,8.8L749.7,-15.6ZM541.8,46.9L548.3,46.2L553.6,47.7L556.0,49.6L557.8,52.3L558.3,55.0L557.9,56.4L556.9,57.7L555.3,58.7L551.8,59.3L546.6,58.7L540.8,56.4L537.5,53.7L536.8,50.9L538.8,48.2L541.8,46.9ZM702.3,56.4L705.3,55.3L708.8,55.5L715.8,58.0L719.2,60.8L726.2,69.2L736.7,77.2L749.0,90.3L751.5,94.4L755.9,103.9L761.1,111.3L762.8,114.8L763.1,118.8L761.5,122.9L758.9,125.6L750.2,132.4L742.7,140.6L736.7,144.1L724.5,148.2L717.5,149.1L710.5,148.8L703.5,147.4L698.3,145.2L693.1,141.4L689.6,137.7L686.1,132.9L680.9,122.9L677.4,118.8L672.2,116.3L658.2,113.6L656.2,112.1L655.7,110.7L656.4,108.0L660.6,101.2L664.4,95.8L666.9,93.2L670.4,90.8L680.9,85.5L693.1,76.5L695.6,74.0L697.9,70.0L700.7,59.1L702.3,56.4ZM84.4,70.0L84.4,69.0L86.2,69.6L91.4,72.6L99.6,82.2L107.1,89.9L109.9,94.4L114.1,103.6L120.0,112.1L121.2,114.8L121.5,117.5L120.7,121.6L118.8,124.3L108.5,132.4L100.1,141.5L93.2,145.2L84.4,147.8L84.4,70.0ZM612.3,90.3L618.1,89.4L623.5,90.3L627.2,93.0L628.1,95.8L627.8,97.1L627.1,98.5L625.3,99.8L621.6,100.9L616.3,101.0L612.9,100.1L610.7,98.5L609.7,95.8L609.9,93.0L610.6,91.7L612.3,90.3ZM175.1,166.4L180.4,168.2L189.1,175.1L200.4,181.3L203.7,185.4L204.7,190.8L203.9,216.6L203.4,220.7L202.0,224.8L198.9,228.8L191.3,234.3L184.9,239.7L180.4,241.9L176.9,242.4L173.4,242.2L168.2,240.4L162.9,237.2L155.9,231.8L152.8,228.8L151.0,226.1L149.9,223.4L149.1,219.3L150.1,212.5L152.5,207.6L158.8,199.0L167.2,190.8L168.9,188.1L169.6,184.0L168.0,173.2L169.2,169.1L171.6,166.9L175.1,166.4ZM812.9,167.7L815.2,166.4L815.2,242.2L808.2,239.1L796.0,230.5L792.5,226.0L790.8,219.3L791.4,213.9L793.6,208.5L808.7,186.7L809.8,182.7L810.1,173.2L810.9,170.4L812.9,167.7ZM492.3,170.4L496.0,169.5L499.5,169.7L501.4,170.4L504.2,173.2L505.9,177.2L506.4,181.3L506.0,184.0L504.3,186.7L501.0,188.1L494.3,188.6L487.3,188.2L483.8,186.7L483.0,184.0L485.5,177.2L488.3,173.2L492.3,170.4ZM671.9,184.0L684.4,184.1L689.6,184.9L693.1,186.1L696.3,188.1L698.2,190.8L698.7,193.5L697.9,196.2L695.5,199.0L691.3,201.2L686.1,202.2L680.9,202.4L654.7,197.9L650.9,196.2L648.4,193.5L648.3,192.2L649.8,189.5L654.4,186.7L661.7,185.0L671.9,184.0ZM764.6,296.7L769.8,298.5L782.3,300.8L784.6,302.2L785.4,303.5L785.3,304.9L783.5,307.6L780.3,310.0L776.8,310.8L773.3,310.0L770.0,307.6L767.9,304.9L764.2,298.1L764.6,296.7ZM122.7,298.1L122.8,297.1L128.0,298.6L140.9,300.8L143.4,302.2L144.1,303.5L143.9,304.9L142.0,307.8L138.5,310.1L136.8,310.6L133.3,310.5L130.2,309.0L128.0,307.0L122.7,298.1ZM98.3,337.5L105.4,336.3L108.9,336.9L110.6,338.5L111.4,341.6L111.3,349.7L110.4,352.4L108.9,353.7L105.4,354.8L100.1,355.0L94.9,354.1L92.2,352.4L91.4,351.1L91.2,348.3L92.6,342.9L94.9,339.6L98.3,337.5ZM739.9,337.5L745.4,336.3L748.9,336.4L751.3,337.5L752.2,338.8L752.7,342.9L752.3,349.7L751.0,352.4L749.1,353.8L743.7,355.1L738.4,355.5L734.0,355.1L731.3,353.8L730.6,352.4L730.6,349.7L732.4,344.3L735.3,340.2L739.9,337.5ZM101.7,379.6L107.1,378.5L114.1,378.6L131.5,381.0L136.8,382.2L140.0,383.6L141.7,385.0L142.3,386.4L141.8,387.7L133.3,394.4L131.3,398.6L131.7,401.3L132.6,402.7L136.8,405.2L140.3,405.8L145.5,405.4L162.9,399.8L171.6,398.8L178.6,400.3L193.0,408.1L197.8,409.3L201.3,409.6L206.5,409.1L210.0,407.8L212.9,405.4L214.9,401.3L215.0,397.2L213.5,394.2L211.8,393.1L204.7,390.4L202.6,389.1L201.8,387.7L202.0,386.4L203.0,385.4L206.5,384.1L210.0,384.1L213.0,385.0L220.5,390.3L230.9,394.0L234.4,397.0L238.4,404.0L240.8,406.7L243.1,408.2L246.6,408.8L251.9,408.1L260.6,405.6L264.3,404.0L267.6,401.3L268.2,398.6L267.3,395.9L259.2,386.4L259.4,385.0L260.7,383.6L265.8,381.5L272.8,380.0L283.3,379.3L328.6,378.9L342.5,379.9L363.5,382.9L368.7,384.5L372.2,386.6L375.7,390.2L378.0,394.5L381.6,412.2L384.4,415.5L387.9,416.5L391.4,416.0L394.9,414.5L405.3,408.3L408.8,404.9L414.0,397.1L417.5,394.2L421.0,392.6L436.7,387.7L445.4,382.0L448.9,380.4L454.2,379.3L461.1,379.2L466.4,380.1L469.9,381.8L471.7,383.6L472.6,386.4L471.4,389.1L469.7,390.4L457.6,394.4L453.5,397.2L451.5,401.3L451.2,405.4L452.2,409.4L454.2,411.7L457.6,413.1L462.9,412.2L467.7,409.4L476.8,402.7L480.3,401.5L483.8,401.2L489.0,402.3L495.4,405.4L499.5,408.5L506.5,416.2L508.9,417.6L511.7,418.1L513.5,417.6L515.2,416.2L516.5,413.5L516.2,409.4L513.9,405.4L509.2,401.3L494.3,393.4L492.4,391.8L490.5,389.1L490.3,386.4L490.9,385.0L492.5,383.2L496.0,381.2L503.0,379.3L513.5,378.4L534.4,379.2L560.5,378.4L571.0,379.7L581.5,382.9L585.6,385.0L587.1,386.4L588.1,389.1L586.5,395.9L586.4,398.6L588.0,401.3L590.2,402.6L595.3,404.0L612.9,406.8L618.1,408.2L628.6,412.4L633.8,413.1L637.3,412.5L647.7,408.0L654.7,406.5L663.4,406.3L677.4,407.3L684.4,407.3L700.1,406.1L708.8,404.5L714.8,401.3L721.0,395.7L730.8,389.1L738.4,382.3L741.9,380.1L745.4,378.9L750.6,378.4L755.9,378.6L776.8,381.8L781.6,383.6L783.2,385.0L783.8,386.4L783.4,387.7L782.0,389.1L775.0,394.3L773.3,397.2L772.9,399.9L773.3,401.3L775.0,403.5L776.8,404.6L780.3,405.6L785.5,405.5L804.7,400.2L815.2,399.0L815.2,553.4L761.5,553.4L761.2,529.0L762.9,516.7L762.5,514.0L761.2,511.3L757.0,507.2L744.9,499.1L714.0,476.2L710.5,474.2L707.0,473.0L701.8,472.1L687.8,472.5L672.2,474.5L661.7,475.1L658.2,476.2L649.5,480.4L644.2,481.2L639.0,481.1L633.8,480.3L630.3,478.8L627.2,476.0L622.7,470.6L619.8,468.6L614.6,467.1L609.4,466.8L602.4,467.7L598.6,469.2L595.2,471.9L594.1,474.6L594.5,477.3L596.9,480.1L608.5,485.5L610.5,486.9L612.6,489.6L612.4,492.3L606.0,499.1L605.2,501.8L607.7,515.4L607.4,553.4L527.3,553.4L527.1,529.0L528.2,516.7L527.7,512.7L525.3,508.6L522.2,505.9L511.7,500.2L503.0,493.1L492.5,487.4L485.6,481.1L482.1,478.7L476.8,477.2L464.6,477.9L459.4,477.4L455.9,475.6L449.8,469.2L447.2,467.3L443.7,466.0L440.2,465.7L435.0,466.6L429.1,469.2L419.3,476.7L405.3,485.1L386.1,499.0L377.7,505.9L373.8,509.9L372.2,512.7L371.4,516.7L372.9,529.0L372.6,553.4L331.4,553.4L331.3,529.0L332.2,515.4L330.8,509.9L325.2,499.1L321.6,494.9L311.2,487.4L302.9,480.1L294.9,474.6L286.7,467.7L276.6,461.1L269.3,453.5L265.8,451.9L262.3,451.4L258.8,452.1L255.4,454.0L248.4,461.1L237.4,469.2L233.6,474.6L230.1,482.8L229.2,486.9L229.3,489.6L232.0,499.1L232.7,504.5L232.7,553.4L119.9,553.4L119.6,529.0L121.3,516.7L120.4,512.7L118.5,509.9L115.4,507.2L103.3,499.1L91.4,489.2L84.4,485.3L84.4,392.3L89.7,389.2L96.8,382.3L101.7,379.6ZM347.8,412.1L344.9,413.5L344.3,414.9L345.1,417.6L346.3,419.0L348.7,420.3L351.3,420.9L354.8,420.4L356.5,419.0L356.8,416.2L354.8,413.6L351.3,412.1L347.8,412.1Z"/><path fill="#e0ecf3" fill-rule="evenodd" d="M115.5,-15.6L182.3,-15.6L182.0,7.5L183.2,19.7L183.0,23.8L181.1,27.9L176.1,31.9L174.9,33.3L174.5,34.7L174.9,36.0L176.9,37.3L180.4,37.7L192.6,36.3L208.3,36.7L222.2,33.3L231.7,31.9L234.4,31.1L235.5,29.2L236.2,23.8L236.1,-15.6L305.5,-15.6L305.4,-4.7L306.1,7.5L303.8,19.7L304.2,23.8L306.0,26.5L309.4,28.4L314.6,29.4L319.9,28.6L323.4,27.1L326.0,25.1L327.0,23.8L327.7,21.1L327.4,18.4L324.3,8.8L325.2,-4.7L325.0,-15.6L344.5,-15.6L344.9,8.8L343.3,18.4L343.2,22.4L344.8,26.5L349.1,31.9L350.2,34.7L349.7,36.0L348.4,37.4L342.4,40.1L333.8,41.7L323.4,42.1L314.6,41.4L307.2,40.1L288.4,36.0L272.8,31.4L267.6,30.6L258.8,30.4L237.9,32.4L236.2,33.2L235.2,34.7L232.7,40.1L228.1,46.9L224.2,50.9L220.4,53.7L215.2,55.7L208.3,57.1L183.8,57.4L173.4,59.0L170.4,60.5L168.2,62.6L166.4,65.9L164.4,71.3L162.9,73.4L159.4,74.7L155.9,74.4L152.5,72.9L150.7,71.3L148.8,68.6L145.5,60.2L143.7,58.1L142.0,57.0L136.8,56.2L124.6,57.8L119.3,57.8L114.8,56.4L112.0,53.7L111.2,50.9L111.4,46.9L115.3,37.4L116.2,33.3L115.2,21.1L115.5,-15.6ZM757.1,-15.6L815.2,-15.6L815.2,58.9L811.8,60.5L809.9,62.2L805.7,71.3L802.9,74.0L801.2,74.5L797.7,74.5L794.2,73.1L792.5,71.6L790.4,68.6L787.2,60.5L785.5,58.3L783.8,57.2L778.5,56.2L761.1,57.9L756.2,56.4L753.5,53.7L752.7,50.9L752.9,46.9L756.8,37.4L757.8,31.9L756.8,21.1L757.1,-15.6ZM376.0,30.6L393.1,29.6L407.1,30.6L411.8,31.9L414.1,33.3L415.4,34.7L415.8,37.4L413.6,40.1L410.9,41.4L407.1,42.4L398.4,43.1L387.9,42.1L374.8,38.7L368.9,36.0L368.0,34.7L368.6,33.3L370.9,31.9L376.0,30.6ZM705.1,59.1L707.0,58.4L710.5,58.5L715.8,60.7L719.2,63.8L724.5,70.1L733.2,76.7L745.4,88.3L749.9,94.4L754.1,104.7L759.1,113.4L759.9,116.1L759.5,120.2L757.8,122.9L740.2,137.9L733.2,141.2L721.0,144.5L714.0,145.2L708.8,145.0L703.5,143.8L698.3,141.7L693.1,138.1L688.7,133.8L686.1,130.1L681.6,121.6L679.1,118.4L673.9,115.5L661.7,112.1L660.1,110.7L659.5,109.3L659.9,106.6L661.7,102.5L665.1,97.1L667.7,94.4L671.7,91.7L682.6,86.5L696.6,75.5L699.0,71.3L701.8,62.9L703.5,60.2L705.1,59.1ZM84.4,72.7L84.4,71.6L86.2,72.2L91.1,75.4L106.7,91.7L109.0,95.8L112.8,105.3L117.5,113.4L118.4,117.5L117.9,120.2L116.2,122.9L107.1,130.3L98.4,138.2L93.2,141.1L84.4,143.3L84.4,72.7ZM615.4,93.0L618.1,92.2L621.6,92.7L623.7,94.4L623.9,95.8L623.2,97.1L621.6,98.0L618.1,98.4L616.3,97.9L614.2,95.8L614.3,94.4L615.4,93.0ZM184.0,181.3L187.3,180.9L193.3,182.7L197.0,185.4L198.5,188.1L198.8,193.5L196.9,205.8L197.3,218.0L196.5,220.7L194.3,223.8L187.3,229.0L180.6,235.6L176.9,237.3L173.4,237.5L169.9,236.4L166.4,234.5L155.9,226.2L153.5,222.1L153.2,218.0L154.2,214.7L157.0,211.2L175.1,197.8L178.3,194.9L180.7,190.8L182.3,184.0L184.0,181.3ZM812.6,200.3L815.2,199.0L815.2,237.5L811.2,235.6L798.9,227.5L796.0,224.1L794.7,219.3L795.6,215.3L797.7,212.0L812.6,200.3ZM323.6,380.9L333.8,381.1L342.5,382.1L361.7,385.5L368.7,388.2L372.9,391.8L375.8,397.2L377.0,402.7L377.8,412.2L379.1,416.2L382.0,419.0L386.1,420.0L389.6,419.7L393.1,418.6L405.4,410.8L409.9,406.7L415.8,397.9L420.5,394.5L438.9,389.1L451.8,382.3L455.9,381.5L461.1,381.7L465.7,383.6L466.8,385.0L467.1,386.4L466.6,387.7L465.1,389.1L454.2,393.6L452.4,394.9L450.8,397.2L449.5,401.3L449.1,408.1L450.2,412.2L452.4,414.6L455.9,416.1L461.1,415.9L464.6,414.4L476.8,406.0L480.3,404.9L483.8,404.9L489.0,406.3L492.7,408.1L497.8,412.1L504.7,420.2L508.2,422.3L511.7,422.8L515.2,421.7L519.3,417.6L520.8,413.5L520.0,408.1L518.0,404.0L515.2,400.8L511.7,398.0L501.5,391.8L498.9,389.1L498.4,387.7L498.7,386.4L501.2,384.1L508.2,382.0L515.2,381.5L536.1,382.5L558.8,381.5L565.8,382.0L571.0,383.1L576.5,385.0L580.1,387.7L580.8,389.1L581.0,391.8L579.4,399.9L580.7,402.7L583.2,404.5L588.4,405.9L604.1,407.3L611.1,408.6L618.1,410.8L626.8,414.6L633.8,415.8L639.0,414.6L648.5,409.4L654.7,407.9L661.7,407.8L675.6,409.6L682.6,409.7L701.8,407.9L710.5,406.2L715.8,403.9L723.9,397.2L733.2,390.9L740.2,384.6L745.4,382.0L748.9,381.4L754.1,381.5L771.6,384.6L774.7,386.4L774.9,387.7L770.8,394.5L769.9,397.2L769.7,399.9L771.6,403.9L775.0,406.4L778.5,407.4L783.8,407.6L802.9,403.6L815.2,402.4L815.2,553.4L772.3,553.4L772.0,529.0L773.3,516.7L772.6,512.7L770.1,508.6L766.3,505.4L752.3,496.4L715.8,468.6L712.3,467.3L708.8,466.7L689.6,467.5L686.1,467.2L682.6,466.1L681.3,465.1L680.6,463.8L680.3,457.0L679.1,453.2L677.4,451.0L675.6,450.0L673.9,449.9L672.2,450.4L668.7,453.1L661.7,460.5L654.7,466.5L648.8,473.3L644.2,475.8L639.0,476.6L635.5,476.0L632.0,474.3L626.4,469.2L622.3,466.5L616.3,464.8L609.4,464.4L602.4,464.9L595.4,466.9L588.6,470.6L579.5,477.3L579.0,478.7L580.3,488.2L579.3,493.6L578.0,496.0L576.2,497.7L568.6,501.8L566.6,504.5L568.4,515.4L567.9,529.0L568.0,553.4L542.5,553.4L542.3,529.0L543.4,515.4L542.3,511.3L540.8,508.6L537.7,504.5L534.4,501.4L530.9,499.4L518.7,495.3L509.4,488.2L497.8,484.1L494.3,481.8L488.6,476.0L485.6,474.1L478.6,472.9L466.4,474.3L461.1,473.9L457.6,472.2L450.7,465.1L447.2,463.7L442.0,463.2L433.2,464.5L425.9,467.8L415.8,475.0L401.8,483.0L393.1,489.8L382.7,496.9L369.0,508.6L366.6,512.7L365.9,516.7L367.2,529.0L366.9,553.4L338.5,553.4L338.3,529.0L339.0,515.4L338.3,511.3L336.3,507.2L325.0,493.6L313.9,485.5L305.9,478.4L297.2,472.3L288.5,465.2L279.8,459.8L271.0,451.2L267.6,449.6L262.3,448.9L257.1,449.9L254.0,451.5L245.6,459.7L235.8,466.5L230.6,471.9L224.3,480.1L221.9,484.1L219.9,490.9L216.6,507.2L216.3,553.4L130.7,553.4L130.4,529.0L131.6,516.7L130.4,511.3L128.5,508.6L125.5,505.9L108.9,495.2L91.4,480.1L87.9,477.9L84.4,476.4L84.4,395.7L89.7,393.4L98.2,385.0L101.9,382.7L107.1,381.5L114.1,381.6L128.0,384.0L131.1,385.0L133.0,386.4L133.3,387.7L128.6,395.9L128.1,399.9L129.1,402.7L131.5,405.3L136.8,407.4L140.3,407.7L145.5,407.3L162.9,402.9L171.6,402.2L178.6,404.0L187.3,408.9L192.6,411.0L197.8,412.0L204.8,411.9L210.0,410.7L213.5,408.8L216.5,405.4L220.5,397.0L222.2,395.9L225.7,395.6L229.2,396.6L231.8,398.6L236.9,406.7L239.5,409.4L243.1,410.9L246.6,411.0L262.4,406.7L267.6,404.5L270.0,402.7L271.4,399.9L271.1,397.2L265.7,387.7L265.8,386.4L266.8,385.0L269.1,383.6L274.5,382.1L281.5,381.3L305.9,381.5L323.6,380.9ZM342.5,409.2L340.1,410.8L339.5,412.2L339.3,414.9L341.0,419.0L344.3,422.2L349.5,424.2L354.8,424.6L358.2,423.9L361.6,421.7L362.4,419.0L361.8,416.2L358.2,412.2L354.8,410.4L351.3,409.3L346.0,408.8L342.5,409.2ZM527.4,464.7L521.5,467.8L517.3,471.9L515.8,476.0L516.3,478.7L517.1,480.1L520.4,482.2L532.6,484.8L534.4,485.7L538.4,489.6L541.4,491.6L546.6,492.3L549.5,490.9L550.6,488.2L549.7,485.5L548.0,484.1L541.1,481.4L538.5,478.7L535.9,467.8L534.4,465.3L530.9,464.0L527.4,464.7ZM651.2,426.8L650.0,428.5L650.2,429.8L651.2,431.2L653.0,432.2L656.5,432.7L659.3,431.2L659.8,429.8L659.5,428.5L658.2,427.1L654.7,426.0L651.2,426.8Z"/><path fill="#c2ddec" fill-rule="evenodd" d="M127.5,29.2L133.3,28.7L155.9,29.7L161.2,31.6L162.9,33.3L166.5,38.7L168.2,40.2L171.6,41.7L182.1,42.7L217.0,42.4L219.4,42.8L221.3,44.2L221.6,46.9L220.1,49.6L217.1,52.3L210.0,54.9L203.0,55.5L185.6,55.5L176.9,56.5L171.6,57.8L168.2,60.0L166.6,61.8L162.0,71.3L159.4,72.9L155.9,72.9L152.7,71.3L150.7,69.2L149.1,65.9L146.7,57.7L145.5,56.3L143.7,55.3L138.5,54.6L121.1,56.6L117.6,55.8L114.6,53.7L113.4,49.6L115.1,44.2L122.8,32.9L124.6,30.9L127.5,29.2ZM769.3,29.2L773.3,28.7L790.7,29.1L799.5,30.2L802.9,32.0L809.7,40.1L815.2,42.1L815.2,57.2L811.7,58.4L809.0,60.5L807.3,63.2L804.7,69.5L802.9,71.7L799.5,73.0L796.0,72.4L794.2,71.3L791.2,67.2L788.2,57.7L785.5,55.4L780.3,54.6L762.8,56.6L759.3,55.9L756.1,53.7L755.0,49.6L756.6,44.2L764.6,32.7L766.3,30.8L769.3,29.2ZM327.6,33.3L332.1,32.6L334.1,33.3L334.7,34.7L333.8,36.1L328.6,37.7L322.3,37.4L321.2,36.0L327.6,33.3ZM705.5,61.8L707.0,61.0L710.5,60.8L715.8,63.1L724.4,72.7L731.8,78.1L745.4,90.4L749.0,95.8L756.2,116.1L755.5,120.2L753.4,122.9L740.2,133.4L731.4,137.6L721.8,140.6L715.8,141.8L710.5,142.0L705.3,141.3L700.1,139.5L694.8,136.7L691.3,134.1L687.8,130.2L682.6,120.4L680.4,117.5L675.6,114.6L665.2,111.3L662.9,109.3L662.4,108.0L662.6,105.3L664.3,101.2L668.7,95.4L672.2,93.0L684.4,87.9L697.0,78.1L699.8,74.0L703.2,64.5L705.5,61.8ZM84.4,74.0L89.7,77.1L95.8,83.5L103.6,90.2L105.9,93.0L108.0,97.1L111.0,106.6L113.9,113.4L114.6,117.5L113.9,120.2L111.8,122.9L98.4,133.8L91.4,137.6L84.4,139.3L84.4,74.0ZM279.5,383.6L286.7,383.2L304.2,383.7L333.8,383.3L358.2,387.5L366.5,390.4L371.1,394.5L372.6,397.2L373.9,401.3L374.2,405.4L373.7,410.8L372.2,415.9L370.5,417.4L368.7,416.7L361.4,410.8L355.5,408.1L333.8,402.7L332.1,403.3L331.6,404.0L332.0,406.7L336.5,419.0L338.1,421.7L340.8,424.3L344.3,426.2L347.8,427.1L360.0,428.4L367.0,427.5L373.9,423.5L386.1,423.6L391.4,422.8L394.9,421.6L398.4,419.5L409.1,410.8L412.3,407.0L416.3,399.9L421.0,395.9L428.0,393.4L445.4,389.8L447.4,389.1L452.4,385.7L455.9,384.6L459.4,384.9L460.9,386.4L459.4,388.1L450.7,391.5L448.9,394.3L447.8,399.9L446.5,412.2L447.2,414.9L448.9,416.9L452.4,418.9L455.9,420.1L459.4,420.8L462.9,420.8L466.1,419.0L470.7,413.5L475.1,410.0L478.6,408.4L483.8,408.1L488.4,409.4L492.5,411.9L495.5,414.9L500.3,421.7L503.0,424.3L506.5,426.5L510.0,427.5L511.7,427.5L515.2,426.3L519.6,423.0L522.8,419.0L524.6,413.5L524.1,408.1L521.0,401.3L517.5,397.2L510.5,391.8L508.1,389.1L508.1,387.7L509.5,386.4L513.5,385.4L518.7,385.2L537.9,386.2L558.8,385.1L567.5,386.3L570.7,387.7L572.8,390.4L572.7,393.2L569.8,399.9L570.2,402.7L572.8,405.4L576.2,407.5L583.2,409.3L598.9,409.0L607.6,409.9L615.2,412.2L626.8,417.5L633.8,418.6L637.3,418.5L640.1,417.6L647.1,412.2L651.2,410.3L654.7,409.4L661.7,409.3L673.9,411.7L680.9,412.2L689.6,411.5L712.6,408.1L719.4,405.4L726.2,399.6L734.9,394.0L741.9,387.4L745.4,385.4L752.4,384.4L762.9,386.4L765.7,387.7L766.9,389.1L767.2,391.8L766.4,398.6L767.3,402.7L769.8,406.0L773.3,408.2L776.8,409.2L782.0,409.5L801.2,406.3L815.2,405.7L815.2,553.4L797.8,553.4L797.4,529.0L799.5,516.7L798.4,512.7L794.3,508.6L782.7,500.4L770.6,495.0L766.3,492.4L758.6,485.5L750.6,480.2L743.6,474.6L732.7,467.8L729.7,465.1L724.5,458.8L722.7,457.5L719.2,456.5L715.8,456.6L700.1,460.2L693.1,460.2L689.6,458.1L684.4,448.9L682.0,446.1L677.4,443.7L673.9,443.3L670.4,444.6L661.7,453.8L651.1,461.1L644.2,469.8L642.5,471.0L639.0,472.0L635.5,471.3L628.6,466.3L623.3,463.8L618.1,462.7L609.4,462.2L597.2,463.3L581.5,468.0L567.5,467.5L562.3,467.8L557.6,469.2L551.8,472.2L548.3,472.3L546.6,471.3L545.5,469.2L546.0,458.3L544.8,456.4L541.4,455.2L536.1,455.7L530.9,457.1L515.2,464.6L510.0,466.3L504.7,465.7L501.5,463.8L495.1,458.3L492.5,457.3L489.0,456.8L464.6,458.1L457.6,459.7L440.2,460.6L428.0,463.3L421.3,466.5L411.1,473.3L398.4,479.3L389.6,486.9L379.7,492.3L372.2,499.3L363.9,504.5L360.7,507.2L359.3,509.9L358.6,515.4L358.9,553.4L346.9,553.4L347.0,507.2L346.4,504.5L345.4,503.1L337.3,499.2L333.8,496.8L327.2,490.9L316.4,483.1L308.6,476.0L300.6,470.6L292.0,463.6L281.5,457.2L273.4,448.8L269.3,447.1L265.8,446.4L260.6,446.4L257.1,447.0L251.9,449.2L243.1,457.8L234.0,463.8L224.0,471.7L216.6,476.0L214.3,478.7L211.8,485.5L210.0,488.6L200.1,497.7L193.6,507.2L190.8,512.7L190.2,516.7L191.4,529.0L191.1,553.4L156.2,553.4L155.8,529.0L157.7,516.7L157.3,514.0L155.8,511.3L152.8,508.6L143.2,501.8L138.5,499.1L126.9,493.6L118.5,486.9L108.9,480.9L100.6,473.3L90.9,466.5L84.4,460.4L84.4,399.7L87.9,398.9L91.5,397.2L94.5,394.5L100.0,387.7L101.9,386.3L107.1,384.5L112.3,384.5L121.1,386.3L124.6,388.2L125.5,390.4L124.7,398.6L125.6,402.7L129.1,406.7L135.0,409.2L138.5,409.6L143.7,409.3L161.2,405.7L169.9,405.1L176.9,406.8L185.6,411.6L190.8,413.8L197.8,414.9L204.8,414.7L211.8,413.2L216.3,410.8L218.8,408.1L222.9,401.3L225.7,399.7L227.4,399.8L229.7,401.3L234.5,409.4L236.9,412.2L239.7,413.7L243.1,414.1L248.4,413.0L267.6,406.8L272.7,404.0L274.6,401.3L274.7,398.6L271.3,390.4L271.0,387.7L271.8,386.4L274.1,385.0L279.5,383.6ZM647.7,424.2L646.2,425.7L645.8,428.5L646.7,431.2L649.5,433.9L653.0,435.3L658.2,435.8L661.7,434.9L663.4,433.3L664.1,431.2L663.7,428.5L661.7,425.9L659.9,424.8L656.5,423.6L653.0,423.2L647.7,424.2ZM461.3,462.4L462.9,461.6L464.6,461.6L468.1,462.8L469.9,464.2L470.5,466.5L469.5,467.8L466.4,469.0L462.9,468.3L461.1,466.5L460.8,463.8L461.3,462.4Z"/><path fill="#9bc9e0" fill-rule="evenodd" d="M136.4,33.3L147.2,33.1L154.1,34.7L158.0,37.4L161.7,42.8L163.6,44.2L166.4,45.0L183.6,46.9L192.6,49.4L201.3,47.7L208.3,47.5L210.6,48.2L211.4,49.6L210.0,51.1L204.8,52.3L201.3,52.1L192.6,50.0L186.8,52.3L169.9,56.2L165.8,59.1L161.2,69.4L159.4,70.8L155.9,71.2L152.5,69.1L150.7,66.0L150.0,61.8L150.3,55.0L150.0,53.7L149.0,52.7L145.5,52.1L142.0,52.3L122.8,55.2L119.3,54.6L116.6,52.3L115.9,49.6L116.6,46.9L118.2,44.2L121.1,41.1L128.0,35.8L131.5,34.3L136.4,33.3ZM778.0,33.3L787.3,33.0L794.2,34.1L797.7,35.7L799.5,37.2L802.9,42.5L804.7,44.2L808.2,45.2L815.2,45.7L815.2,55.2L811.7,55.9L808.2,57.8L806.3,60.5L803.2,68.6L801.2,70.5L799.5,71.2L796.0,70.6L794.2,69.3L792.8,67.2L791.5,61.8L791.6,55.0L790.7,53.2L787.6,52.3L783.8,52.3L764.6,55.2L761.1,54.6L759.2,53.7L758.1,52.3L757.6,50.9L757.7,48.2L758.9,45.5L761.1,42.7L769.8,35.7L773.3,34.2L778.0,33.3ZM708.2,63.2L712.3,63.5L715.8,65.7L722.7,73.9L730.2,79.5L745.4,92.8L747.3,95.8L748.7,99.8L751.4,116.1L750.9,118.8L748.9,121.9L743.7,126.3L738.4,129.6L719.2,137.2L715.8,138.2L710.5,138.8L701.8,137.4L693.1,133.1L689.6,130.0L687.8,127.5L683.6,118.8L681.5,116.1L677.4,113.6L668.4,110.7L666.2,109.3L664.8,106.6L665.1,103.9L666.2,101.2L667.9,98.5L670.4,95.9L675.6,93.3L684.4,91.0L687.8,89.5L698.7,80.8L701.3,76.7L703.5,68.6L704.7,65.9L707.0,63.6L708.2,63.2ZM84.4,76.7L87.9,78.6L94.1,84.9L101.9,90.8L105.0,94.4L107.1,99.8L109.8,116.1L109.3,118.8L107.6,121.6L100.1,127.7L92.0,132.4L84.4,134.5L84.4,76.7ZM279.7,386.4L286.7,385.6L304.2,386.4L332.1,385.9L356.5,390.0L361.7,391.5L365.2,393.3L368.7,396.8L370.5,401.3L370.5,404.0L369.7,406.7L368.7,408.1L367.0,408.7L363.5,408.1L346.0,402.7L337.3,397.1L333.8,395.8L330.3,395.5L326.9,396.1L323.4,397.3L319.9,399.9L319.2,401.3L320.1,404.0L329.1,413.5L333.8,424.3L335.6,427.1L339.1,429.8L342.5,430.8L363.5,433.8L368.7,434.1L373.9,432.9L383.3,428.5L398.4,425.6L401.8,423.7L412.0,412.2L417.5,401.3L419.9,398.6L422.8,396.7L428.0,394.8L435.0,393.5L440.2,393.2L443.7,394.0L445.2,395.9L445.5,397.2L445.1,405.4L441.9,416.2L443.6,419.0L445.5,420.3L455.9,425.4L462.9,429.8L466.4,431.4L473.3,432.8L480.3,432.3L486.7,429.8L488.2,428.5L488.9,427.1L488.8,425.7L487.6,424.4L485.0,423.0L476.8,419.6L475.1,418.1L474.5,416.2L476.1,413.5L478.2,412.2L480.3,411.6L483.8,411.7L488.2,413.5L490.8,416.1L493.2,423.0L495.0,425.7L508.2,436.1L510.0,436.9L511.7,436.9L513.5,435.8L523.7,424.4L527.9,417.6L529.0,413.5L529.2,408.1L528.5,404.0L525.4,394.5L526.2,393.2L529.1,392.4L532.6,392.9L535.6,394.5L536.5,395.9L538.4,402.7L540.0,405.4L544.1,409.4L548.3,412.1L553.6,413.1L565.8,412.4L578.0,414.1L597.2,411.3L602.4,411.4L607.6,412.2L612.9,414.0L623.3,419.7L637.3,422.2L639.5,423.0L640.8,424.4L643.8,432.5L646.0,435.1L651.2,437.5L661.7,439.6L663.7,440.7L664.4,442.0L664.3,443.4L662.5,447.5L658.2,452.0L653.0,454.6L642.2,457.0L640.0,458.3L637.3,461.7L635.5,462.3L623.3,460.5L605.9,459.9L595.4,460.7L579.7,463.9L572.7,464.0L564.0,463.3L558.8,462.0L556.1,459.7L555.1,457.0L554.9,454.3L555.6,451.5L556.6,450.2L560.5,448.3L572.7,446.4L578.0,444.9L580.2,443.4L581.0,442.0L581.0,440.7L579.3,438.0L572.7,433.6L562.3,429.1L555.3,427.2L553.6,427.4L552.0,428.5L551.3,429.8L550.4,440.7L549.7,443.4L548.3,445.2L543.9,447.5L525.9,452.9L516.9,457.1L513.5,458.2L511.6,458.3L508.2,457.3L502.3,452.9L497.8,451.5L476.8,452.8L457.6,450.8L452.4,452.0L446.1,455.6L441.9,457.0L428.0,459.2L422.8,459.5L420.5,458.3L420.0,457.0L420.7,454.3L421.7,452.9L425.8,450.2L435.0,446.0L437.9,443.4L438.1,442.0L437.5,440.7L434.9,438.0L424.5,431.5L419.3,429.6L414.0,429.5L412.3,430.0L410.6,431.3L409.6,433.9L408.5,440.7L407.0,443.4L398.3,450.2L390.2,458.3L379.8,465.1L372.2,472.6L360.0,479.7L351.3,487.4L344.3,490.8L339.1,491.7L333.8,489.9L323.4,482.8L313.7,473.3L304.3,466.5L298.2,461.1L285.4,454.3L283.3,451.8L279.8,446.1L277.7,444.8L274.5,443.8L260.6,443.2L253.6,443.9L250.1,444.8L246.6,446.7L241.4,453.6L237.9,456.6L227.4,462.5L222.2,464.1L217.0,462.9L206.5,456.8L192.6,444.9L187.3,443.8L176.9,445.2L173.4,444.7L169.9,442.6L164.6,438.0L161.2,436.2L157.7,435.4L152.5,435.4L148.2,436.6L144.2,439.3L140.3,443.4L136.8,445.5L131.5,445.9L117.6,444.4L113.5,444.8L110.6,445.7L108.9,447.4L108.4,448.8L108.3,455.6L107.4,458.3L105.4,460.3L103.6,460.8L100.1,460.0L96.8,457.0L95.6,454.3L94.5,448.8L93.2,447.0L89.7,445.3L84.4,444.5L84.4,409.9L90.2,412.2L94.9,413.1L98.4,412.6L100.1,411.4L100.9,409.4L99.7,401.3L100.6,395.9L101.6,393.2L103.6,390.5L107.1,388.6L112.3,388.4L115.2,389.1L117.9,390.4L119.9,393.2L121.2,401.3L123.1,405.4L126.3,408.5L131.5,410.8L140.3,411.5L161.2,408.2L169.3,408.1L175.1,409.7L185.6,415.8L189.1,417.2L194.3,418.4L199.5,418.7L208.3,418.0L215.2,416.2L221.2,413.5L225.7,410.0L227.4,410.6L230.6,414.9L234.1,417.6L237.9,419.6L241.4,420.2L243.1,419.9L250.3,414.9L256.1,412.2L272.8,407.4L277.0,405.4L278.4,404.0L279.3,401.3L278.8,398.6L276.1,391.8L276.1,389.1L277.0,387.7L279.7,386.4ZM298.9,403.6L297.2,404.1L294.4,406.7L293.8,409.4L295.5,411.4L297.2,411.6L298.9,411.0L300.8,409.4L302.3,406.7L302.5,405.4L301.5,404.0L298.9,403.6ZM747.8,389.1L750.6,388.4L754.1,388.6L759.3,390.4L761.5,393.2L762.5,399.9L763.9,404.0L767.2,408.1L771.6,410.4L775.0,411.2L780.3,411.6L801.2,408.6L815.2,409.1L815.2,444.8L806.4,438.0L803.7,436.6L797.7,435.2L792.5,435.7L787.4,438.0L781.9,443.4L778.5,445.4L773.3,445.9L759.3,444.4L755.1,444.8L752.4,445.6L750.4,447.5L749.8,455.6L748.9,458.3L747.1,460.1L743.7,460.7L741.0,459.7L738.4,457.4L737.0,454.3L736.0,448.8L735.2,447.5L733.4,446.1L726.2,444.5L714.0,444.3L708.8,445.5L700.1,449.2L696.6,449.3L693.1,447.6L688.7,443.4L684.6,440.7L672.2,437.4L670.4,436.6L668.8,433.9L666.7,427.1L663.4,423.6L658.7,421.7L649.5,419.8L647.8,419.0L647.0,417.6L647.9,414.9L649.5,413.4L653.0,411.6L658.2,410.9L663.4,411.4L673.9,414.3L680.9,415.0L687.8,414.5L705.3,411.5L726.2,409.9L728.0,410.6L729.9,413.5L731.4,414.5L733.2,415.1L737.1,414.9L740.2,413.6L741.5,412.2L742.3,409.4L741.9,407.8L740.2,406.1L738.4,405.6L733.2,406.3L732.3,405.4L733.2,404.0L738.4,400.4L744.1,391.8L747.8,389.1Z"/><path fill="#6bacd1" fill-rule="evenodd" d="M137.3,37.4L143.7,37.1L149.0,38.5L150.9,40.1L151.2,41.4L150.9,42.8L149.0,44.9L146.1,46.9L131.3,52.3L126.3,53.3L122.8,53.3L120.3,52.3L119.3,51.2L119.0,49.6L119.3,47.9L120.8,45.5L122.8,43.7L129.8,39.7L137.3,37.4ZM778.9,37.4L783.8,37.0L789.0,37.8L791.1,38.7L792.5,40.1L792.5,42.8L790.0,45.5L787.3,47.2L772.7,52.3L764.6,53.2L762.8,52.8L761.1,51.5L760.6,49.6L761.1,47.5L764.6,43.6L771.6,39.6L778.9,37.4ZM157.6,56.4L159.4,56.3L161.2,57.1L161.7,59.1L161.7,61.8L161.2,64.6L159.4,68.0L157.7,69.1L155.9,69.1L154.2,68.2L152.6,65.9L152.3,61.8L154.2,58.0L157.6,56.4ZM796.0,57.7L797.7,56.8L801.2,56.7L802.9,58.6L802.7,64.5L801.2,67.7L799.5,69.0L797.7,69.1L796.0,68.4L794.2,65.9L793.8,63.2L794.2,60.5L796.0,57.7ZM708.3,65.9L710.5,65.5L714.0,67.2L721.0,75.8L728.0,80.8L733.7,86.3L743.2,93.0L745.9,97.1L746.9,103.9L744.8,116.1L743.4,118.8L740.8,121.6L734.9,124.8L723.9,128.4L714.5,133.8L710.5,134.9L707.0,135.2L700.1,134.1L693.1,130.8L690.4,128.4L688.5,125.6L683.6,114.8L680.9,112.8L670.1,109.3L668.3,108.0L667.2,105.3L668.3,101.2L670.4,98.2L673.9,95.8L679.1,94.5L682.6,94.5L685.8,95.8L687.7,98.5L690.7,105.3L693.1,107.0L696.6,107.7L700.1,107.6L704.1,106.6L710.5,102.4L719.2,98.1L720.8,95.8L719.6,93.0L710.6,83.5L707.0,80.6L705.3,78.0L704.8,74.0L705.3,70.0L706.6,67.2L708.3,65.9ZM84.4,79.5L86.4,80.8L91.4,86.3L101.9,93.3L104.3,97.1L105.4,103.9L103.6,114.9L102.6,117.5L100.7,120.2L97.4,122.9L93.2,125.2L84.4,127.5L84.4,79.5ZM283.7,390.4L286.7,389.6L292.0,390.2L294.7,391.8L294.7,393.2L290.8,395.9L286.7,396.4L285.0,395.8L283.3,393.9L282.8,391.8L283.7,390.4ZM347.5,393.2L353.0,392.9L360.0,394.5L363.8,397.2L365.3,399.9L365.2,401.7L363.5,403.3L361.7,403.6L356.5,402.9L351.1,401.3L348.6,399.9L346.0,397.2L345.6,394.5L347.5,393.2ZM429.5,395.9L436.7,395.1L440.2,395.6L442.0,396.6L443.2,398.6L443.6,401.3L442.9,405.4L441.8,408.1L438.5,412.2L435.0,414.4L431.5,415.6L424.5,416.1L419.3,414.8L418.1,413.5L417.3,410.8L417.7,406.7L419.0,402.7L420.9,399.9L422.8,398.4L429.5,395.9ZM160.2,410.8L166.4,411.0L171.6,412.4L175.7,414.9L182.1,420.8L185.6,422.8L189.1,424.0L197.8,425.4L204.8,425.7L210.0,425.0L218.7,422.7L224.0,422.6L228.3,424.4L229.7,425.7L230.5,428.5L228.8,431.2L218.6,438.0L213.5,444.9L211.8,446.0L210.0,446.3L206.5,444.9L199.3,438.0L194.3,434.9L190.8,434.0L178.6,432.7L166.4,430.0L147.2,429.7L126.3,431.9L84.4,434.0L84.4,424.1L98.4,424.1L107.1,422.7L110.6,420.9L112.3,419.4L117.6,411.9L119.3,411.6L129.8,413.8L136.8,414.1L160.2,410.8ZM268.9,410.8L276.3,410.6L279.8,411.8L281.6,413.5L286.7,421.3L290.2,423.3L293.7,423.9L298.9,423.2L302.4,421.7L312.9,413.2L314.6,412.5L318.1,412.7L321.6,414.6L323.4,416.5L324.8,420.3L324.8,423.0L323.8,425.7L321.3,428.5L316.4,431.2L311.2,432.7L302.4,433.1L283.3,431.3L269.3,433.1L265.8,432.8L253.6,424.4L252.5,423.0L251.7,420.3L252.6,417.6L255.4,414.9L261.7,412.2L268.9,410.8ZM758.6,412.2L761.1,411.5L769.8,413.6L776.8,414.2L801.2,411.1L808.2,411.8L815.2,413.4L815.2,431.4L804.7,429.8L790.7,429.6L768.1,432.0L747.1,432.7L728.0,434.1L710.5,430.9L698.3,429.3L694.2,429.8L686.1,433.6L679.1,433.9L675.6,433.0L673.9,431.9L672.2,429.8L668.8,423.0L666.9,421.1L663.4,419.6L654.7,417.8L652.7,416.2L652.9,414.9L654.7,413.7L659.9,413.3L665.2,414.8L668.7,416.7L672.2,417.9L686.1,418.8L689.6,418.4L700.5,414.9L710.5,414.0L715.0,414.9L717.5,416.2L722.7,421.9L726.2,424.2L729.7,425.0L734.9,425.1L743.7,423.9L750.6,421.3L754.1,418.3L758.6,412.2ZM593.9,414.9L600.7,413.9L605.9,414.7L611.6,417.6L616.3,422.9L618.1,424.1L630.3,424.7L635.5,426.0L638.0,428.5L640.8,435.1L642.5,437.5L646.0,439.4L656.3,442.0L657.8,443.4L658.2,444.8L657.9,446.1L656.5,448.1L654.7,449.4L649.5,450.5L644.2,449.2L635.5,444.5L630.3,444.4L628.4,446.1L627.6,451.5L626.3,454.3L624.7,455.6L619.8,457.0L590.2,457.1L574.5,459.8L569.3,459.6L565.1,458.3L563.6,457.0L563.2,455.6L563.8,454.3L565.8,452.8L571.0,451.7L581.5,451.1L585.0,450.3L589.8,447.5L598.9,440.1L602.4,438.8L612.2,438.0L614.8,436.6L615.2,435.3L614.8,432.5L614.1,431.2L612.4,429.8L607.6,429.8L597.2,432.8L591.9,433.1L586.7,432.2L583.2,431.0L579.7,429.0L577.7,427.1L577.1,425.7L577.3,424.4L578.3,423.0L587.7,417.6L593.9,414.9ZM531.9,424.4L534.4,423.4L536.3,424.4L539.9,432.5L540.8,438.0L539.8,440.7L537.9,442.4L534.4,443.9L529.1,444.4L526.5,443.4L525.1,442.0L524.0,439.3L524.0,435.3L525.6,431.2L527.4,428.5L531.9,424.4ZM437.6,425.7L442.0,425.7L445.4,426.8L448.7,428.5L455.9,433.9L461.1,435.5L473.3,436.4L489.0,435.5L492.5,435.8L494.3,436.5L496.0,438.0L496.7,439.3L496.8,442.0L494.7,444.8L492.3,446.1L483.8,448.7L475.1,449.2L466.4,447.5L456.7,443.4L448.9,436.9L437.8,431.2L435.6,428.5L435.7,427.1L437.6,425.7ZM385.9,435.3L389.6,434.4L393.1,435.3L394.9,438.0L394.9,439.4L393.4,442.0L386.1,450.5L382.7,453.8L363.5,464.5L361.7,464.8L360.0,464.1L358.9,459.7L357.6,457.0L349.5,450.2L347.8,447.2L347.3,444.8L347.6,442.0L349.5,439.6L351.3,438.8L354.8,438.6L367.0,440.4L372.2,440.4L379.2,438.8L385.9,435.3Z"/><path fill="#3f8ec0" fill-rule="evenodd" d="M128.4,45.5L131.5,44.7L133.3,44.8L134.4,45.5L133.7,46.9L131.5,48.4L128.0,49.7L125.5,49.6L124.9,48.2L126.0,46.9L128.4,45.5ZM770.2,45.5L773.3,44.8L775.9,45.5L775.2,46.9L773.4,48.2L769.9,49.6L767.5,49.6L766.6,48.2L767.7,46.9L770.2,45.5ZM709.8,70.0L711.2,70.0L712.8,71.3L713.8,74.0L713.6,75.4L712.3,76.0L710.5,75.4L709.3,74.0L708.7,71.3L709.8,70.0ZM731.1,91.7L733.2,91.2L738.4,92.7L741.9,95.1L743.8,98.5L744.0,102.5L743.2,105.3L740.2,110.0L735.9,114.8L731.7,117.5L728.0,118.6L715.8,119.2L714.0,121.1L712.0,125.6L710.2,128.4L708.6,129.7L705.4,131.1L701.8,131.3L698.3,130.8L694.8,129.4L691.3,126.6L689.6,124.0L688.4,120.2L687.9,116.1L688.8,113.4L691.3,112.3L694.8,112.2L701.8,112.8L708.8,114.3L712.3,114.1L718.3,108.0L726.3,102.5L728.2,99.8L731.1,91.7ZM89.9,93.0L91.4,92.2L94.9,92.4L98.4,93.7L100.1,95.0L102.2,98.5L102.5,101.2L102.1,103.9L100.1,107.7L93.2,115.0L89.7,117.2L84.4,118.8L84.4,102.9L86.9,99.8L89.9,93.0ZM673.5,98.5L677.4,97.3L679.1,97.4L681.8,98.5L683.0,99.8L684.1,102.5L684.4,105.3L683.7,108.0L680.9,109.2L677.4,109.2L672.6,108.0L670.8,106.6L670.1,105.3L670.2,102.5L671.8,99.8L673.5,98.5ZM430.5,397.2L436.7,397.0L440.0,398.6L441.2,401.3L440.2,405.9L437.0,409.4L433.2,411.2L428.0,411.8L423.5,410.8L421.0,408.1L420.7,405.4L421.5,402.7L424.5,399.4L430.5,397.2ZM151.3,414.9L157.7,414.1L162.9,414.6L166.8,416.2L168.2,419.0L167.8,420.3L166.5,421.7L164.7,422.7L161.2,423.7L155.9,424.4L149.0,424.1L143.7,423.1L140.1,421.7L138.9,420.3L139.5,419.0L141.9,417.6L151.3,414.9ZM261.2,414.9L267.6,413.6L272.8,414.6L274.7,416.2L275.3,417.6L275.0,420.3L274.2,421.7L271.0,423.6L265.8,424.3L262.3,423.6L258.9,421.7L257.6,419.0L259.0,416.2L261.2,414.9ZM791.9,414.9L797.7,414.3L802.9,414.9L805.8,416.2L807.3,417.6L807.8,419.0L807.6,420.3L806.5,421.7L804.1,423.0L796.0,424.4L790.7,424.2L784.5,423.0L781.5,421.7L780.5,420.3L781.0,419.0L783.1,417.6L791.9,414.9ZM472.5,442.0L476.8,441.1L482.2,442.0L481.7,443.4L476.8,444.4L472.8,443.4L472.5,442.0Z"/><g mask="url(#hc_a)"><use href="#cm" fill="none" stroke="#d05548" stroke-opacity="0.4" stroke-width="10.5" stroke-linejoin="round"/><use href="#cm" fill="none" stroke="#c03a3a" stroke-width="6.4" stroke-linejoin="round"/></g><use href="#bs" fill="#67001f"/><use href="#land"/></g></g>
<rect x="129.0" y="19.1" width="641.60" height="499.60" fill="none" stroke="#000" stroke-width="1.7"/>
<line x1="235.93" y1="518.7" x2="235.93" y2="512.7" stroke="#000" stroke-width="1.5"/>
<line x1="235.93" y1="19.1" x2="235.93" y2="25.1" stroke="#000" stroke-width="1.5"/>
<line x1="342.87" y1="518.7" x2="342.87" y2="512.7" stroke="#000" stroke-width="1.5"/>
<line x1="342.87" y1="19.1" x2="342.87" y2="25.1" stroke="#000" stroke-width="1.5"/>
<line x1="449.80" y1="518.7" x2="449.80" y2="512.7" stroke="#000" stroke-width="1.5"/>
<line x1="449.80" y1="19.1" x2="449.80" y2="25.1" stroke="#000" stroke-width="1.5"/>
<line x1="556.73" y1="518.7" x2="556.73" y2="512.7" stroke="#000" stroke-width="1.5"/>
<line x1="556.73" y1="19.1" x2="556.73" y2="25.1" stroke="#000" stroke-width="1.5"/>
<line x1="663.67" y1="518.7" x2="663.67" y2="512.7" stroke="#000" stroke-width="1.5"/>
<line x1="663.67" y1="19.1" x2="663.67" y2="25.1" stroke="#000" stroke-width="1.5"/>
<line x1="129.0" y1="102.37" x2="135.0" y2="102.37" stroke="#000" stroke-width="1.5"/>
<line x1="770.6" y1="102.37" x2="764.6" y2="102.37" stroke="#000" stroke-width="1.5"/>
<line x1="129.0" y1="185.63" x2="135.0" y2="185.63" stroke="#000" stroke-width="1.5"/>
<line x1="770.6" y1="185.63" x2="764.6" y2="185.63" stroke="#000" stroke-width="1.5"/>
<line x1="129.0" y1="268.90" x2="135.0" y2="268.90" stroke="#000" stroke-width="1.5"/>
<line x1="770.6" y1="268.90" x2="764.6" y2="268.90" stroke="#000" stroke-width="1.5"/>
<line x1="129.0" y1="352.17" x2="135.0" y2="352.17" stroke="#000" stroke-width="1.5"/>
<line x1="770.6" y1="352.17" x2="764.6" y2="352.17" stroke="#000" stroke-width="1.5"/>
<line x1="129.0" y1="435.43" x2="135.0" y2="435.43" stroke="#000" stroke-width="1.5"/>
<line x1="770.6" y1="435.43" x2="764.6" y2="435.43" stroke="#000" stroke-width="1.5"/>
<text x="127.80" y="558.30" font-size="29.2" text-anchor="middle" font-family="Liberation Sans, sans-serif">0</text>
<text x="233.23" y="558.30" font-size="29.2" text-anchor="middle" font-family="Liberation Sans, sans-serif">60</text>
<text x="339.37" y="558.30" font-size="29.2" text-anchor="middle" font-family="Liberation Sans, sans-serif">120</text>
<text x="446.30" y="558.30" font-size="29.2" text-anchor="middle" font-family="Liberation Sans, sans-serif">180</text>
<text x="553.23" y="558.30" font-size="29.2" text-anchor="middle" font-family="Liberation Sans, sans-serif">240</text>
<text x="660.17" y="558.30" font-size="29.2" text-anchor="middle" font-family="Liberation Sans, sans-serif">300</text>
<text x="767.10" y="558.30" font-size="29.2" text-anchor="middle" font-family="Liberation Sans, sans-serif">360</text>
<text x="113.9" y="30.65" font-size="29.2" text-anchor="end" font-family="Liberation Sans, sans-serif">90</text>
<text x="113.9" y="113.92" font-size="29.2" text-anchor="end" font-family="Liberation Sans, sans-serif">60</text>
<text x="113.9" y="197.18" font-size="29.2" text-anchor="end" font-family="Liberation Sans, sans-serif">30</text>
<text x="113.9" y="280.45" font-size="29.2" text-anchor="end" font-family="Liberation Sans, sans-serif">0</text>
<text x="113.9" y="363.72" font-size="29.2" text-anchor="end" font-family="Liberation Sans, sans-serif">–30</text>
<text x="113.9" y="446.98" font-size="29.2" text-anchor="end" font-family="Liberation Sans, sans-serif">–60</text>
<text x="113.9" y="530.25" font-size="29.2" text-anchor="end" font-family="Liberation Sans, sans-serif">–90</text>
<text x="450.2" y="601.80" font-size="29.2" text-anchor="middle" font-family="Liberation Sans, sans-serif">Longitude</text>
<text transform="translate(30.3,268.20) rotate(-90)" x="0" y="0" font-size="29.2" text-anchor="middle" font-family="Liberation Sans, sans-serif">Latitude</text>
<text x="-0.5" y="22.70" font-size="42" font-weight="bold" font-family="Liberation Sans, sans-serif">a</text>
<rect x="813.6" y="22.20" width="49.80" height="35.89" fill="#67001f"/>
<rect x="813.6" y="57.49" width="49.80" height="35.89" fill="#9e0328"/>
<rect x="813.6" y="92.79" width="49.80" height="35.89" fill="#ba2832"/>
<rect x="813.6" y="128.08" width="49.80" height="35.89" fill="#d05548"/>
<rect x="813.6" y="163.37" width="49.80" height="35.89" fill="#e48066"/>
<rect x="813.6" y="198.66" width="49.80" height="35.89" fill="#f5aa89"/>
<rect x="813.6" y="233.96" width="49.80" height="35.89" fill="#fbccb4"/>
<rect x="813.6" y="269.25" width="49.80" height="35.89" fill="#fbe5d8"/>
<rect x="813.6" y="304.54" width="49.80" height="35.89" fill="#f7f6f6"/>
<rect x="813.6" y="339.84" width="49.80" height="35.89" fill="#e0ecf3"/>
<rect x="813.6" y="375.13" width="49.80" height="35.89" fill="#c2ddec"/>
<rect x="813.6" y="410.42" width="49.80" height="35.89" fill="#9bc9e0"/>
<rect x="813.6" y="445.71" width="49.80" height="35.89" fill="#6bacd1"/>
<rect x="813.6" y="481.01" width="49.80" height="35.89" fill="#3f8ec0"/>
<line x1="857.1" y1="57.49" x2="863.4" y2="57.49" stroke="#000" stroke-width="2.6"/>
<line x1="857.1" y1="163.37" x2="863.4" y2="163.37" stroke="#000" stroke-width="2.6"/>
<line x1="857.1" y1="269.25" x2="863.4" y2="269.25" stroke="#000" stroke-width="2.6"/>
<line x1="857.1" y1="375.13" x2="863.4" y2="375.13" stroke="#000" stroke-width="2.6"/>
<line x1="857.1" y1="481.01" x2="863.4" y2="481.01" stroke="#000" stroke-width="2.6"/>
<rect x="813.6" y="22.2" width="49.80" height="494.10" fill="none" stroke="#000" stroke-width="2.9"/>
<text x="877.5" y="65.79" font-size="29.2" font-family="Liberation Sans, sans-serif">10</text>
<text x="877.5" y="171.67" font-size="29.2" font-family="Liberation Sans, sans-serif">1</text>
<text x="877.5" y="277.55" font-size="29.2" font-family="Liberation Sans, sans-serif">0.1</text>
<text x="878.8" y="383.43" font-size="29.2" font-family="Liberation Sans, sans-serif">–0.1</text>
<text x="878.8" y="489.31" font-size="29.2" font-family="Liberation Sans, sans-serif">–1</text>
<text transform="translate(979.5,268.30) rotate(-90)" font-size="29.2" text-anchor="middle" font-family="Liberation Sans, sans-serif">Diffusive CH<tspan font-size="21" dy="8.5">4</tspan><tspan dy="-8.5"> flux (mmol m</tspan><tspan font-size="21" dy="-12">−2</tspan><tspan dy="12"> yr</tspan><tspan font-size="21" dy="-12">−1</tspan><tspan dy="12">)</tspan></text>
<g transform="translate(0,677.5)"><g clip-path="url(#mc)"><rect x="93.4" y="5.2" width="712.9" height="527.4" fill="#67001f"/><path fill="#9e0328" fill-rule="evenodd" d="M84.4,-15.6L815.2,-15.6L815.2,97.0L811.9,98.5L810.3,101.2L810.7,102.5L811.8,103.9L815.2,105.3L815.2,121.2L801.2,118.6L799.0,118.8L798.7,120.2L799.7,121.6L806.4,127.3L809.1,131.1L810.7,135.1L812.5,144.6L815.2,148.7L815.2,553.4L84.4,553.4L84.4,-15.6ZM169.9,96.7L168.2,97.2L166.4,98.5L165.6,101.2L166.4,102.9L168.2,104.3L171.6,105.3L175.1,105.1L176.9,104.0L177.3,101.2L175.9,98.5L173.4,96.9L169.9,96.7ZM213.5,107.9L192.6,109.1L187.3,109.9L185.4,110.7L184.0,112.1L179.6,118.8L175.1,120.9L168.2,121.3L159.4,119.9L157.7,120.2L164.7,126.9L166.9,129.7L169.3,135.1L170.5,143.3L171.4,146.0L173.4,148.5L176.9,150.1L180.4,150.3L183.8,149.8L196.1,144.7L203.0,143.5L204.8,143.9L206.5,145.6L210.0,152.1L211.8,153.5L213.5,153.7L221.9,148.7L232.7,144.8L241.4,139.7L253.6,137.5L255.8,136.5L256.9,135.1L256.5,131.1L253.2,125.6L249.5,122.9L239.7,118.7L237.9,117.2L234.0,112.1L230.9,109.5L227.4,108.2L224.0,107.7L213.5,107.9ZM248.4,66.9L245.4,68.6L244.7,70.0L244.9,71.5L246.6,73.4L250.1,74.8L253.6,75.3L257.1,75.2L259.7,74.0L260.4,72.7L260.4,70.0L258.7,67.2L253.6,66.0L248.4,66.9ZM651.2,402.7L646.0,404.3L642.5,407.5L641.7,409.4L641.9,412.2L644.2,414.8L647.7,415.8L651.2,415.4L653.0,414.7L655.5,412.2L656.6,409.4L656.5,405.4L654.7,403.3L651.2,402.7ZM215.0,127.0L220.5,125.9L224.0,125.8L227.1,127.0L227.8,128.4L227.7,129.7L225.7,132.0L220.5,134.3L211.8,137.2L210.0,137.3L208.4,136.5L207.3,133.8L208.1,131.1L211.6,128.4L215.0,127.0Z"/><path fill="#ba2832" fill-rule="evenodd" d="M84.4,-15.6L815.2,-15.6L815.2,94.3L808.2,95.8L805.3,97.1L799.5,102.0L796.0,103.2L790.7,102.3L780.3,98.6L775.0,98.6L772.2,99.8L770.9,101.2L769.5,103.9L768.8,108.0L770.0,112.1L772.3,114.8L775.7,117.5L784.1,122.9L797.7,129.7L802.9,133.6L805.9,137.9L810.1,148.7L812.8,151.4L815.2,152.6L815.2,553.4L84.4,553.4L84.4,-15.6ZM166.4,94.4L162.9,95.8L161.1,97.1L157.7,101.4L155.9,102.8L154.2,103.5L149.0,103.0L137.8,98.5L135.0,98.1L131.5,98.5L129.5,99.8L127.8,102.5L126.9,106.6L127.5,110.7L130.6,114.8L136.0,118.8L142.5,122.9L155.9,129.6L161.2,133.3L164.3,137.9L167.6,147.4L169.5,150.1L171.2,151.4L176.9,153.4L192.6,154.5L196.9,156.9L212.7,175.9L214.6,180.0L216.4,189.5L217.9,192.2L220.5,194.2L224.0,195.3L227.4,195.6L230.9,195.1L234.7,193.5L243.1,185.7L253.6,178.3L271.0,163.6L274.5,161.1L285.2,155.5L289.0,151.4L289.5,150.1L289.4,147.4L287.9,144.6L279.2,137.9L270.5,128.4L258.8,120.9L243.1,115.2L233.6,108.0L229.5,106.6L225.7,106.1L201.3,106.8L189.1,105.8L184.7,103.9L179.0,97.1L176.9,95.6L171.6,94.1L166.4,94.4ZM269.3,54.6L267.4,56.4L265.5,60.5L264.1,62.2L250.1,64.8L246.6,65.8L244.1,67.2L242.4,70.0L242.7,72.7L245.6,75.4L255.4,79.0L258.3,80.8L264.1,90.1L273.7,98.5L275.3,101.2L278.8,110.7L280.5,113.4L283.3,115.9L286.7,117.3L290.2,117.7L295.5,116.9L298.9,115.5L303.9,112.1L306.8,108.0L307.4,103.9L305.9,98.5L304.3,95.8L301.7,93.0L291.9,86.3L283.3,78.6L279.8,76.5L271.0,72.7L269.1,71.3L267.4,68.6L267.1,65.9L267.6,64.5L269.7,63.2L276.3,60.5L277.8,59.1L278.4,57.7L278.0,56.4L276.5,55.0L274.5,54.3L271.0,54.0L269.3,54.6ZM318.1,227.4L314.6,228.8L311.5,231.6L310.2,234.3L309.5,238.3L309.8,245.1L311.2,251.8L312.9,254.3L316.4,255.6L321.6,254.6L326.9,251.2L329.6,247.9L330.8,243.8L329.9,235.6L328.6,231.6L326.9,228.9L323.4,227.0L318.1,227.4ZM363.5,285.9L360.0,286.9L357.5,288.6L356.0,291.3L356.3,295.4L358.2,301.0L361.7,306.4L365.2,308.6L368.7,308.8L370.5,308.0L372.2,306.4L373.9,303.2L375.2,298.1L375.1,292.7L373.9,289.8L370.5,286.7L367.0,285.7L363.5,285.9ZM473.3,100.6L471.6,101.3L468.5,103.9L467.7,105.3L468.1,107.0L471.6,107.6L474.7,106.6L476.3,105.3L477.1,103.9L476.8,101.4L475.1,100.5L473.3,100.6ZM658.2,125.4L653.0,127.2L648.8,129.7L647.0,132.4L647.0,135.1L647.5,136.5L650.9,139.2L656.5,140.6L663.1,140.6L667.1,139.2L669.7,136.5L670.4,133.9L670.1,131.1L668.9,128.4L666.9,126.3L665.2,125.4L661.7,124.9L658.2,125.4ZM328.6,270.0L326.9,271.2L325.7,273.7L326.1,276.4L328.1,279.1L330.3,280.7L333.8,281.8L337.3,281.7L339.6,280.4L340.5,279.1L340.5,276.4L338.0,272.3L333.8,270.0L330.3,269.6L328.6,270.0ZM653.0,398.3L646.0,400.8L642.5,403.0L640.2,405.4L639.0,408.1L639.0,411.5L640.8,414.9L642.5,416.2L646.0,417.3L651.2,417.1L654.7,415.6L657.8,412.2L659.5,406.7L659.6,401.3L657.8,398.6L656.5,398.1L653.0,398.3Z"/><path fill="#d05548" fill-rule="evenodd" d="M84.4,-15.6L815.2,-15.6L815.2,92.6L806.4,93.4L796.0,95.6L790.7,95.4L775.0,92.1L771.6,90.3L764.6,84.1L762.8,83.4L759.3,83.6L756.9,84.9L754.2,87.6L752.6,90.3L751.9,93.0L752.3,97.1L755.6,103.9L755.8,106.6L755.3,109.3L753.4,112.1L747.1,117.9L746.0,121.6L747.1,124.2L748.9,125.8L762.8,133.1L766.3,132.8L773.3,129.1L778.5,128.4L785.5,129.6L794.2,132.8L798.1,135.1L801.2,138.2L808.2,151.5L811.7,154.1L815.2,155.3L815.2,553.4L84.4,553.4L84.4,-15.6ZM269.3,50.5L265.5,52.3L261.9,57.7L259.1,60.5L256.2,61.8L244.9,65.3L242.0,67.2L240.4,70.0L240.5,72.7L242.2,75.4L244.9,77.2L252.5,80.8L254.2,82.2L255.9,84.9L258.3,94.4L262.1,101.2L263.3,105.3L263.3,108.0L262.2,110.7L258.8,113.1L253.6,113.8L248.4,113.0L244.9,111.7L237.0,106.6L230.9,105.0L224.0,104.6L203.0,105.2L192.6,104.2L187.3,102.1L178.8,94.4L173.4,92.6L164.7,92.4L161.2,93.1L154.2,96.0L149.0,96.1L133.0,91.7L129.8,89.9L124.3,84.9L121.7,83.5L119.3,83.3L115.8,84.6L114.1,86.0L111.6,90.3L111.3,94.4L114.6,102.5L114.6,108.0L112.4,112.1L105.4,118.7L104.8,120.2L105.0,122.9L107.5,125.6L121.1,133.1L124.6,132.9L131.5,129.2L136.8,128.4L142.0,129.1L147.2,130.6L155.9,134.7L160.3,139.2L164.7,148.8L168.0,152.8L173.4,155.2L189.1,158.5L193.1,160.9L197.1,165.0L202.4,171.8L205.8,178.6L206.6,184.0L206.5,192.2L207.2,194.9L209.7,197.6L213.5,199.2L218.7,199.9L227.4,200.0L234.4,199.2L237.9,198.1L241.4,196.0L248.4,189.4L258.8,182.1L271.0,171.1L276.3,167.6L281.5,165.3L286.7,164.0L293.7,163.1L296.9,163.7L297.2,165.0L294.8,170.4L293.8,174.5L293.6,178.6L294.6,182.7L297.2,187.3L307.0,196.2L311.6,201.7L313.8,205.8L314.9,211.2L314.6,213.9L313.2,216.6L305.9,222.5L304.1,224.8L303.0,227.5L302.4,232.9L302.7,246.5L300.9,254.6L301.1,258.7L302.4,260.8L304.2,262.1L312.9,266.2L315.5,268.2L317.3,270.9L320.9,279.1L324.9,283.2L330.6,285.9L344.3,288.8L347.8,291.3L351.3,296.8L356.5,309.4L360.0,313.4L363.5,315.3L367.0,316.2L372.2,315.7L376.1,313.0L378.3,307.6L380.1,294.0L379.5,289.9L378.1,287.2L373.9,283.2L368.7,281.1L363.5,280.7L354.8,281.3L351.3,280.4L349.5,278.9L343.4,269.6L340.8,267.0L334.9,262.8L332.9,260.1L333.4,257.4L337.1,250.6L338.3,246.5L337.8,231.6L339.3,216.6L339.3,208.5L338.4,204.4L337.3,201.8L335.6,199.5L328.5,193.5L326.3,189.5L324.8,184.0L325.1,180.9L326.9,180.1L328.6,180.2L333.8,182.3L340.8,186.7L344.3,188.3L347.8,188.5L351.3,187.1L355.2,182.7L358.8,175.9L359.6,170.4L358.4,165.0L356.5,161.8L353.2,158.2L340.1,147.4L323.9,135.1L311.7,128.4L309.4,126.4L308.4,124.3L308.9,121.6L314.2,113.4L316.1,109.3L316.5,106.6L316.0,102.5L313.7,97.1L309.9,91.7L296.8,80.8L287.5,70.0L287.0,68.6L287.4,67.2L292.7,61.8L293.8,59.1L293.6,57.7L290.9,55.0L287.7,53.7L276.3,50.8L269.3,50.5ZM377.4,56.3L375.5,57.7L376.5,59.1L379.2,59.8L382.7,59.6L383.8,59.1L384.3,57.7L382.7,56.3L377.4,56.3ZM469.9,93.0L459.4,100.3L448.9,104.4L447.1,106.6L447.7,109.3L450.7,111.6L454.2,112.9L462.9,113.9L468.1,113.6L473.3,112.6L476.8,111.4L480.3,109.3L483.0,106.6L485.1,102.5L485.7,98.5L484.8,95.8L482.1,93.1L478.6,91.9L473.3,91.9L469.9,93.0ZM602.4,70.8L600.6,72.7L600.9,74.0L602.2,75.4L605.9,76.1L607.7,75.4L608.2,74.0L607.9,72.7L606.6,71.3L604.1,70.5L602.4,70.8ZM653.0,120.2L640.8,121.7L637.3,122.9L635.8,124.3L634.9,127.0L635.0,129.7L636.7,136.5L639.0,141.2L640.8,142.6L644.2,143.7L661.7,145.1L667.2,144.6L670.4,143.4L672.2,142.0L674.8,137.9L675.2,133.8L673.7,128.4L670.4,123.1L666.9,120.5L663.4,119.4L659.9,119.2L653.0,120.2ZM666.9,378.1L663.9,380.9L658.9,387.7L656.5,390.2L642.5,398.7L638.1,402.7L636.4,406.7L636.5,410.8L638.2,414.9L640.8,417.1L644.2,418.5L649.5,418.8L653.0,418.0L656.3,416.2L659.6,412.2L663.4,403.0L665.2,400.2L674.7,391.8L676.1,389.1L676.6,386.4L676.6,383.6L675.6,380.4L673.9,378.1L672.2,377.1L670.4,376.9L666.9,378.1Z"/><path fill="#e48066" fill-rule="evenodd" d="M84.4,-15.6L815.2,-15.6L815.2,91.1L790.7,90.8L782.0,90.1L778.5,89.3L775.0,87.7L768.1,82.2L765.2,80.8L761.1,80.3L757.6,81.0L755.1,82.2L751.3,84.9L747.0,90.3L745.8,95.8L747.2,105.3L747.2,108.0L746.1,110.7L742.7,116.1L741.6,120.2L742.4,124.3L744.4,127.0L752.4,132.7L761.1,139.9L762.8,140.4L766.3,140.2L769.8,139.0L776.8,135.3L780.3,134.3L783.8,134.2L789.0,135.1L794.2,137.3L797.7,140.1L800.1,143.3L804.1,151.4L806.4,154.3L809.9,156.5L815.2,157.7L815.2,199.3L805.2,207.1L794.7,213.9L792.4,216.6L791.3,220.7L792.7,224.8L796.0,228.2L808.8,237.0L815.2,240.0L815.2,298.7L811.7,301.2L803.9,309.0L792.3,317.1L789.2,321.2L788.3,325.3L789.3,329.3L791.8,333.4L796.0,337.2L799.5,338.7L802.9,338.3L804.7,337.5L815.2,326.5L815.2,553.4L84.4,553.4L84.4,-15.6ZM267.6,48.0L264.1,49.6L260.0,56.4L257.5,59.1L253.6,61.2L243.1,64.9L240.2,67.2L238.7,70.0L238.6,72.7L239.7,75.5L242.5,78.1L249.6,82.2L250.9,83.5L252.1,86.3L252.1,90.3L250.4,97.1L250.6,103.9L250.1,105.3L248.4,106.0L246.6,105.9L238.7,103.9L230.9,103.2L206.5,103.9L196.1,103.1L192.6,102.3L189.1,100.6L182.0,94.4L176.9,91.9L166.4,90.5L150.7,91.2L140.3,90.2L133.3,87.6L124.6,81.2L119.3,80.3L115.8,81.1L111.3,83.5L108.4,86.3L105.7,90.3L104.5,95.8L106.1,105.3L106.0,108.0L100.4,117.5L99.8,120.2L100.1,123.0L101.5,125.6L103.6,127.7L110.6,132.5L117.6,138.8L121.1,140.4L126.3,139.8L135.0,135.4L138.5,134.3L145.5,134.7L152.5,137.3L155.2,139.2L157.6,141.9L162.5,151.4L164.8,154.2L169.9,156.8L182.1,159.6L187.3,161.7L192.9,166.4L198.1,173.2L199.8,177.2L200.2,180.0L199.6,182.7L197.8,185.4L194.3,187.8L186.3,190.8L181.0,193.5L164.7,206.2L154.2,213.0L151.8,215.3L150.1,218.0L149.8,222.1L152.5,226.4L166.4,237.4L171.6,239.8L176.9,239.4L183.8,235.6L208.3,214.9L217.0,206.9L224.0,204.5L239.7,203.7L244.9,202.3L247.4,200.3L253.5,193.5L264.1,185.9L270.7,178.6L273.9,175.9L276.3,174.4L279.8,173.2L283.3,173.8L285.2,175.9L286.7,180.0L288.6,196.2L288.4,197.6L287.3,199.0L283.3,200.9L281.5,202.4L280.5,205.8L281.5,208.6L286.7,212.6L287.9,213.9L289.0,216.6L292.6,235.6L292.9,241.1L291.4,253.3L292.0,257.4L293.7,261.4L297.2,264.8L306.5,269.6L310.2,272.3L312.4,275.0L317.0,283.2L319.9,286.1L325.1,288.6L339.1,292.0L344.7,295.4L347.0,298.1L349.1,302.2L352.2,314.4L355.5,318.5L361.7,321.7L368.7,323.8L373.9,323.8L379.2,322.3L384.4,319.0L385.9,317.1L386.2,315.7L384.1,304.9L384.7,291.3L382.9,285.9L379.2,281.4L373.9,278.0L368.7,276.3L358.2,274.9L354.8,273.4L351.3,269.8L346.6,262.8L345.2,260.1L344.8,257.4L346.4,246.5L345.9,234.3L346.8,222.1L346.4,211.2L346.9,205.8L348.6,201.7L356.1,193.5L366.3,177.2L368.0,173.2L368.8,169.1L368.8,166.4L368.1,162.3L364.9,156.9L359.4,151.4L346.0,140.2L327.7,127.0L323.7,122.9L323.2,121.6L323.3,118.8L327.9,106.6L328.3,102.5L327.9,99.8L324.5,94.4L307.7,78.3L305.5,74.0L305.4,71.3L306.3,68.6L312.4,60.5L312.7,57.7L311.9,56.4L308.0,53.7L298.9,50.7L272.8,47.8L267.6,48.0ZM373.9,50.7L359.9,53.7L356.4,55.0L354.4,56.4L353.5,57.7L353.9,60.5L356.5,63.0L362.6,67.2L363.9,68.6L364.7,71.3L364.3,72.7L361.8,75.4L353.2,80.8L350.2,83.5L347.5,89.0L346.8,93.0L347.0,95.8L348.9,99.8L351.3,101.7L354.8,102.4L368.7,102.4L372.2,103.2L374.7,105.3L377.4,110.7L379.2,112.5L382.7,114.2L387.9,114.1L391.4,112.3L393.0,110.7L393.6,109.3L393.7,106.6L391.8,103.9L389.8,102.5L381.9,99.8L380.0,98.5L379.2,95.8L380.7,91.7L383.7,89.0L387.9,87.1L406.2,83.5L414.9,80.8L416.7,79.5L417.4,78.1L417.3,74.0L415.7,70.0L412.3,66.2L400.1,60.5L393.1,54.4L389.7,52.3L382.7,50.6L373.9,50.7ZM419.3,227.1L415.8,229.8L413.1,234.3L411.2,239.7L411.1,243.8L412.8,247.9L415.8,250.5L419.3,251.8L422.8,251.9L426.3,250.4L428.7,247.9L434.0,238.3L435.1,234.3L433.2,231.2L428.0,228.0L422.8,226.6L419.3,227.1ZM457.6,72.6L452.0,74.0L447.4,76.7L437.0,90.3L435.3,95.8L434.7,101.2L435.3,106.6L437.0,110.7L440.2,114.1L443.7,116.1L448.9,117.7L454.2,118.2L461.1,118.0L469.9,116.8L476.8,114.8L482.1,112.2L487.2,108.0L491.3,101.2L492.5,95.8L492.2,93.0L491.1,90.3L487.3,87.1L476.8,83.8L473.7,82.2L471.9,79.5L470.9,74.0L469.9,72.5L466.4,71.6L457.6,72.6ZM548.3,223.1L544.8,224.7L543.1,226.1L541.6,228.8L541.4,232.9L542.7,235.6L544.8,237.5L548.3,238.5L551.8,238.2L555.3,237.0L559.0,234.3L562.0,230.2L562.8,226.1L562.2,224.8L560.7,223.4L558.8,222.7L553.6,222.2L548.3,223.1ZM602.4,65.7L597.2,67.3L595.3,68.6L593.2,71.3L591.8,75.4L591.0,83.5L588.4,90.1L587.6,95.8L587.8,105.3L591.6,118.8L593.2,131.1L594.5,135.1L597.2,139.3L600.7,142.6L604.1,144.8L616.3,148.9L619.5,151.4L625.0,158.2L627.5,159.6L630.3,160.2L633.8,159.9L637.3,158.3L644.2,151.7L647.7,149.8L654.7,148.6L665.2,149.5L668.7,149.4L672.2,148.0L673.9,146.6L677.6,141.9L678.9,139.2L679.4,136.5L677.5,129.7L674.8,124.3L672.2,120.3L668.7,117.1L663.4,114.5L646.0,111.3L640.8,109.5L638.1,108.0L636.7,106.6L635.3,103.9L634.1,95.8L632.3,90.3L628.2,82.2L624.4,76.7L618.6,71.3L612.9,67.5L607.6,65.9L602.4,65.7ZM173.4,298.7L168.2,301.9L159.5,310.3L151.2,317.1L148.8,319.8L147.4,322.5L147.1,326.6L149.0,331.4L152.5,335.6L157.7,338.9L161.2,339.3L162.9,338.8L166.4,336.0L175.1,324.0L180.4,311.7L182.2,306.2L182.0,302.2L180.4,299.8L178.6,298.8L176.9,298.4L173.4,298.7ZM380.9,239.3L377.0,241.1L375.2,243.8L375.3,246.5L375.9,247.9L378.9,250.6L382.7,252.2L387.9,252.7L391.4,251.8L394.8,249.2L395.5,247.9L395.7,245.1L393.1,241.7L387.9,239.4L380.9,239.3ZM633.8,211.2L630.3,212.7L627.6,216.6L626.9,220.7L627.5,223.4L628.6,225.4L632.0,227.7L637.3,228.3L642.5,227.3L646.0,225.4L647.5,223.4L647.7,220.7L645.3,216.6L642.5,214.2L639.0,212.1L633.8,211.2ZM661.7,256.0L658.2,258.2L651.2,265.8L648.8,269.6L647.9,272.3L647.8,276.4L648.8,279.1L651.2,282.0L654.7,283.9L659.9,284.2L663.4,283.3L666.2,281.8L679.8,269.6L682.0,266.9L683.2,264.1L683.5,261.4L682.6,258.7L679.1,256.1L670.4,254.9L665.2,255.1L661.7,256.0ZM665.2,369.7L660.2,372.8L652.9,382.3L637.2,395.9L633.9,399.9L633.4,405.4L634.8,412.2L637.1,416.2L640.8,418.9L644.2,419.9L649.5,420.0L653.0,419.3L656.5,417.7L659.9,414.4L665.0,405.4L666.9,403.0L677.6,395.9L680.6,391.8L681.8,387.7L682.0,382.3L681.3,378.2L679.4,374.1L677.4,371.8L673.9,369.8L670.4,369.1L665.2,369.7ZM292.5,203.0L293.7,202.5L295.5,202.8L297.2,203.9L298.2,205.8L297.9,207.1L295.5,208.4L293.7,208.0L292.1,205.8L292.5,203.0Z"/><path fill="#f5aa89" fill-rule="evenodd" d="M84.4,-15.6L815.2,-15.6L815.2,58.5L814.1,61.8L815.2,65.2L815.2,89.7L806.4,89.0L796.0,87.1L782.0,87.0L776.8,85.2L769.8,80.2L766.3,78.7L761.1,78.1L755.4,79.5L750.0,82.2L746.3,84.9L743.1,89.0L742.3,93.0L742.2,106.6L739.1,114.8L738.4,120.2L739.1,124.3L741.4,128.4L749.9,135.1L755.9,142.3L759.3,145.2L762.8,145.9L766.3,145.5L778.5,140.0L782.0,139.0L785.5,139.0L789.0,139.6L792.5,141.1L796.0,144.1L798.1,147.4L801.2,154.3L803.1,156.9L804.9,158.2L808.2,159.4L815.2,160.2L815.2,190.6L811.7,192.3L801.2,201.4L790.8,207.1L787.0,209.8L784.5,212.5L782.9,215.3L781.5,220.7L781.7,223.4L783.2,227.5L787.3,232.4L804.7,244.7L815.2,250.7L815.2,289.7L809.9,294.0L798.3,306.2L784.3,317.1L781.2,321.2L780.7,323.9L782.5,330.7L791.8,345.6L793.4,351.1L793.3,353.8L792.1,357.8L786.8,367.4L786.3,370.1L786.8,371.4L788.2,372.8L790.7,374.0L796.0,375.2L815.2,376.4L815.2,553.4L84.4,553.4L84.4,383.7L88.1,382.3L91.4,380.1L93.2,378.2L94.3,375.5L93.2,372.9L91.3,371.4L84.4,368.4L84.4,287.0L86.0,285.9L86.7,284.5L86.2,282.5L84.4,281.1L84.4,256.4L87.9,255.5L91.4,253.4L92.6,251.9L93.4,249.2L92.9,246.5L91.3,243.8L88.2,241.1L84.4,239.4L84.4,83.4L88.0,82.2L89.2,80.8L89.5,79.5L88.0,75.4L84.4,71.8L84.4,-15.6ZM100.1,46.4L96.7,48.2L95.1,50.9L95.4,53.7L96.7,55.0L98.4,55.8L101.9,56.2L105.4,55.5L108.7,53.7L109.7,50.9L108.1,48.2L103.6,46.2L100.1,46.4ZM169.9,54.9L168.5,56.4L168.4,57.7L169.1,61.8L169.9,63.6L171.6,65.3L173.4,65.3L174.5,63.2L173.7,59.1L171.6,55.9L169.9,54.9ZM265.8,45.4L262.3,47.2L258.7,55.0L256.5,57.7L252.1,60.5L241.8,64.5L239.7,66.1L237.7,68.6L236.8,72.7L237.9,76.7L239.7,78.7L246.5,83.5L247.4,84.9L247.9,87.6L246.7,91.7L243.4,97.1L241.4,99.0L237.9,100.5L230.9,101.4L211.8,102.6L197.8,101.9L190.8,99.5L183.1,93.0L178.6,90.9L173.4,89.7L155.9,87.3L140.3,87.0L135.0,85.1L126.8,79.5L121.1,78.1L115.8,78.8L110.7,80.8L104.7,84.9L101.4,89.0L100.5,93.0L100.5,105.3L100.0,108.0L96.7,116.1L96.3,120.2L96.7,122.9L97.7,125.6L99.7,128.4L108.3,135.1L115.8,143.9L119.3,145.7L122.8,145.9L128.0,144.3L135.5,140.6L139.5,139.2L143.7,138.9L149.0,140.2L152.5,142.2L154.8,144.6L159.6,154.2L161.9,156.9L166.4,158.9L178.6,161.3L184.3,163.7L190.3,169.1L193.1,173.2L194.3,175.9L194.2,180.0L192.1,182.7L189.1,184.4L175.1,189.6L161.2,200.5L149.0,207.3L144.1,211.2L140.8,216.6L140.0,222.1L141.6,227.5L145.0,231.6L166.4,248.0L171.6,250.4L175.1,250.6L178.6,249.0L192.6,238.0L203.0,228.8L208.3,226.0L217.0,224.0L221.2,213.9L223.6,211.2L225.7,210.0L230.9,209.0L243.1,209.8L248.4,209.4L254.2,207.1L260.6,201.8L262.3,201.2L264.1,201.5L265.8,203.6L267.0,208.5L267.8,218.0L267.5,234.3L268.9,241.1L270.9,246.5L274.0,250.6L282.7,257.4L288.9,265.5L292.3,268.2L302.7,273.7L305.3,276.4L306.2,279.1L305.6,281.8L304.2,283.3L300.7,284.4L297.2,284.6L290.2,284.1L276.3,282.1L232.7,283.3L227.4,282.5L224.0,281.1L218.7,276.8L213.1,269.6L209.5,262.8L209.0,258.7L209.8,257.4L211.8,256.6L225.7,255.2L232.7,253.3L236.0,250.6L236.7,246.5L233.9,237.0L231.7,232.9L229.2,229.6L227.4,228.1L224.0,226.3L220.5,225.6L218.7,226.1L214.8,238.3L209.3,247.9L206.5,254.3L203.0,255.5L183.8,256.3L180.6,257.4L179.0,258.7L177.2,262.8L176.8,268.2L177.6,273.7L180.5,281.8L180.2,284.5L179.3,285.9L168.2,293.9L156.6,306.2L143.0,317.1L139.7,321.2L139.3,325.3L141.0,330.7L143.7,335.7L149.7,344.3L151.9,349.7L152.0,353.8L151.3,356.5L144.7,368.7L145.1,371.4L146.5,372.8L149.4,374.1L159.4,375.8L185.6,376.7L195.1,375.5L197.8,374.1L198.8,372.8L199.1,371.4L198.5,368.7L196.4,366.0L192.6,363.9L182.1,361.2L178.6,359.7L176.6,357.8L175.4,353.8L176.6,348.3L180.4,341.2L183.8,337.7L191.7,333.4L191.9,332.0L186.7,325.3L185.8,322.5L185.6,318.5L186.7,314.4L193.3,298.1L195.7,295.4L197.8,294.7L203.0,294.7L210.0,296.1L214.4,298.1L217.1,300.8L218.1,303.5L217.6,306.2L216.0,309.0L210.1,315.7L209.0,318.5L209.2,321.2L210.0,322.6L211.8,323.8L215.2,324.5L232.7,324.6L251.9,327.0L262.3,327.5L272.8,326.9L293.7,324.6L312.9,324.5L319.9,323.7L322.6,322.5L323.8,321.2L324.1,319.8L320.6,306.2L320.2,302.2L320.7,298.1L321.6,296.6L323.4,295.2L328.6,294.2L333.8,294.6L337.3,295.5L340.8,297.5L343.9,300.8L345.2,303.5L345.8,307.6L344.0,318.5L344.9,321.2L346.0,322.3L365.2,332.1L370.5,334.0L373.9,334.2L377.4,333.6L391.4,327.4L403.6,324.5L438.5,324.0L450.7,324.6L457.6,324.3L461.1,323.4L464.6,321.4L466.4,319.7L468.1,316.5L469.0,310.3L467.6,303.5L464.6,299.8L459.4,297.2L452.4,296.4L431.5,297.4L410.6,296.5L405.3,297.0L396.6,299.8L394.9,299.8L393.1,298.1L390.8,287.2L388.5,283.2L386.2,280.4L382.7,277.3L377.4,273.9L363.5,267.9L361.7,266.8L359.4,264.1L358.4,261.4L358.4,257.4L360.0,254.4L361.7,253.2L363.5,252.9L367.0,253.4L379.2,257.4L386.1,258.5L393.1,258.1L405.3,254.9L417.5,257.7L422.8,258.0L426.3,257.4L429.5,256.0L431.2,254.6L437.7,245.1L440.2,242.7L445.1,239.7L446.4,238.3L446.9,237.0L446.7,234.3L445.7,231.6L442.4,227.5L428.0,217.3L419.3,212.1L416.7,209.8L411.6,203.0L407.1,199.8L401.8,198.4L396.6,198.1L380.9,200.5L373.9,200.8L368.7,200.3L367.0,199.6L365.2,198.1L364.5,196.2L364.4,193.5L365.1,190.8L367.0,187.4L370.5,183.1L380.9,173.8L384.4,172.3L387.9,171.8L401.8,172.9L407.1,172.6L410.0,171.8L412.4,170.4L413.6,169.1L414.4,166.4L413.6,163.7L410.1,159.6L393.1,146.6L386.1,143.1L375.7,140.8L372.2,139.5L370.1,137.9L369.4,136.5L369.3,133.8L372.4,127.0L375.7,123.4L379.2,121.9L391.4,118.4L397.2,114.8L401.1,109.3L404.2,99.8L407.1,97.8L412.3,96.3L415.8,95.9L419.3,96.3L422.8,98.3L424.5,100.8L428.0,109.3L430.4,113.4L434.5,117.5L440.2,120.5L447.2,121.8L457.6,121.7L469.9,119.8L478.6,117.2L483.8,114.7L489.7,110.7L493.8,106.6L497.9,101.2L499.7,97.1L500.1,93.0L499.4,89.0L497.4,84.9L494.3,81.5L486.0,75.4L480.0,65.9L476.8,63.6L473.3,62.5L468.1,62.5L459.4,63.7L454.2,63.3L449.6,61.8L441.8,57.7L435.0,56.2L428.9,56.4L417.5,58.3L410.6,58.0L403.6,55.9L395.9,50.9L391.4,49.0L386.1,47.8L379.2,47.3L368.7,48.1L349.1,52.3L343.0,55.0L337.3,59.5L333.8,60.9L330.3,59.9L324.5,55.0L320.0,52.3L302.4,46.7L297.2,46.0L283.3,46.6L271.0,45.4L265.8,45.4ZM602.4,63.0L597.2,64.0L592.9,65.9L589.6,68.6L583.2,76.2L574.8,82.2L573.9,84.9L575.9,93.0L576.2,97.1L575.4,101.2L573.0,108.0L572.7,110.7L574.1,114.8L579.2,122.9L581.9,133.8L584.0,137.9L599.3,154.2L603.8,160.9L604.7,163.7L604.7,166.4L601.3,174.5L600.9,177.2L602.3,180.0L607.2,184.0L608.1,185.4L608.8,189.5L608.0,193.5L606.4,196.2L604.1,198.3L594.3,203.0L591.5,205.8L591.0,207.1L591.2,209.8L594.5,218.0L594.9,220.7L593.8,223.4L591.9,224.9L586.7,226.4L583.2,226.4L579.7,225.6L576.2,223.5L571.0,218.7L565.8,216.6L558.8,216.5L546.6,218.1L539.6,220.1L536.5,222.1L535.4,223.4L534.0,228.8L534.6,235.6L535.5,238.3L537.2,241.1L539.6,242.8L543.1,243.9L548.3,244.5L553.6,244.3L558.8,243.2L567.5,239.9L572.7,239.7L579.7,241.4L586.7,244.0L590.2,246.1L597.2,251.8L600.7,253.5L607.6,254.4L623.3,253.8L626.8,254.2L630.3,255.9L632.4,258.7L633.5,264.1L633.3,266.9L632.3,269.6L630.3,270.9L605.9,269.5L591.9,267.2L585.0,267.0L581.5,267.6L577.8,269.6L576.0,272.3L575.9,276.4L578.0,279.5L582.1,281.8L586.7,282.7L598.9,283.5L605.0,285.9L609.4,289.4L617.5,298.1L628.6,304.5L632.7,307.6L644.2,320.3L647.7,322.8L649.5,323.4L651.2,323.3L653.0,322.0L654.7,317.6L655.1,313.0L654.8,303.5L655.5,300.8L656.5,299.5L658.9,298.1L672.2,294.0L676.2,291.3L682.6,285.3L686.1,282.9L689.6,281.7L694.8,282.0L705.3,284.3L714.6,287.2L719.2,287.9L724.5,287.5L727.7,285.9L728.3,284.5L728.0,283.2L727.0,281.8L719.2,276.7L714.0,272.3L710.5,270.1L701.8,266.9L699.5,265.5L697.7,262.8L697.7,260.1L699.1,257.4L700.5,256.0L703.5,254.3L707.0,253.6L712.3,253.8L724.5,256.3L729.7,255.9L732.5,254.6L734.0,253.3L734.8,251.9L735.2,249.2L734.3,246.5L731.4,243.2L721.0,235.9L714.0,229.9L710.5,228.0L707.0,228.4L696.6,236.3L693.1,238.1L687.8,238.9L684.4,237.8L679.1,233.6L663.4,216.8L653.0,212.3L634.2,199.0L631.6,196.2L625.1,187.1L617.2,181.3L615.5,178.6L616.4,175.9L619.8,173.7L635.5,171.2L641.3,169.1L644.6,166.4L649.5,158.0L653.0,154.9L654.7,154.2L658.2,154.2L666.9,156.1L670.4,156.1L673.9,154.2L675.6,152.0L681.2,143.3L683.1,139.2L683.3,136.5L681.9,132.4L675.6,121.0L672.2,116.1L666.9,111.4L654.8,105.3L651.2,102.7L649.0,99.8L648.2,95.8L649.5,92.2L653.0,89.6L658.2,88.3L672.2,86.2L678.4,83.5L680.9,80.8L686.1,72.0L690.2,68.6L689.5,67.2L682.6,65.8L677.4,65.7L661.7,72.2L654.7,73.8L649.5,74.1L646.0,73.4L642.5,71.3L639.0,65.3L637.3,63.6L635.5,63.4L628.6,65.0L625.1,65.3L610.1,63.2L602.4,63.0ZM707.0,67.9L705.5,68.6L707.0,69.4L708.8,71.7L712.2,79.5L714.6,82.2L719.2,83.5L724.5,83.5L729.7,82.4L731.5,80.8L731.4,78.1L729.9,75.4L728.0,73.3L724.5,70.9L717.5,68.7L707.0,67.9ZM740.2,46.7L737.9,48.2L736.4,50.9L736.9,53.7L738.4,55.1L741.9,56.1L745.4,55.9L748.9,54.7L751.2,52.3L750.8,49.6L747.3,46.9L743.7,46.1L740.2,46.7ZM752.4,206.9L748.9,208.3L745.4,210.8L741.9,214.7L739.4,219.3L739.1,222.1L740.2,225.2L741.9,227.1L745.4,228.9L750.6,229.9L754.1,229.7L756.4,228.8L758.4,226.1L759.4,218.0L758.8,211.2L757.6,208.6L755.9,207.2L752.4,206.9ZM110.6,208.4L107.1,209.4L103.6,211.3L100.1,214.4L97.6,218.0L96.7,220.7L96.9,223.4L98.4,226.0L100.1,227.4L105.4,229.0L110.6,229.3L114.1,228.6L116.4,226.1L117.5,219.3L117.1,212.5L115.8,209.9L114.1,208.7L110.6,208.4ZM199.5,333.4L196.7,334.8L197.2,337.5L200.2,345.6L202.0,348.3L204.7,351.1L208.3,352.7L211.8,352.9L215.2,351.9L218.7,349.2L220.1,347.0L220.6,344.3L219.8,341.6L217.0,338.1L213.5,335.6L208.3,333.6L204.8,333.1L199.5,333.4ZM225.7,364.2L221.8,366.0L220.3,367.4L218.6,370.1L218.1,372.8L218.5,374.1L220.5,375.9L225.7,376.9L232.7,375.7L237.8,372.8L239.6,370.1L239.6,367.4L238.5,366.0L236.2,364.8L230.9,363.8L225.7,364.2ZM414.0,351.0L394.9,353.4L391.4,354.2L387.9,355.9L380.3,360.6L377.5,363.3L376.5,367.4L377.9,371.4L380.0,374.1L383.5,376.9L387.9,378.9L391.4,379.7L396.6,380.1L401.8,379.6L405.3,378.8L408.8,377.3L417.5,369.5L429.7,363.5L431.6,360.6L431.4,356.5L429.8,353.8L428.0,352.4L422.8,350.8L414.0,351.0ZM436.7,472.8L435.0,474.5L434.3,476.0L434.5,478.7L436.7,479.8L438.5,479.7L441.2,478.7L442.3,477.3L442.6,476.0L441.7,473.3L440.2,472.2L438.5,472.1L436.7,472.8ZM487.3,212.4L475.1,214.5L471.6,215.9L468.9,218.0L468.0,219.3L467.4,222.1L468.8,232.9L468.6,237.0L467.8,238.3L466.4,239.1L455.9,240.5L452.0,242.4L451.2,245.1L451.3,247.9L452.4,251.6L454.2,253.9L455.9,255.2L459.4,256.1L462.9,255.7L465.3,254.6L467.0,253.3L468.8,250.6L471.3,242.4L473.3,241.2L494.3,240.9L498.5,239.7L502.2,237.0L504.1,232.9L504.4,228.8L503.6,222.1L502.0,216.6L499.5,214.0L497.8,213.2L494.3,212.5L487.3,212.4ZM536.1,266.7L528.6,268.2L523.9,270.9L522.0,273.7L521.6,276.4L522.6,279.1L523.9,280.7L527.4,282.7L530.9,283.7L541.4,284.4L548.5,283.2L551.3,281.8L553.6,279.6L554.9,276.4L554.9,273.7L553.8,270.9L551.8,268.9L546.2,266.9L536.1,266.7ZM578.0,296.3L574.4,298.1L572.9,300.8L573.3,303.5L576.0,306.2L579.7,307.7L586.7,309.0L591.9,309.0L594.2,307.6L594.6,306.2L594.1,303.5L592.4,300.8L590.2,298.8L585.0,296.4L581.5,295.9L578.0,296.3ZM651.2,357.1L649.5,357.9L642.5,363.3L633.8,367.9L628.9,371.4L627.8,372.8L626.7,375.5L627.5,383.6L626.9,386.4L624.1,389.1L617.4,393.2L616.0,394.5L615.5,395.9L616.5,397.2L625.1,400.6L628.0,402.7L630.3,405.8L633.4,413.5L635.5,416.9L639.0,419.7L644.2,421.2L651.2,421.0L656.5,419.2L660.1,416.2L665.5,408.1L668.7,404.5L672.2,402.4L679.3,399.9L682.6,398.2L685.3,394.5L687.1,386.4L687.2,379.6L686.4,374.1L684.7,370.1L682.3,367.4L675.6,363.7L658.2,357.9L654.7,357.0L651.2,357.1ZM722.7,368.6L717.5,370.7L714.2,374.1L713.6,378.2L714.7,380.9L715.9,382.3L719.2,383.8L726.2,383.6L731.4,381.7L735.6,378.2L736.9,375.5L736.7,374.1L734.2,371.4L728.0,368.7L722.7,368.6ZM755.9,269.2L752.4,271.0L751.4,272.3L750.9,275.0L752.5,279.1L757.3,284.5L761.1,286.8L766.3,288.0L771.6,287.9L773.8,287.2L775.6,285.9L776.1,283.2L775.0,280.4L771.4,275.0L768.1,271.4L762.8,268.9L759.3,268.7L755.9,269.2ZM114.1,269.4L110.6,271.9L109.7,275.0L111.2,279.1L115.7,284.5L119.3,286.7L124.6,288.0L129.8,287.9L132.2,287.2L133.9,285.9L134.5,283.2L133.4,280.4L129.8,275.0L126.3,271.2L121.1,268.9L117.6,268.7L114.1,269.4ZM389.6,393.0L387.2,394.5L386.7,395.9L387.3,397.2L389.3,398.6L393.1,399.4L396.6,399.4L399.1,398.6L400.2,397.2L399.9,395.9L398.7,394.5L396.6,393.5L393.1,392.7L389.6,393.0Z"/><path fill="#fbccb4" fill-rule="evenodd" d="M84.4,-15.6L815.2,-15.6L815.2,46.2L809.4,42.8L804.7,41.4L801.2,42.5L800.3,44.2L801.2,47.4L806.4,52.3L808.2,54.8L811.6,65.9L813.4,68.1L815.2,69.1L815.2,88.3L808.2,87.4L796.0,83.9L785.5,84.2L780.5,83.5L771.2,78.1L764.6,76.2L757.6,76.8L743.7,81.9L740.2,82.0L738.4,81.0L728.0,67.5L722.7,63.5L717.5,60.9L712.3,58.9L707.0,57.6L689.6,56.5L673.9,50.5L665.2,49.0L646.0,48.2L637.3,49.2L632.0,51.6L625.1,57.0L621.6,58.8L616.3,60.0L602.4,60.6L595.3,61.8L588.8,64.5L579.7,71.3L572.7,73.3L567.5,73.1L564.0,72.0L556.6,65.9L551.8,63.6L546.6,63.1L543.1,64.1L539.6,66.1L536.2,70.0L534.5,74.0L534.3,76.7L534.7,78.1L536.0,79.5L537.9,80.3L550.1,82.0L555.3,84.2L562.8,90.3L564.8,93.0L565.7,95.8L565.2,98.5L564.0,101.0L558.3,109.3L555.3,112.2L546.6,117.0L544.7,118.8L543.1,121.9L542.1,129.7L543.4,147.4L541.4,160.9L542.3,165.0L544.6,167.7L548.3,169.3L553.6,169.6L557.1,168.8L560.5,166.6L566.3,159.6L571.0,155.3L576.2,151.9L579.7,151.1L583.2,151.7L587.9,155.5L590.4,159.6L591.2,162.3L591.2,165.0L586.9,177.2L585.0,187.0L583.2,188.2L576.2,189.3L574.5,190.8L574.1,193.5L575.2,203.0L574.6,205.8L572.7,208.0L568.5,209.8L551.8,213.1L543.1,213.8L534.4,213.3L530.9,212.4L527.4,210.7L518.7,201.7L513.5,198.6L508.2,198.2L496.0,200.6L490.8,199.7L488.2,197.6L484.9,192.2L482.3,189.5L471.6,184.4L469.2,182.7L468.1,181.2L467.2,178.6L467.7,175.9L468.6,174.5L470.4,173.2L473.3,172.1L483.8,170.4L486.6,169.1L487.5,167.7L486.9,165.0L484.7,162.3L472.5,152.8L466.4,150.1L461.1,148.9L450.7,147.5L443.7,147.2L440.2,147.7L436.7,148.9L426.3,155.9L424.5,156.3L421.0,156.0L414.0,152.7L408.8,148.9L399.7,139.2L392.2,132.4L390.7,129.7L391.3,127.0L392.4,125.6L401.8,119.0L408.8,112.7L412.3,111.0L415.8,111.2L417.5,112.1L426.6,120.2L433.2,123.7L440.2,125.5L448.9,125.6L466.4,123.7L478.6,120.6L487.9,116.1L504.9,105.3L508.8,101.2L509.9,97.1L508.9,91.7L503.9,79.5L501.2,76.4L492.5,70.9L483.8,61.5L478.6,58.0L473.3,56.7L461.1,57.0L457.6,56.7L444.9,52.3L437.8,50.9L429.7,50.8L410.6,52.2L405.7,50.9L394.9,46.3L384.4,44.7L372.2,44.7L351.3,48.4L335.6,50.0L330.3,49.4L316.4,46.5L300.7,42.2L295.5,42.2L281.5,44.1L262.3,42.3L260.6,42.8L259.5,44.2L257.9,52.3L255.4,56.8L251.9,59.3L239.8,64.5L236.2,68.6L235.0,72.7L235.3,76.7L236.7,79.5L242.4,84.9L243.1,87.6L241.9,91.7L239.1,95.8L236.2,97.9L232.7,99.2L225.7,100.4L213.5,101.3L204.8,101.3L197.8,100.3L192.6,98.4L184.2,91.7L180.4,89.9L154.2,83.9L140.3,83.9L136.8,82.7L128.0,77.4L122.8,76.2L115.8,76.8L101.9,82.0L98.4,82.2L96.1,80.8L87.9,68.9L84.4,65.8L84.4,-15.6ZM96.7,42.6L91.9,45.5L89.3,49.6L88.6,52.3L88.8,55.0L89.7,57.1L91.4,58.6L96.7,59.7L103.6,59.0L110.6,56.4L114.0,53.7L114.6,52.3L114.4,49.6L112.7,46.9L110.6,45.0L107.1,43.1L103.6,42.1L100.1,41.9L96.7,42.6ZM161.2,41.4L158.8,42.8L158.2,44.2L158.3,46.9L166.7,64.5L168.2,66.9L169.9,68.4L173.4,69.2L175.1,68.7L176.9,67.0L177.6,63.2L176.9,58.5L173.4,45.9L171.6,43.9L168.2,42.2L164.7,41.4L161.2,41.4ZM736.7,42.7L732.7,45.5L730.5,49.6L730.0,52.3L730.4,55.0L731.4,56.8L733.2,58.3L738.4,59.5L745.4,58.9L752.4,56.4L755.6,53.7L756.3,50.9L755.3,48.2L752.8,45.5L750.6,44.1L747.1,42.6L743.7,41.9L740.2,41.9L736.7,42.7ZM84.4,86.3L89.7,85.9L93.2,86.3L94.9,87.4L95.8,89.0L97.0,94.4L97.0,99.8L96.0,105.3L93.0,113.4L92.9,117.5L93.6,122.9L94.9,127.0L96.7,129.8L104.6,136.5L106.8,139.2L108.7,143.3L109.7,148.7L109.1,151.4L108.0,152.8L100.1,158.3L91.4,166.5L87.9,168.6L84.4,169.7L84.4,86.3ZM722.2,86.3L734.9,85.9L736.7,86.6L738.2,89.0L739.3,94.4L739.4,99.8L738.5,105.3L735.8,112.1L735.2,114.8L735.2,118.8L736.1,124.3L738.5,129.7L746.2,136.5L748.4,139.2L751.0,146.0L751.1,150.1L749.4,152.8L741.9,158.2L733.2,165.9L721.0,172.8L719.4,174.5L718.4,177.2L719.4,181.3L722.6,185.4L733.9,192.2L738.3,196.2L740.3,200.3L740.7,203.0L740.4,205.8L738.7,209.8L732.7,219.3L729.7,225.6L728.0,227.2L726.2,227.4L724.5,226.8L721.0,224.4L716.9,219.3L715.7,215.3L714.1,205.8L712.3,202.2L708.8,199.4L705.3,198.5L703.5,198.7L702.3,200.3L702.1,201.7L703.4,216.6L703.1,219.3L702.1,222.1L699.0,226.1L694.8,229.3L691.3,230.6L687.8,230.5L684.4,229.1L682.0,227.5L677.1,222.1L675.3,216.6L676.1,208.5L678.0,203.0L680.1,200.3L682.0,199.0L687.8,197.1L696.8,196.2L699.4,194.9L699.6,190.8L697.8,180.0L698.5,177.2L701.2,171.8L701.6,167.7L700.1,165.2L698.3,164.0L686.1,160.0L683.3,158.2L682.2,156.9L681.3,154.2L681.5,151.4L683.2,147.4L687.2,140.6L687.6,136.5L673.9,114.1L662.0,99.8L661.5,97.1L662.4,95.8L664.4,94.4L668.4,93.0L679.1,91.0L686.1,90.6L689.6,91.6L705.3,102.6L708.8,103.8L710.1,101.2L711.1,93.0L712.3,89.9L714.0,88.2L715.8,87.4L722.2,86.3ZM139.9,144.6L145.5,144.5L149.0,146.0L150.6,147.4L152.3,150.1L152.9,152.8L152.5,155.0L151.0,156.9L147.2,158.4L138.5,159.3L131.5,158.6L127.8,156.9L126.7,155.5L126.5,154.2L128.4,151.4L134.1,147.4L139.9,144.6ZM781.6,144.6L787.3,144.6L790.5,146.0L792.1,147.4L793.9,150.1L794.5,152.8L794.0,155.5L793.0,156.9L789.0,158.7L782.0,159.4L775.0,158.9L769.5,156.9L768.3,155.5L768.1,154.2L769.9,151.4L775.6,147.4L781.6,144.6ZM164.0,163.7L168.2,162.8L171.6,162.8L176.6,163.7L180.4,165.2L183.7,167.7L186.8,171.8L188.2,175.9L187.4,178.6L183.8,180.9L176.9,182.4L169.9,182.6L166.4,181.4L163.5,177.2L161.4,170.4L161.6,166.4L162.2,165.0L164.0,163.7ZM809.5,163.7L815.2,163.0L815.2,182.7L811.7,182.3L808.2,180.9L806.4,179.0L804.7,175.0L803.9,170.4L804.7,166.4L805.9,165.0L809.5,163.7ZM84.4,188.1L89.1,189.5L93.2,192.5L97.0,197.6L98.3,203.0L97.9,205.8L96.6,208.5L90.5,218.0L86.9,224.8L84.4,227.4L84.4,188.1ZM155.7,189.5L156.9,190.8L156.2,192.2L154.2,193.0L152.5,192.4L152.6,190.8L154.2,189.7L155.7,189.5ZM794.4,189.5L796.0,189.1L797.7,189.9L797.6,192.2L796.0,193.5L793.5,193.5L792.3,192.2L792.7,190.8L794.4,189.5ZM236.9,216.6L243.1,216.0L248.4,216.7L251.9,218.0L254.4,220.7L255.9,224.8L256.4,231.6L255.4,238.3L253.6,241.2L250.1,242.5L246.6,241.7L243.1,239.2L241.4,237.0L236.0,227.5L233.7,222.1L233.7,219.3L234.4,218.0L236.9,216.6ZM99.7,284.5L101.9,284.0L103.6,284.4L112.3,289.4L117.6,291.3L131.5,292.9L136.8,293.0L142.0,292.3L146.9,289.9L150.7,286.8L154.2,285.4L157.7,286.1L159.4,288.0L159.7,289.9L158.2,294.0L154.1,300.8L150.7,304.9L142.0,312.0L128.8,318.5L127.7,319.8L128.4,322.5L133.3,329.3L141.7,344.3L143.7,349.7L143.9,353.8L142.8,357.8L140.3,361.7L136.8,364.4L131.5,365.9L119.3,366.4L103.6,368.3L98.4,367.3L84.4,362.3L84.4,291.3L91.5,289.9L94.3,288.6L99.7,284.5ZM741.3,284.5L743.7,284.0L745.4,284.5L754.1,289.5L757.6,290.9L771.6,292.8L778.5,293.0L783.8,292.2L788.5,289.9L792.5,286.5L796.0,285.3L799.5,286.4L801.1,288.6L801.1,291.3L799.2,295.4L795.5,300.8L792.0,304.9L782.0,312.8L770.8,318.5L769.6,319.8L770.1,322.5L775.0,329.5L783.2,344.3L784.8,348.3L785.4,352.4L784.8,356.5L782.7,360.6L780.3,363.2L775.0,365.6L761.1,366.4L747.1,368.4L741.9,367.7L728.0,362.7L721.0,362.1L715.8,363.2L703.5,368.1L700.1,368.6L696.6,367.4L687.7,361.9L673.9,355.9L669.4,352.4L663.2,345.6L660.6,341.6L659.7,338.8L659.3,330.7L662.4,315.7L664.2,311.7L666.9,308.4L670.4,306.2L675.6,304.1L684.4,301.1L689.6,300.3L693.1,301.8L698.3,307.3L700.1,308.4L701.8,308.7L703.5,306.9L704.9,299.5L706.0,296.7L708.8,294.3L714.0,292.7L726.2,291.3L733.0,289.9L736.0,288.6L741.3,284.5ZM330.8,299.5L333.8,299.3L335.6,299.7L337.6,300.8L339.8,303.5L340.3,306.2L339.6,309.0L337.3,311.7L335.6,312.5L333.8,312.7L330.9,311.7L328.6,309.5L327.6,307.6L327.0,304.9L327.5,302.2L328.6,300.6L330.8,299.5ZM614.1,306.2L618.1,306.5L621.6,307.3L625.1,308.9L628.6,311.3L632.4,315.7L640.5,329.3L641.0,332.0L640.0,334.8L637.3,337.1L630.4,340.2L628.2,342.9L628.1,347.0L630.1,355.1L629.8,357.8L628.6,359.8L626.1,361.9L621.6,364.5L618.1,365.6L612.9,366.0L602.4,364.8L597.2,364.9L586.7,366.8L579.7,369.1L576.1,371.4L573.0,375.5L571.6,380.9L571.9,386.4L573.2,389.1L576.2,391.1L579.7,391.7L585.0,391.4L590.2,389.5L595.4,383.1L600.7,379.7L605.9,378.7L611.1,379.7L613.8,382.3L614.0,385.0L613.4,386.4L610.3,389.1L601.7,394.5L601.1,395.9L601.5,397.2L603.0,398.6L606.4,399.9L619.8,402.3L625.1,404.4L628.6,407.7L634.0,417.6L637.0,420.3L639.0,421.4L642.5,422.3L647.7,422.5L653.0,421.8L656.5,420.5L661.7,416.4L668.7,407.2L672.2,404.9L675.6,404.0L679.1,403.9L682.6,404.9L689.3,412.2L691.3,412.6L692.7,412.2L694.8,410.1L699.3,402.7L701.8,400.7L710.6,397.2L721.0,391.6L734.0,386.4L745.4,378.5L750.6,376.3L757.6,375.5L771.6,375.7L787.2,378.2L815.2,380.9L815.2,553.4L470.4,553.4L470.0,530.3L471.5,519.4L471.3,514.0L470.1,511.3L468.8,509.9L461.5,505.9L459.2,503.1L459.3,501.8L461.1,500.3L466.4,499.1L475.1,498.4L476.8,497.7L477.9,496.4L478.1,495.0L477.3,490.9L475.1,486.9L471.0,484.1L466.4,483.0L455.9,481.7L451.3,480.1L448.9,477.8L444.4,470.6L442.4,469.2L440.2,468.6L436.7,469.0L433.2,470.8L424.5,479.8L387.9,507.8L384.2,511.3L382.7,514.0L382.2,516.7L384.2,529.0L383.8,553.4L84.4,553.4L84.4,389.5L93.2,386.0L105.4,377.7L108.9,376.5L114.1,375.7L129.8,375.6L145.5,378.2L173.4,380.9L189.1,380.4L196.1,380.8L206.5,383.8L210.0,384.2L222.2,381.8L236.2,380.0L246.6,376.9L251.9,376.0L271.0,376.5L298.9,374.9L318.1,376.2L337.3,376.2L363.5,377.5L369.9,379.6L375.6,383.6L377.3,386.4L376.3,393.2L376.8,395.9L378.9,398.6L383.8,401.3L394.9,403.7L404.9,404.0L409.1,402.7L417.5,396.6L422.8,395.4L426.3,395.8L429.7,397.6L436.7,407.2L442.0,411.4L459.4,419.4L464.6,420.9L468.1,420.9L471.6,419.3L472.8,417.6L473.1,414.9L472.4,413.5L468.8,410.8L459.4,407.0L455.9,404.7L453.4,401.3L453.2,397.2L455.0,394.5L456.9,393.2L468.3,387.7L472.6,385.0L482.1,376.9L494.3,368.0L503.2,359.2L504.7,356.5L505.3,352.4L502.4,341.6L502.2,336.1L503.1,332.0L506.2,328.0L516.9,321.6L525.7,312.8L529.1,311.2L534.4,310.3L558.8,311.5L581.5,313.7L585.0,314.7L588.4,316.6L595.4,323.1L597.2,324.0L600.7,324.3L602.4,323.8L604.9,321.2L607.7,311.7L609.4,308.2L611.1,306.9L614.1,306.2ZM243.1,391.5L241.3,393.2L240.2,395.9L240.3,398.6L242.1,401.3L244.9,402.6L247.1,402.7L250.1,401.8L252.6,399.9L253.4,398.6L253.6,395.9L251.9,392.8L248.4,390.8L244.9,390.7L243.1,391.5ZM585.0,336.1L579.7,338.2L574.6,342.9L573.1,345.6L573.0,347.0L573.3,348.3L574.5,349.9L578.0,351.6L583.2,352.1L588.4,351.0L592.4,348.3L593.7,346.4L594.2,344.3L592.8,340.2L590.2,337.4L588.4,336.5L585.0,336.1ZM252.9,334.8L260.6,334.2L269.3,334.3L276.3,335.2L281.5,336.7L285.0,338.8L286.8,341.6L287.4,344.3L286.9,348.3L285.0,351.3L280.6,353.8L274.5,355.2L265.8,356.0L257.1,355.8L248.4,354.4L241.2,352.4L238.3,351.1L236.8,349.7L235.8,347.0L235.8,344.3L236.4,341.6L238.4,338.8L243.1,336.7L252.9,334.8Z"/><path fill="#fbe5d8" fill-rule="evenodd" d="M84.4,-15.6L815.2,-15.6L815.2,36.4L806.4,35.0L799.5,35.3L795.4,37.4L793.8,40.1L793.5,42.8L794.2,46.3L796.0,49.8L804.7,58.0L810.2,68.6L811.7,70.0L815.2,71.6L815.2,86.9L808.2,85.4L797.7,81.4L782.0,80.6L778.5,79.3L773.3,76.2L768.1,74.6L759.3,74.5L745.4,78.0L741.9,77.6L740.2,76.6L737.7,74.0L735.2,70.0L734.4,67.2L734.9,65.6L736.0,64.5L738.4,63.4L748.9,60.5L755.4,57.7L758.9,55.0L759.8,53.7L760.3,50.9L759.0,46.9L754.1,42.0L748.9,39.2L741.9,37.4L734.9,37.8L729.7,39.9L726.6,42.8L722.7,49.0L721.0,50.9L717.5,52.1L693.1,51.2L687.8,50.0L673.9,44.9L661.7,42.6L647.7,41.5L637.3,42.1L632.0,43.4L628.6,45.0L625.1,47.7L619.3,53.7L614.6,56.2L609.4,57.4L591.9,59.7L586.7,61.2L578.0,65.0L574.5,65.6L569.3,64.6L558.8,58.5L555.3,57.5L550.1,57.0L544.8,57.2L539.6,58.1L527.4,62.1L513.5,60.8L510.0,61.4L501.2,64.1L497.8,64.0L494.3,62.5L483.8,51.6L481.3,49.6L478.6,48.5L475.1,48.6L464.6,50.8L459.4,50.9L442.0,47.4L415.8,46.9L410.6,45.9L400.1,42.6L377.4,41.4L370.5,41.7L353.0,45.2L346.0,45.5L332.1,43.1L316.4,42.4L304.2,38.4L298.9,37.6L295.5,38.0L285.0,41.0L278.0,41.4L271.0,40.3L265.7,38.7L255.4,33.5L251.9,32.3L243.1,31.5L238.8,31.9L234.0,33.3L231.6,34.7L230.4,36.0L230.4,37.4L232.1,38.7L236.2,39.9L248.4,41.7L252.0,42.8L254.2,44.2L255.4,45.5L256.3,48.2L256.4,50.9L255.7,53.7L253.6,56.6L249.8,59.1L239.7,63.4L236.5,65.9L234.6,68.6L233.3,72.7L232.7,78.1L233.4,80.8L237.6,87.6L237.5,90.3L236.4,93.0L234.4,95.5L232.7,96.7L227.4,98.5L215.2,100.0L203.0,99.8L197.8,98.8L194.3,97.4L185.7,90.3L182.1,88.7L168.2,85.7L155.9,81.3L140.3,80.6L131.5,76.1L128.0,74.9L122.8,74.2L117.6,74.6L105.4,77.7L101.9,78.0L100.1,77.7L97.0,75.4L93.8,70.0L93.4,67.2L93.9,65.9L96.7,63.8L108.9,59.9L114.1,57.5L117.6,54.5L118.7,50.9L117.4,46.9L114.1,43.1L108.9,39.7L103.6,37.9L98.4,37.5L93.2,38.5L89.3,40.1L84.4,43.6L84.4,-15.6ZM187.3,33.0L173.4,36.4L162.9,35.3L157.7,35.4L154.2,36.9L152.7,38.7L152.0,42.8L153.7,48.2L161.2,58.5L166.3,68.6L169.9,71.2L173.4,71.6L175.1,71.2L177.5,70.0L179.4,67.2L179.7,63.2L178.2,52.3L178.9,48.2L180.6,45.5L182.4,44.2L185.6,42.9L200.4,40.1L203.8,38.7L205.2,37.4L205.0,36.0L203.3,34.7L199.3,33.3L192.6,32.6L187.3,33.0ZM84.4,89.0L84.4,88.2L89.7,89.4L92.5,91.7L93.7,94.4L94.1,97.1L93.5,101.2L91.6,105.3L88.5,109.3L87.9,110.7L87.9,113.4L92.5,131.1L94.2,133.8L100.4,139.2L101.7,143.3L100.6,146.0L99.5,147.4L87.9,157.5L84.4,159.8L84.4,89.0ZM720.7,89.0L726.2,88.2L731.4,88.8L734.3,90.3L736.1,93.0L736.8,97.1L736.3,101.2L734.9,104.8L730.9,110.7L730.5,113.4L734.5,131.1L736.7,134.5L742.0,139.2L743.2,141.9L742.9,144.6L741.1,147.4L729.7,157.5L726.2,159.7L722.7,160.8L717.5,160.8L708.8,158.1L696.6,157.3L691.3,156.3L687.8,153.9L686.9,151.4L687.0,150.1L688.2,147.4L693.5,140.6L694.4,137.9L694.0,136.5L686.1,128.9L680.9,121.7L674.4,109.3L673.0,105.3L672.9,101.2L674.8,98.5L679.1,96.7L686.1,96.4L691.3,97.8L696.6,100.6L700.9,103.9L704.6,108.0L708.8,115.6L710.5,116.8L712.3,116.7L717.6,113.4L719.3,110.7L719.2,109.3L714.8,101.2L714.3,95.8L716.0,91.7L717.6,90.3L720.7,89.0ZM498.7,116.1L504.7,115.3L513.5,115.7L525.7,115.5L530.9,116.7L533.4,118.8L534.6,121.6L535.2,125.6L534.7,137.9L535.2,150.1L534.5,162.3L535.1,167.7L536.3,170.4L539.4,173.2L553.6,176.9L556.8,178.6L558.1,180.0L559.9,184.0L562.7,199.0L562.3,203.0L559.9,205.8L555.3,207.8L548.3,209.1L543.1,208.8L537.9,207.2L532.0,203.0L523.9,192.6L520.4,189.6L506.5,184.9L504.4,182.7L503.7,180.0L503.8,169.1L502.6,165.0L499.8,162.3L492.5,158.3L487.3,154.6L484.2,151.4L480.3,146.3L476.8,145.7L457.6,144.7L440.2,141.9L435.0,142.5L424.5,145.8L421.0,145.8L418.1,144.6L415.8,142.9L413.9,140.6L412.2,136.5L412.0,133.8L412.9,131.1L414.2,129.7L417.4,128.4L422.8,128.3L433.2,130.4L438.5,130.9L455.9,128.2L473.3,126.4L480.3,124.7L494.3,117.7L498.7,116.1ZM489.0,131.0L485.6,132.6L482.6,136.5L482.1,139.2L482.3,141.9L483.8,144.1L489.0,144.7L496.0,144.2L501.2,142.7L504.0,140.6L504.7,139.1L504.9,136.5L503.5,133.8L501.9,132.4L499.5,131.3L496.0,130.6L489.0,131.0ZM170.9,169.1L173.4,167.9L176.7,169.1L178.5,171.8L178.1,173.2L176.9,174.1L173.4,173.8L171.0,171.8L170.6,170.4L170.9,169.1ZM813.8,169.1L815.2,167.9L815.2,173.9L813.5,171.8L813.8,169.1ZM84.4,197.6L86.2,198.4L88.1,200.3L89.5,203.0L89.8,205.8L87.9,210.6L84.4,214.9L84.4,197.6ZM722.6,197.6L726.2,197.3L729.7,198.8L732.6,201.7L733.6,204.4L733.5,207.1L731.4,211.1L728.0,214.3L726.2,214.9L724.5,214.5L722.7,212.7L721.1,208.5L720.6,204.4L720.8,200.3L721.3,199.0L722.6,197.6ZM688.7,203.0L691.4,203.0L694.8,205.0L696.7,208.5L697.6,213.9L697.1,218.0L695.8,220.7L693.1,223.3L689.6,224.3L686.4,223.4L684.4,222.0L682.3,219.3L681.1,215.3L681.4,211.2L682.9,207.1L685.4,204.4L688.7,203.0ZM84.4,294.0L94.9,294.1L105.4,295.8L115.8,295.3L124.6,295.7L137.0,298.1L140.6,299.5L142.4,300.8L143.0,302.2L142.2,304.9L139.7,307.6L136.8,309.7L129.8,312.3L115.8,314.7L113.3,315.7L112.1,317.1L111.8,318.5L112.7,321.2L113.8,322.5L124.5,329.3L127.7,333.4L130.9,342.9L135.1,351.1L135.0,355.4L133.5,357.8L131.8,359.2L128.0,360.7L122.8,361.5L110.6,362.8L103.6,362.8L96.7,360.7L84.4,354.5L84.4,294.0ZM723.6,294.0L731.4,293.5L738.4,293.8L747.1,296.4L757.6,295.3L766.3,295.7L778.7,298.1L782.0,299.5L783.7,300.8L784.3,302.2L783.6,304.9L781.2,307.6L777.3,310.3L769.8,312.8L755.9,314.8L754.1,315.7L753.2,317.1L753.4,319.8L755.4,322.5L766.1,329.3L769.3,333.4L772.2,341.6L776.9,351.1L776.8,355.1L775.0,358.0L771.6,360.1L764.6,361.5L748.9,363.0L741.9,362.0L735.3,359.2L724.9,353.8L722.4,351.1L720.0,345.6L717.5,342.2L714.0,339.8L710.5,339.0L707.0,339.5L705.3,340.7L703.5,343.5L700.6,352.4L698.3,354.7L696.6,355.5L691.3,356.1L684.4,354.8L679.1,352.3L675.0,348.3L667.9,338.8L666.5,336.1L665.3,332.0L665.2,328.0L666.1,322.5L667.6,318.5L669.4,315.7L672.2,313.3L675.6,311.8L679.1,311.3L682.6,311.5L686.1,312.8L688.2,314.4L690.2,317.1L693.1,322.6L694.8,324.0L698.3,324.6L708.8,323.5L722.8,323.9L725.0,322.5L724.0,321.2L717.5,317.3L714.0,314.3L711.6,310.3L710.5,304.9L711.1,300.8L714.0,297.0L717.5,295.3L723.6,294.0ZM616.4,313.0L618.1,312.5L621.6,313.0L625.6,315.7L627.3,318.5L627.9,321.2L626.8,324.8L623.3,326.3L619.8,326.3L616.5,325.3L614.8,323.9L613.4,321.2L613.1,318.5L613.8,315.7L616.4,313.0ZM570.5,321.2L576.2,320.6L579.0,321.2L580.7,322.5L580.9,325.3L579.1,328.0L575.2,332.0L567.5,338.2L562.3,339.7L558.8,338.7L556.4,336.1L555.5,333.4L555.5,329.3L556.7,326.6L560.5,323.9L570.5,321.2ZM257.8,340.2L264.1,339.6L269.3,340.5L273.3,342.9L274.1,345.6L272.0,348.3L267.6,350.1L262.3,350.5L257.1,349.6L252.6,347.0L251.8,345.6L251.8,344.3L254.3,341.6L257.8,340.2ZM508.6,367.4L511.7,366.3L515.2,366.6L516.9,367.6L522.0,372.8L525.7,375.1L539.6,379.2L557.1,386.9L560.5,389.7L565.8,396.9L569.3,399.0L572.7,399.3L585.0,398.1L600.7,402.3L614.6,403.6L621.6,405.1L624.6,406.7L626.8,408.8L632.0,417.6L634.3,420.3L639.0,423.0L644.2,423.8L653.0,423.0L658.2,421.0L662.3,417.6L668.7,409.6L670.4,408.2L673.9,406.7L679.1,407.2L682.3,409.4L687.8,415.1L691.3,416.1L693.1,415.8L696.3,413.5L701.5,406.7L705.0,404.0L715.1,399.9L736.7,389.4L748.9,381.2L754.1,379.3L759.3,378.5L766.3,378.6L782.0,381.7L799.5,382.2L815.2,384.8L815.2,553.4L702.0,553.4L702.1,515.4L701.4,505.9L702.2,503.1L707.7,499.1L708.2,497.7L708.0,495.0L705.0,488.2L701.1,484.1L693.1,480.0L689.6,479.1L684.4,478.6L677.4,479.1L670.4,480.7L666.1,482.8L658.2,488.3L654.7,489.5L646.6,490.9L645.6,492.3L644.9,499.1L643.2,501.8L639.5,504.5L631.0,508.6L628.6,510.9L627.2,514.0L626.9,516.7L628.3,529.0L628.0,553.4L520.9,553.4L520.6,529.0L522.4,516.7L522.0,514.0L520.4,511.1L517.5,508.6L507.8,503.1L499.5,496.3L487.3,489.6L479.5,482.8L475.1,481.0L461.1,479.7L455.9,478.5L452.0,476.0L445.4,468.2L443.7,467.2L440.2,466.4L435.0,467.4L431.4,469.2L422.8,477.0L384.4,505.8L379.0,511.3L377.8,514.0L377.4,516.7L379.1,529.0L378.8,553.4L84.4,553.4L84.4,394.2L93.8,390.4L105.4,382.4L108.9,380.5L115.8,378.7L124.6,378.5L140.3,381.7L157.7,382.2L173.4,384.8L190.8,384.3L194.3,385.0L203.0,388.3L206.5,388.8L211.8,388.4L225.7,385.1L232.7,385.2L235.9,386.4L236.9,387.7L236.2,395.9L236.7,398.6L238.0,401.3L241.4,404.0L246.6,405.2L251.9,404.0L254.2,402.7L257.0,399.9L258.2,397.2L258.4,394.5L256.0,386.4L257.1,384.6L260.6,383.0L276.3,381.1L290.2,378.3L297.2,377.8L305.9,378.4L319.9,381.0L333.8,380.5L342.5,381.1L353.8,383.6L359.8,386.4L361.7,388.2L364.8,393.2L367.2,395.9L372.8,399.9L379.1,402.7L387.9,404.9L407.1,408.5L412.3,408.2L419.3,406.3L422.8,406.3L426.1,408.1L431.5,413.4L435.0,415.5L448.9,420.2L461.1,425.6L466.4,426.4L471.6,425.3L475.4,423.0L476.8,421.4L478.6,417.7L479.2,412.2L478.5,409.4L476.8,407.7L465.8,402.7L464.5,401.3L464.1,399.9L464.6,398.2L466.4,396.3L469.2,394.5L480.3,389.7L488.9,380.9L508.6,367.4ZM496.0,391.7L489.0,392.9L486.4,394.5L485.5,395.9L484.9,398.6L485.3,401.3L486.5,402.7L489.0,403.7L492.5,404.0L500.6,402.7L506.7,399.9L509.7,397.2L510.2,395.9L510.0,394.5L508.9,393.2L506.5,392.0L503.0,391.5L496.0,391.7Z"/><path fill="#f7f6f6" fill-rule="evenodd" d="M84.4,-15.6L815.2,-15.6L815.2,30.2L801.2,29.6L794.2,30.7L791.6,31.9L790.2,33.3L788.9,36.0L788.6,38.7L789.9,45.5L792.5,51.0L794.8,53.7L802.7,60.5L807.0,68.6L809.0,71.3L811.7,73.0L815.2,73.8L815.2,85.3L809.2,83.5L801.2,79.4L797.7,78.6L783.8,77.4L775.0,73.5L771.6,72.5L761.1,72.3L747.1,74.6L743.7,74.1L741.9,72.9L740.2,70.0L740.7,67.2L743.7,65.2L754.1,61.2L760.4,57.7L763.0,55.0L764.1,50.9L763.7,48.2L761.7,44.2L759.3,41.1L754.1,36.1L750.6,33.8L747.1,32.4L740.2,31.2L733.2,31.3L726.2,32.7L721.0,35.7L715.8,41.5L712.3,43.8L707.0,45.2L701.8,45.8L696.6,45.7L691.3,44.8L672.2,37.6L658.2,34.4L644.2,33.4L630.3,34.5L621.6,36.6L617.5,38.7L615.9,41.4L615.1,46.9L614.1,49.6L611.8,52.3L609.6,53.7L602.4,55.4L591.9,56.1L585.0,55.8L582.0,55.0L579.7,53.7L578.5,52.3L577.5,49.6L576.7,41.4L575.3,37.4L572.7,34.6L567.5,32.8L564.0,33.0L560.4,34.7L558.0,37.4L555.3,44.3L553.8,46.9L550.1,49.1L546.6,49.5L543.1,48.9L539.9,46.9L536.8,38.7L533.7,34.7L529.1,32.5L523.9,31.9L506.5,33.0L485.6,32.4L478.6,33.0L473.3,35.0L464.2,42.8L461.1,44.1L457.6,44.7L442.0,43.0L426.3,43.1L421.0,42.6L415.8,40.8L407.1,35.4L403.6,34.6L387.9,37.2L372.2,36.8L356.8,41.4L351.3,42.1L344.3,40.9L333.8,35.2L330.3,34.9L318.1,36.7L314.6,36.1L305.9,32.5L300.7,31.5L293.7,32.4L283.3,37.2L278.0,37.8L271.1,36.0L262.3,31.0L258.8,29.7L248.4,28.2L236.2,28.4L218.7,30.4L194.3,28.5L185.6,28.8L173.4,30.2L157.7,29.8L152.5,30.6L149.0,32.6L147.5,34.7L146.9,38.7L147.6,42.8L149.8,48.2L152.5,52.3L159.4,60.1L164.7,70.8L166.6,72.7L169.9,73.8L173.4,73.9L176.9,73.0L178.6,72.0L180.5,70.0L181.6,65.9L180.6,55.0L180.8,52.3L182.8,48.2L187.3,45.4L194.3,43.8L206.5,42.2L218.7,41.5L244.9,43.0L250.1,44.5L253.2,46.9L254.4,49.6L254.4,52.3L253.2,55.0L252.0,56.4L248.4,58.6L238.0,63.2L234.9,65.9L233.1,68.6L230.0,76.7L229.1,80.8L229.7,83.5L231.9,87.6L232.6,90.3L231.9,93.0L230.9,94.4L229.1,95.8L225.7,97.1L220.5,98.2L211.8,98.9L203.7,98.5L199.5,97.6L195.2,95.8L189.1,90.1L185.6,87.8L169.9,84.3L161.2,80.0L157.7,78.8L142.0,77.4L133.3,73.3L128.0,72.2L119.3,72.3L105.4,74.5L102.0,74.0L100.1,72.7L98.7,70.0L99.3,67.2L103.5,64.5L113.9,60.5L118.8,57.7L121.1,55.5L122.1,53.7L122.4,49.6L120.9,45.5L118.0,41.4L112.3,35.8L108.9,33.5L105.4,32.2L100.1,31.5L93.2,31.6L84.4,32.8L84.4,-15.6ZM84.4,91.7L84.4,90.5L87.7,91.7L89.4,93.0L90.3,94.4L90.9,97.1L90.5,99.8L89.0,102.5L84.4,106.3L84.4,91.7ZM720.8,91.7L724.5,90.6L728.0,90.6L731.0,91.7L733.2,93.9L734.0,97.1L733.6,99.8L732.3,102.5L729.7,105.1L726.2,106.3L724.5,106.0L721.0,104.1L719.2,102.2L717.6,98.5L717.5,95.8L719.0,93.0L720.8,91.7ZM681.0,101.2L686.1,100.1L691.3,101.0L696.6,103.9L700.7,108.0L703.2,113.4L704.2,120.2L703.2,125.6L701.8,127.8L700.1,129.3L696.6,130.2L691.3,129.2L687.8,127.0L684.2,122.9L680.3,116.1L677.7,109.3L677.5,106.6L678.2,103.9L681.0,101.2ZM84.4,118.8L84.4,118.1L86.2,121.0L87.1,125.6L86.2,129.7L84.4,131.7L84.4,118.8ZM720.4,118.8L724.5,117.6L726.2,118.2L728.0,120.2L729.0,122.9L729.2,127.0L728.0,130.3L726.2,131.7L722.7,132.2L719.2,131.5L717.5,130.3L716.0,128.4L715.5,125.6L716.3,122.9L720.4,118.8ZM455.0,132.4L461.1,131.6L468.1,132.4L470.3,133.8L471.0,135.1L470.9,136.5L468.7,139.2L462.9,140.8L455.9,140.4L452.0,139.2L449.8,137.9L449.0,136.5L449.5,135.1L451.3,133.8L455.0,132.4ZM541.8,182.7L544.8,182.3L548.3,183.1L551.1,185.4L552.7,188.1L553.9,193.5L554.0,197.6L552.9,200.3L550.1,202.4L546.6,202.9L542.4,201.7L538.8,199.0L536.1,194.9L535.2,190.8L536.1,186.9L538.7,184.0L541.8,182.7ZM84.4,296.7L84.4,296.0L86.2,296.2L93.2,298.0L95.4,299.5L97.5,302.2L98.3,304.9L98.1,309.0L96.8,311.7L94.9,313.4L91.4,314.7L84.4,315.4L84.4,296.7ZM721.4,296.7L726.2,296.0L731.4,296.2L734.9,297.1L738.5,299.5L740.1,302.2L741.0,306.2L740.4,310.3L738.4,313.6L734.9,315.4L728.0,315.7L722.7,314.6L717.5,311.7L714.7,307.6L714.1,304.9L714.5,302.2L715.8,300.1L717.5,298.5L721.4,296.7ZM119.6,299.5L124.6,299.5L129.7,300.8L131.9,302.2L132.8,303.5L132.7,304.9L129.8,307.3L126.3,308.4L121.1,308.8L117.6,308.2L114.5,306.2L113.7,303.5L115.7,300.8L119.6,299.5ZM761.3,299.5L766.3,299.4L771.7,300.8L773.8,302.2L774.7,303.5L774.6,304.9L771.6,307.5L768.1,308.6L762.8,308.9L759.3,308.1L756.9,306.2L756.1,303.5L757.9,300.8L761.3,299.5ZM675.3,322.5L677.4,322.5L678.9,323.9L681.5,330.7L683.9,333.4L692.8,337.5L694.8,339.4L695.8,341.6L696.0,344.3L695.1,347.0L693.1,349.2L689.6,350.3L686.1,349.7L683.4,348.3L680.7,345.6L676.4,337.5L673.6,333.4L672.2,329.5L672.8,325.3L673.9,323.4L675.3,322.5ZM119.0,380.9L126.3,381.4L140.3,385.4L154.2,385.1L159.4,385.6L173.4,389.0L188.3,390.4L196.1,393.0L206.5,392.5L222.2,389.2L227.4,389.0L229.2,389.6L230.9,391.1L234.1,399.9L237.3,404.0L241.4,406.4L246.6,407.3L253.6,405.6L258.5,402.7L261.1,399.9L265.1,391.8L267.6,389.1L290.2,381.2L297.2,380.3L302.4,380.7L319.9,385.3L333.8,384.6L339.1,385.1L343.6,386.4L346.3,387.7L349.0,390.4L352.8,397.2L356.5,399.4L396.6,409.2L408.1,413.5L413.4,416.2L415.9,419.0L417.0,421.7L419.0,435.3L420.5,438.0L422.8,439.7L428.0,440.3L432.1,439.3L434.3,438.0L435.0,435.3L433.5,428.5L434.4,425.7L435.9,424.4L438.5,423.4L442.0,423.4L445.4,424.2L448.9,425.7L451.8,428.5L451.9,429.8L449.9,432.5L445.0,436.6L444.0,439.3L445.6,442.0L448.9,444.5L452.4,446.2L455.9,446.9L458.8,446.1L460.2,444.8L461.4,442.0L462.9,435.3L464.8,432.5L475.1,427.6L479.0,424.4L480.8,421.7L484.2,413.5L487.3,410.0L492.2,408.1L522.2,401.1L525.5,399.9L527.1,398.6L527.7,397.2L527.4,395.8L521.5,389.1L520.1,386.4L520.8,383.6L523.9,382.2L529.1,382.1L532.6,382.9L543.1,387.7L553.4,391.8L557.1,394.5L564.0,402.6L567.5,404.2L572.7,404.6L585.0,403.3L598.9,404.8L612.9,405.2L619.8,406.4L625.1,409.6L627.1,412.2L630.9,419.0L633.8,422.2L638.4,424.4L644.2,425.1L653.0,424.2L658.2,422.4L662.9,419.0L670.0,410.8L673.9,409.0L677.4,409.4L679.1,410.2L685.5,416.2L687.8,417.8L691.3,418.6L694.8,417.8L698.3,415.0L703.5,408.5L707.0,406.0L720.4,401.3L736.7,393.5L741.9,390.5L750.6,383.8L755.9,381.7L759.3,381.0L764.6,381.0L769.8,381.8L782.0,385.5L797.7,385.2L805.2,386.4L815.2,389.1L815.2,553.4L753.2,553.4L752.9,529.0L754.6,516.7L754.2,514.0L752.4,510.7L748.9,507.7L739.1,501.8L730.5,495.0L721.0,489.5L710.5,481.1L694.8,474.3L689.6,473.0L686.1,472.8L665.2,474.4L661.7,475.2L654.7,479.1L651.2,480.4L646.0,481.0L631.4,481.4L628.6,482.8L627.8,492.3L626.8,494.9L625.1,496.4L615.7,500.4L613.3,503.1L611.7,507.2L610.4,516.7L610.8,553.4L542.4,553.4L542.6,514.0L541.4,505.4L539.6,500.9L537.9,500.1L525.7,499.0L519.9,497.7L515.3,495.0L511.7,491.0L510.0,489.9L499.5,487.8L494.3,486.2L490.9,484.1L485.6,479.5L482.1,477.9L476.8,477.3L464.6,477.7L457.6,476.5L454.2,474.5L446.9,466.5L443.7,464.9L440.2,464.4L435.0,465.4L429.7,467.9L421.0,475.1L409.7,482.8L386.1,500.5L379.6,505.9L375.6,509.9L374.0,512.7L373.2,516.7L374.7,529.0L374.4,553.4L323.1,553.4L323.1,508.6L322.3,503.1L320.5,499.1L316.4,495.0L307.8,489.6L300.7,482.6L290.6,476.0L283.5,469.2L274.5,463.7L267.6,455.8L264.5,454.3L262.3,454.0L260.4,454.3L257.1,455.9L250.1,463.5L241.8,469.2L238.8,473.3L237.6,477.3L237.6,481.4L238.9,485.5L247.8,499.1L250.9,505.9L252.5,511.3L253.0,516.7L252.5,529.0L252.6,553.4L111.6,553.4L111.2,529.0L113.0,516.7L112.1,512.7L108.5,508.6L98.4,502.3L90.1,495.0L84.4,492.5L84.4,398.6L89.7,396.8L96.7,393.1L107.2,385.0L110.6,383.0L114.1,381.7L119.0,380.9ZM503.0,458.1L501.8,458.3L500.3,459.7L500.8,461.1L504.7,461.7L507.5,461.1L508.1,459.7L506.5,458.5L503.0,458.1ZM522.2,466.1L520.4,466.8L519.4,467.8L518.7,469.9L518.3,477.3L519.2,481.4L520.4,482.8L523.9,483.8L534.4,483.9L537.9,483.0L538.5,480.1L538.0,476.0L536.7,471.9L534.7,469.2L532.6,467.7L529.1,466.3L522.2,466.1ZM574.5,467.8L571.3,469.2L568.0,471.9L564.0,479.2L561.8,481.4L555.3,483.1L543.1,484.5L540.4,485.5L540.0,490.9L541.4,497.2L543.1,498.2L546.6,498.1L555.3,495.6L560.8,492.3L562.8,489.6L565.5,484.1L567.1,482.8L571.7,481.4L585.0,479.6L588.0,478.7L589.7,477.3L590.2,476.0L589.8,473.3L586.5,469.2L581.5,467.2L578.0,467.1L574.5,467.8ZM614.6,468.9L611.6,470.6L609.2,473.3L608.2,476.0L608.3,477.3L609.1,478.7L611.1,479.7L614.6,480.3L621.6,480.5L625.1,480.1L626.2,478.7L626.1,476.0L625.3,473.3L623.5,470.6L619.8,468.5L614.6,468.9Z"/><path fill="#e0ecf3" fill-rule="evenodd" d="M126.7,33.3L129.8,32.5L133.3,32.6L136.8,33.6L138.5,34.9L140.3,37.2L147.4,50.9L149.6,53.7L155.9,59.4L158.7,63.2L161.1,70.0L161.3,72.7L160.8,74.0L159.4,75.0L155.9,75.6L147.2,75.2L143.3,74.0L135.0,69.4L131.5,68.8L112.3,70.4L106.9,70.0L106.1,68.6L106.9,67.2L121.1,60.3L125.3,56.4L126.3,53.7L126.5,49.6L123.5,37.4L124.6,34.7L126.7,33.3ZM768.6,33.3L771.6,32.6L775.0,32.7L778.5,33.8L780.3,35.1L782.0,37.4L787.7,49.6L790.3,53.7L798.9,60.5L801.4,63.2L803.8,68.6L804.6,74.0L802.9,75.3L801.2,75.5L789.0,75.0L785.4,74.0L776.8,69.6L773.3,69.0L754.1,70.3L748.8,70.0L747.9,68.6L748.8,67.2L762.4,60.5L764.6,58.9L766.7,56.4L767.8,53.7L768.0,49.6L765.2,37.4L766.3,34.7L768.6,33.3ZM233.4,44.2L243.1,44.3L248.4,45.6L251.7,48.2L252.4,49.6L252.7,52.3L251.4,55.0L250.0,56.4L237.9,62.0L234.4,64.5L232.3,67.2L225.2,80.8L225.3,83.5L227.9,90.3L227.3,93.0L225.7,94.6L222.2,96.1L215.2,97.3L208.3,97.5L201.3,96.4L196.1,93.7L190.8,87.8L188.9,86.3L185.6,85.0L173.4,83.1L170.7,82.2L168.8,80.8L167.9,79.5L168.3,78.1L178.6,74.9L182.1,71.9L183.5,67.2L182.8,53.7L183.9,50.9L187.3,47.9L192.6,46.1L199.5,45.2L208.3,44.7L222.2,45.0L233.4,44.2ZM596.6,45.5L598.9,45.8L601.3,46.9L602.3,48.2L601.8,49.6L598.9,50.7L597.2,50.7L593.8,49.6L592.9,48.2L593.1,46.9L595.4,45.6L596.6,45.5ZM810.9,76.7L815.2,76.5L815.2,83.2L812.4,82.2L809.3,79.5L808.9,78.1L810.9,76.7ZM84.4,94.4L84.4,93.2L86.2,94.4L87.4,97.1L86.5,99.8L84.4,101.9L84.4,94.4ZM722.4,94.4L726.2,93.2L729.3,94.4L730.6,97.1L729.7,100.0L728.0,101.4L726.2,101.9L724.5,101.6L722.7,100.5L721.1,97.1L722.4,94.4ZM684.9,103.9L687.8,103.4L691.3,104.0L694.8,105.8L698.3,109.4L699.9,113.4L700.1,118.8L698.6,122.9L696.6,124.9L693.1,125.8L689.6,124.7L686.2,121.6L684.3,118.8L681.8,113.4L681.0,109.3L681.7,106.6L682.6,105.3L684.9,103.9ZM84.4,299.5L84.4,298.2L89.7,300.0L92.1,302.2L93.0,304.9L92.4,307.6L91.4,309.1L87.9,311.3L84.4,312.2L84.4,299.5ZM721.3,299.5L724.5,298.4L728.0,298.3L733.2,299.9L734.9,301.4L736.1,303.5L736.3,306.2L735.2,309.0L733.2,310.9L729.7,312.1L724.5,311.8L721.0,310.3L718.4,307.6L717.5,304.9L718.2,302.2L721.3,299.5ZM117.1,383.6L121.1,383.3L126.3,384.1L136.8,388.5L140.3,389.3L154.2,388.7L161.2,389.8L175.1,394.7L178.6,396.6L186.5,402.7L189.1,403.8L192.6,404.4L196.1,403.8L202.0,398.6L207.4,395.9L217.0,393.3L224.0,392.8L225.7,393.2L227.7,394.5L232.7,402.7L235.4,405.4L239.7,407.9L244.9,409.2L250.1,408.9L257.1,406.4L262.9,402.7L271.0,396.1L285.6,386.4L290.2,384.2L293.7,383.3L298.9,383.0L304.2,383.8L318.1,390.1L321.6,390.4L332.1,389.5L335.6,389.9L339.5,391.8L345.6,399.9L349.9,402.7L354.8,403.9L387.9,409.1L394.1,410.8L400.1,413.5L405.5,417.6L409.0,421.7L411.1,425.7L415.3,439.3L417.5,442.0L419.3,443.2L424.5,444.3L436.7,443.9L440.2,444.4L452.4,450.0L457.6,451.1L461.1,450.1L462.9,448.3L465.8,439.3L468.1,435.3L480.7,427.1L482.7,424.4L487.3,415.6L490.8,412.3L496.0,410.3L526.8,404.0L530.9,402.7L534.6,399.9L537.9,395.3L541.4,393.6L546.6,393.7L551.8,395.8L555.0,398.6L560.5,406.0L562.3,407.2L565.8,408.4L574.5,409.1L588.4,407.7L607.6,406.7L612.9,406.8L618.1,407.7L621.6,409.1L625.0,412.2L629.7,420.3L632.0,423.3L636.6,425.7L642.5,426.5L651.2,425.7L658.2,423.9L663.4,420.4L670.4,412.8L673.9,411.3L677.6,412.2L684.4,418.0L687.8,420.1L691.3,420.8L694.8,420.2L698.9,417.6L703.5,411.9L707.0,408.8L710.5,407.1L722.7,404.1L728.0,402.1L741.9,395.0L745.4,392.6L752.2,386.4L757.6,383.9L761.1,383.3L766.3,383.7L770.6,385.0L778.5,388.6L782.0,389.3L796.0,388.7L801.2,389.4L815.2,394.0L815.2,553.4L770.3,553.4L769.9,529.0L772.1,516.7L770.8,512.7L768.7,509.9L761.1,503.3L749.1,496.4L740.2,488.9L728.0,482.8L721.0,476.2L717.5,475.0L705.3,472.5L682.6,463.6L681.2,462.4L680.5,461.1L680.5,451.5L679.1,445.2L677.4,442.5L675.6,441.1L672.2,440.2L668.7,441.6L666.2,444.8L665.0,448.8L664.5,458.3L663.4,461.1L656.5,467.4L649.9,474.6L646.0,476.6L642.5,477.3L637.3,477.3L633.8,476.4L631.2,474.6L625.1,468.0L621.6,466.3L618.1,465.8L613.8,466.5L610.2,467.8L602.4,472.3L598.9,472.6L595.4,471.1L586.7,465.5L583.2,464.2L579.7,463.8L574.5,464.3L569.3,465.7L564.7,467.8L555.3,474.1L551.8,475.0L548.3,474.8L544.8,472.7L539.7,466.5L536.1,464.0L523.9,459.9L513.2,454.3L508.2,452.7L501.2,451.6L496.0,452.3L490.0,455.6L486.8,458.3L484.8,461.1L482.6,467.8L480.8,470.6L476.1,473.3L469.9,475.0L462.9,475.4L457.6,474.0L454.8,471.9L449.0,465.1L445.4,463.1L440.2,462.5L433.2,464.1L428.0,466.8L419.3,473.4L403.6,483.9L380.9,500.9L375.0,505.9L371.2,509.9L369.7,512.7L369.0,516.7L370.4,529.0L370.1,553.4L331.5,553.4L331.3,529.0L332.1,515.2L330.4,508.6L325.6,499.1L320.6,493.6L311.2,487.0L304.2,480.7L295.4,474.6L286.7,467.1L277.6,461.1L270.0,452.9L265.8,450.9L260.6,450.8L255.1,452.9L246.6,461.0L237.3,467.8L233.4,473.3L230.3,481.4L229.5,485.5L229.6,489.6L232.2,500.4L232.7,505.9L232.7,553.4L128.7,553.4L128.3,529.0L130.4,516.7L129.2,512.7L125.8,508.6L121.1,504.5L107.1,496.3L96.8,486.9L84.4,481.0L84.4,402.9L89.7,401.3L94.9,398.6L101.9,394.1L110.6,386.4L114.1,384.5L117.1,383.6Z"/><path fill="#c2ddec" fill-rule="evenodd" d="M134.1,44.2L135.0,43.9L136.8,44.4L138.5,45.7L145.5,55.0L155.7,63.2L157.6,67.2L157.5,70.0L156.6,71.3L154.2,72.5L152.5,72.7L146.4,71.3L143.7,69.6L138.5,64.2L132.7,60.5L131.7,57.7L131.8,49.6L132.7,45.5L134.1,44.2ZM775.4,44.2L776.8,43.8L778.5,44.4L780.3,45.9L786.9,56.4L797.7,63.6L799.8,67.2L799.7,70.0L798.6,71.3L794.2,72.3L789.0,71.2L785.5,68.9L780.3,64.2L774.7,61.8L773.3,60.6L772.7,57.7L773.3,48.4L774.2,45.5L775.4,44.2ZM228.1,46.9L237.9,45.5L244.9,46.1L249.2,48.2L250.3,49.6L250.9,52.3L250.1,54.2L247.9,56.4L237.9,60.7L233.9,63.2L231.4,65.9L227.4,72.3L222.7,78.1L221.3,82.2L223.4,90.3L222.2,93.1L218.7,94.9L213.5,95.8L208.3,95.9L203.0,94.9L199.5,93.2L197.7,91.7L193.6,84.9L190.8,82.3L181.3,79.5L183.8,75.8L185.2,71.3L184.6,55.0L185.6,52.3L188.4,49.6L192.6,47.9L199.5,47.0L220.5,47.8L228.1,46.9ZM686.0,108.0L687.8,107.1L689.6,106.9L692.6,108.0L694.8,109.9L696.0,112.1L696.6,114.8L696.3,117.5L694.8,120.2L693.1,121.2L691.3,121.3L689.6,120.6L687.7,118.8L685.9,116.1L684.7,112.1L685.1,109.3L686.0,108.0ZM84.4,302.2L84.4,301.1L86.6,302.2L87.7,303.5L88.0,304.9L86.4,307.6L84.4,308.7L84.4,302.2ZM722.9,302.2L726.2,301.0L729.7,301.8L731.5,303.5L731.5,306.2L730.3,307.6L728.0,308.6L724.5,308.2L722.7,307.0L721.6,304.9L721.8,303.5L722.9,302.2ZM118.5,386.4L121.1,386.2L124.6,386.8L135.0,392.5L138.5,393.5L143.7,393.9L154.2,393.5L162.9,395.2L171.7,398.6L185.6,407.3L204.8,413.3L206.5,413.2L208.0,412.2L208.0,410.8L206.3,405.4L206.6,402.7L207.2,401.3L210.0,398.9L214.1,397.2L220.5,396.3L224.0,397.0L226.1,398.6L231.7,405.4L236.2,408.7L243.1,411.2L248.4,411.3L255.4,409.6L269.3,402.8L281.8,398.6L283.9,397.2L288.4,390.4L291.6,387.7L295.5,386.3L300.7,386.3L304.2,387.7L306.1,389.1L311.2,395.9L312.9,397.4L314.6,398.0L330.3,396.9L333.8,398.1L340.8,404.1L346.0,406.4L353.0,407.6L382.7,410.3L387.9,411.3L393.1,413.1L398.0,416.2L403.2,423.0L407.2,429.8L411.6,442.0L414.0,445.1L417.5,446.7L421.0,447.2L438.5,447.4L442.9,448.8L452.4,454.0L455.9,455.0L459.4,455.3L464.6,454.4L466.4,453.0L468.1,442.0L470.0,438.0L472.7,435.3L480.3,431.0L483.5,428.5L489.0,418.8L492.7,414.9L497.8,412.8L534.3,405.4L537.4,404.0L542.9,399.9L544.8,399.1L548.3,399.4L550.1,400.5L551.8,402.7L553.1,408.1L552.7,414.9L553.6,415.4L562.3,413.5L579.7,414.1L599.0,409.4L607.6,408.4L614.6,408.6L619.8,410.1L622.7,412.2L624.8,414.9L628.9,423.0L632.0,426.3L635.5,427.8L640.8,428.2L653.0,426.8L659.9,424.8L664.5,421.7L670.4,415.4L673.9,413.8L677.4,414.9L683.9,420.3L687.8,422.3L691.3,422.9L696.6,422.0L700.1,419.8L705.3,413.3L708.8,410.4L714.0,408.6L728.0,407.4L733.2,405.6L747.1,397.3L754.7,389.1L759.3,386.5L762.8,386.2L766.3,386.8L776.8,392.6L780.3,393.6L794.2,393.4L799.5,394.0L815.2,399.6L815.2,553.4L787.2,553.4L786.9,529.0L788.6,516.7L787.7,512.7L785.8,509.9L782.7,507.2L759.3,490.6L750.3,482.8L739.9,476.0L733.2,469.1L729.7,466.6L724.5,465.2L712.3,466.7L707.0,466.4L701.8,464.5L693.1,459.8L689.6,457.2L687.1,454.3L682.8,444.8L680.2,440.7L676.9,438.0L672.2,436.8L668.7,437.7L666.9,438.8L663.8,442.0L658.2,454.7L653.0,461.8L647.7,470.5L644.2,473.1L640.8,474.0L635.5,473.3L626.8,466.0L623.3,464.4L619.8,463.8L612.9,464.5L604.1,467.6L600.7,468.3L597.2,467.6L585.0,461.7L578.0,460.8L571.0,461.6L555.3,465.6L551.8,465.9L549.8,465.1L544.8,460.4L543.1,459.5L529.1,457.1L515.2,451.3L499.5,447.5L494.3,448.1L478.2,457.0L475.8,459.7L475.1,466.5L473.9,469.2L471.6,471.1L468.1,472.5L462.9,473.0L459.0,471.9L455.9,469.5L450.7,462.6L447.2,460.7L440.2,460.4L433.2,462.0L426.7,465.1L401.8,481.4L381.5,496.4L369.9,505.9L366.1,509.9L364.9,512.7L364.3,516.7L365.4,529.0L365.2,553.4L338.4,553.4L338.3,529.0L338.9,515.4L337.8,509.9L334.7,504.5L328.5,496.4L325.1,492.9L314.6,485.4L307.1,478.7L297.5,471.9L289.8,465.1L279.8,458.4L272.8,450.1L267.6,447.8L264.1,447.4L258.8,447.9L255.4,448.9L251.9,450.8L244.9,457.7L233.0,466.5L226.9,474.6L222.4,482.8L217.6,500.4L216.5,507.2L216.4,553.4L145.6,553.4L145.3,529.0L147.1,516.7L146.7,514.0L145.3,511.3L141.1,507.2L117.6,490.6L108.3,482.8L98.4,475.9L89.7,468.0L84.4,465.4L84.4,407.6L89.7,406.7L94.9,404.4L105.4,397.1L114.1,388.2L118.5,386.4ZM298.9,403.6L297.2,404.0L295.7,405.4L295.3,408.1L297.2,411.5L298.9,412.4L300.7,412.5L302.4,411.7L304.3,409.4L305.0,406.7L304.7,405.4L302.4,403.7L298.9,403.6ZM356.5,426.7L355.0,428.5L356.3,429.8L358.2,430.4L363.5,430.1L365.4,428.5L364.1,427.1L361.7,426.4L356.5,426.7Z"/><path fill="#9bc9e0" fill-rule="evenodd" d="M231.2,48.2L237.9,47.1L243.1,47.3L246.1,48.2L247.9,49.6L249.0,52.3L247.5,55.0L245.5,56.4L236.2,60.1L232.7,62.3L225.7,71.0L219.3,76.7L217.4,80.8L218.8,89.0L217.9,91.7L215.2,93.2L210.0,93.9L205.0,93.0L202.4,91.7L200.0,89.0L197.0,80.8L190.1,75.4L188.5,72.7L186.2,59.1L186.3,56.4L187.3,53.4L190.8,50.5L196.1,49.1L203.0,48.8L220.5,50.4L225.7,49.7L231.2,48.2ZM762.7,393.2L764.6,393.9L768.9,397.2L773.2,398.6L778.5,399.3L796.0,399.3L815.2,405.3L815.2,553.4L805.9,553.4L805.6,530.3L806.5,515.4L805.0,509.9L801.5,505.9L785.4,496.4L775.3,488.2L759.3,476.5L747.1,469.2L738.4,460.5L734.9,458.9L729.7,458.0L708.8,458.3L696.6,454.5L693.1,452.7L690.2,450.2L683.0,439.3L680.4,436.6L677.4,434.7L673.9,433.7L670.4,433.8L666.9,435.0L664.7,436.6L661.1,440.7L654.7,451.1L649.1,457.0L644.2,467.3L642.3,469.2L639.0,470.2L635.5,469.1L628.4,463.8L623.3,462.1L616.3,461.8L600.7,464.9L597.2,464.1L586.7,458.8L581.5,457.0L578.0,456.7L567.5,457.7L564.0,457.5L560.5,455.8L558.9,452.9L558.6,447.5L561.1,431.2L562.3,426.9L564.7,423.0L566.6,421.7L569.3,421.0L579.7,421.6L583.2,420.8L592.1,414.9L598.1,412.2L604.1,410.7L611.1,410.0L616.3,410.6L619.8,412.1L621.6,413.5L623.5,416.2L627.7,427.1L630.3,429.7L633.8,430.8L640.8,430.5L659.9,426.8L664.5,424.4L670.4,418.4L672.2,417.2L673.9,416.7L677.4,418.1L682.6,422.3L686.1,424.1L689.6,425.0L694.8,425.0L698.3,424.2L700.6,423.0L702.2,421.7L708.7,413.5L714.0,411.4L717.5,411.2L722.7,412.0L734.9,417.5L738.4,418.0L740.2,416.8L743.0,410.8L745.9,406.7L749.5,404.0L757.3,399.9L759.9,397.2L761.1,394.1L762.7,393.2ZM579.7,431.1L575.4,432.5L571.5,435.3L569.8,438.0L569.5,440.7L570.5,443.4L574.5,447.3L578.0,449.2L581.5,449.7L585.0,448.8L589.0,446.1L591.9,442.4L592.6,439.3L591.9,436.6L588.4,433.0L585.0,431.4L579.7,431.1ZM119.2,394.5L121.1,393.2L127.2,397.2L133.3,398.8L154.2,399.4L164.7,401.2L171.5,404.0L182.1,410.4L200.7,417.6L206.5,419.0L211.8,418.5L215.5,416.2L216.3,414.9L216.8,412.2L214.8,404.0L215.3,402.7L217.0,401.4L218.7,401.1L221.0,401.3L223.7,402.7L230.1,408.1L234.6,410.8L239.7,412.9L244.9,414.0L248.4,414.0L253.6,412.9L271.0,406.2L276.3,405.6L279.8,405.9L282.3,406.7L285.0,408.5L292.8,417.6L295.5,419.2L298.9,420.3L302.4,420.3L307.2,419.0L311.2,416.4L316.4,411.8L321.6,409.8L325.1,409.8L337.3,412.5L351.3,412.5L365.2,413.3L379.2,412.7L386.1,413.5L389.9,414.9L393.1,417.6L394.5,420.3L395.6,425.7L396.5,427.1L401.8,432.0L403.6,434.3L405.7,439.3L407.3,448.8L408.8,450.8L412.3,451.2L428.0,450.1L435.2,450.2L438.5,450.9L442.0,452.6L443.6,454.3L443.8,455.6L441.9,457.0L428.0,461.8L411.0,471.9L400.1,477.6L389.6,486.0L379.2,492.2L370.5,500.0L361.0,505.9L358.9,508.6L357.6,514.0L357.9,553.4L346.6,553.4L346.7,507.2L345.7,503.1L344.3,501.7L335.6,496.7L327.1,489.6L317.3,482.8L309.4,475.6L300.4,469.2L293.1,462.4L284.6,457.0L281.1,452.9L278.6,446.1L276.3,443.9L272.8,443.2L267.6,443.2L257.1,444.0L251.9,445.0L247.2,447.5L239.8,455.6L230.9,461.5L217.1,473.3L215.0,476.0L212.3,484.1L210.2,488.2L200.1,497.7L192.0,509.9L190.8,512.7L190.2,516.7L191.4,529.0L191.1,553.4L164.0,553.4L163.8,530.3L164.6,515.4L163.8,511.3L161.3,507.2L157.7,504.3L143.7,496.4L133.3,487.8L117.6,476.5L105.7,469.2L96.7,460.8L91.4,458.7L84.4,457.9L84.4,413.2L94.9,415.2L96.7,415.3L98.4,414.7L104.2,406.7L107.5,404.0L117.0,398.6L119.2,394.5ZM251.9,429.6L250.9,429.8L249.6,431.2L253.6,431.3L255.6,429.8L251.9,429.6ZM354.8,418.9L351.3,419.6L347.8,421.0L345.7,423.0L344.6,425.7L344.6,428.5L345.8,431.2L347.8,433.2L351.3,435.1L360.0,436.6L368.7,435.8L377.2,432.5L381.5,429.8L382.4,428.5L381.9,427.1L380.1,425.7L368.7,420.1L361.7,418.6L354.8,418.9ZM532.3,409.4L536.1,409.6L539.4,410.8L540.4,412.2L541.0,414.9L540.4,419.0L538.4,423.0L530.5,431.2L530.2,435.3L532.4,446.1L532.2,447.5L530.9,449.4L529.1,450.0L523.9,449.6L511.7,447.1L499.5,443.5L496.0,443.2L492.5,444.1L485.6,448.9L480.3,451.3L476.8,451.8L475.1,451.5L473.3,450.5L472.0,448.8L471.1,446.1L471.0,443.4L472.7,439.3L475.8,436.6L482.1,433.6L485.6,431.2L487.8,428.5L492.1,420.3L494.8,417.6L499.5,415.7L510.0,414.2L522.2,410.7L532.3,409.4ZM459.2,461.1L462.9,460.9L466.6,462.4L468.4,465.1L467.7,467.8L465.9,469.2L462.9,469.6L461.1,469.3L459.4,468.1L457.6,465.4L457.3,463.8L457.6,462.1L459.2,461.1Z"/><path fill="#6bacd1" fill-rule="evenodd" d="M233.6,49.6L237.9,48.7L243.1,49.0L244.9,49.7L246.2,50.9L246.7,52.3L246.3,53.7L244.9,55.1L231.9,60.5L229.0,63.2L225.7,67.4L222.2,70.3L213.7,74.0L211.9,75.4L211.2,76.7L211.0,79.5L213.0,87.6L211.8,89.6L210.0,90.2L206.5,89.2L204.6,86.3L204.6,80.8L204.0,78.1L201.3,75.9L194.3,73.1L190.8,69.8L189.1,65.3L188.2,60.5L188.2,57.7L189.1,54.7L191.7,52.3L196.1,50.9L203.0,50.9L213.5,53.1L218.7,53.5L224.0,53.0L233.6,49.6ZM154.1,405.4L159.4,405.6L164.7,406.9L169.8,409.4L178.6,415.4L204.8,422.5L211.8,422.9L217.5,421.7L221.3,419.0L225.0,413.5L227.4,412.6L230.9,413.4L237.3,416.2L241.0,419.0L241.3,420.3L238.9,423.0L229.2,429.2L215.2,441.2L208.3,445.3L204.8,445.7L192.6,444.4L180.4,446.3L174.7,446.1L171.6,444.6L169.8,442.0L167.9,432.5L166.4,431.1L161.2,430.3L150.7,431.0L146.4,432.5L144.0,435.3L140.3,443.4L138.5,445.2L135.0,447.1L131.5,447.9L126.3,447.9L122.8,447.3L119.3,445.5L117.5,443.4L116.8,440.7L118.0,431.2L116.6,428.5L111.7,423.0L109.6,419.0L109.1,414.9L110.9,410.8L114.1,408.2L119.3,406.6L127.8,406.7L138.5,409.4L147.2,406.4L154.1,405.4ZM791.8,405.4L796.0,405.2L801.2,406.2L806.5,408.1L815.2,412.3L815.2,445.8L811.7,442.4L809.1,435.3L807.0,432.5L802.9,431.0L796.0,430.5L790.7,431.0L787.3,432.6L785.5,435.0L782.0,443.2L778.5,446.3L775.0,447.5L769.8,448.0L764.6,447.3L761.1,445.7L759.3,443.8L758.6,442.0L758.5,439.3L759.8,432.5L759.1,429.8L753.0,423.0L750.6,418.3L750.4,414.9L752.2,410.8L755.9,408.1L761.1,406.6L768.1,406.6L778.5,409.3L780.3,409.3L787.3,406.4L791.8,405.4ZM269.8,410.8L274.5,410.5L279.6,412.2L282.6,414.9L288.5,422.4L292.0,424.7L297.2,426.5L304.2,427.2L309.4,426.9L312.9,426.1L319.9,422.9L323.4,422.1L326.9,422.0L331.3,423.0L333.8,424.5L335.6,426.8L338.2,433.9L339.8,436.6L342.5,438.7L346.0,439.8L358.2,441.7L365.2,441.8L370.5,440.8L384.4,435.6L391.4,434.7L394.9,435.4L398.6,438.0L400.1,440.7L400.0,444.8L398.4,447.8L394.9,451.3L377.4,461.1L369.8,469.2L358.2,476.0L347.9,485.5L342.5,487.9L337.3,488.1L333.8,486.7L325.5,481.4L315.9,471.9L307.4,465.1L305.7,462.4L303.7,455.6L302.4,454.0L297.2,450.1L294.0,442.0L289.6,436.6L269.8,424.4L257.9,419.0L257.3,417.6L259.7,414.9L265.1,412.2L269.8,410.8ZM607.3,412.2L612.9,411.9L616.3,412.6L619.8,414.7L621.7,417.6L622.6,423.0L621.6,427.7L618.1,431.2L612.8,433.9L611.2,435.3L611.6,436.6L613.3,438.0L619.3,440.7L625.6,442.0L631.0,442.0L633.8,440.6L639.0,435.3L644.7,432.5L649.9,431.2L656.5,430.3L661.7,430.3L663.1,431.2L658.2,439.0L653.0,445.7L649.5,448.2L642.5,451.4L640.9,452.9L638.8,459.7L637.3,461.8L635.5,461.9L628.6,460.1L621.6,459.5L614.6,459.9L604.1,461.5L598.9,461.0L595.4,459.4L592.2,457.0L591.1,455.6L591.0,452.9L604.8,435.3L602.9,432.5L595.5,425.7L594.8,424.4L594.5,421.7L595.4,419.0L597.6,416.2L602.3,413.5L607.3,412.2ZM526.1,413.5L530.7,413.5L533.2,414.9L533.9,417.6L532.5,420.3L530.9,421.7L527.4,423.2L522.2,423.9L516.9,423.7L515.3,424.4L516.0,428.5L520.4,435.1L521.7,438.0L522.0,440.7L520.4,442.8L516.9,443.8L511.7,443.3L492.5,435.2L492.1,432.5L493.4,427.1L495.7,423.0L497.8,421.4L501.2,420.2L504.7,420.3L513.5,422.7L515.2,422.4L516.9,419.0L519.4,416.2L521.7,414.9L526.1,413.5ZM711.0,416.2L714.0,415.1L715.8,415.0L719.7,416.2L722.8,419.0L729.7,428.9L731.2,433.9L730.9,439.3L729.5,443.4L728.0,445.6L726.2,446.8L721.0,447.8L710.5,446.4L701.8,448.3L696.6,447.8L693.1,446.2L691.3,444.7L684.4,435.6L680.9,432.1L677.4,430.4L668.7,429.3L666.6,428.5L670.4,422.8L672.2,421.3L673.9,420.8L675.6,421.3L680.9,425.4L684.4,427.0L691.3,427.9L701.8,427.4L705.3,425.7L708.8,418.7L711.0,416.2ZM84.4,424.4L84.4,423.5L86.5,425.7L87.9,428.5L89.1,435.3L87.9,442.4L86.2,445.4L84.4,446.9L84.4,424.4ZM483.2,438.0L485.6,438.0L487.2,439.3L487.0,440.7L485.4,443.4L482.1,446.1L480.3,446.7L476.8,446.5L475.4,444.8L475.1,443.4L476.3,440.7L478.6,439.1L483.2,438.0ZM424.4,454.3L429.0,454.3L431.2,455.6L429.8,457.0L421.0,460.9L417.5,461.6L415.1,461.1L415.2,459.7L417.2,457.0L419.4,455.6L424.4,454.3Z"/><path fill="#3f8ec0" fill-rule="evenodd" d="M237.5,50.9L241.5,50.9L243.3,52.3L243.0,53.7L240.7,55.0L236.2,56.1L230.9,56.7L229.1,56.4L231.5,53.7L233.6,52.3L237.5,50.9ZM194.1,53.7L199.5,52.9L204.8,54.0L208.8,56.4L211.2,59.1L211.4,60.5L201.3,68.3L197.8,69.1L196.1,68.9L194.3,68.1L192.6,66.5L190.9,63.2L190.4,60.5L191.0,56.4L192.6,54.5L194.1,53.7ZM224.9,57.7L227.5,57.7L224.0,63.5L220.5,65.7L218.7,65.8L217.0,65.0L214.2,61.8L214.3,60.5L217.5,59.1L224.9,57.7ZM119.2,413.5L122.8,413.3L124.6,414.2L125.7,416.2L124.6,418.8L122.8,419.7L121.1,419.7L119.2,419.0L117.5,416.2L117.8,414.9L119.2,413.5ZM154.2,413.5L157.7,412.8L160.2,413.5L161.8,414.9L162.2,416.2L161.9,417.6L160.6,419.0L157.7,420.2L154.2,419.5L152.6,417.6L152.4,416.2L152.8,414.9L154.2,413.5ZM760.8,413.5L764.6,413.4L766.3,414.5L767.1,416.2L766.3,418.3L764.6,419.5L762.8,419.7L760.7,419.0L759.4,417.6L759.0,416.2L759.2,414.9L760.8,413.5ZM795.5,413.5L797.7,412.9L801.2,413.8L802.7,414.9L803.4,416.2L802.9,418.3L801.2,419.7L799.5,420.2L796.0,419.6L794.2,417.8L793.9,416.2L794.2,414.9L795.5,413.5ZM607.0,414.9L612.9,414.2L616.3,415.3L618.1,417.0L618.9,419.0L618.7,421.7L618.1,423.1L616.3,424.7L614.6,425.4L611.1,425.8L607.6,425.2L604.1,423.3L602.8,421.7L602.4,419.0L604.4,416.2L607.0,414.9ZM190.1,427.1L194.3,425.9L205.7,427.1L211.9,428.5L213.7,429.8L213.8,431.2L211.8,433.9L208.3,435.8L204.8,436.5L199.5,436.2L194.3,434.9L190.2,432.5L188.9,429.8L189.1,428.5L190.1,427.1ZM692.3,433.9L694.8,433.8L696.6,435.1L697.0,436.6L696.6,437.6L694.8,438.2L693.1,437.3L691.7,435.3L692.3,433.9ZM383.4,442.0L386.1,441.3L389.6,441.7L391.1,443.4L390.8,444.8L389.6,446.2L386.1,448.1L382.7,448.6L380.9,448.3L379.5,447.5L379.1,446.1L381.0,443.4L383.4,442.0ZM607.4,446.1L614.6,446.3L623.2,448.8L626.4,451.5L626.8,452.9L626.3,454.3L623.3,455.8L612.9,457.4L605.9,457.9L601.3,457.0L599.5,455.6L598.9,454.3L599.5,451.5L602.4,448.2L607.4,446.1Z"/><g mask="url(#hc_b)"><use href="#cm" fill="none" stroke="#d05548" stroke-opacity="0.4" stroke-width="10.5" stroke-linejoin="round"/><use href="#cm" fill="none" stroke="#c03a3a" stroke-width="6.4" stroke-linejoin="round"/></g><use href="#bs" fill="#67001f"/><use href="#land"/></g></g>
<rect x="129.0" y="696.6" width="641.60" height="499.60" fill="none" stroke="#000" stroke-width="1.7"/>
<line x1="235.93" y1="1196.2" x2="235.93" y2="1190.2" stroke="#000" stroke-width="1.5"/>
<line x1="235.93" y1="696.6" x2="235.93" y2="702.6" stroke="#000" stroke-width="1.5"/>
<line x1="342.87" y1="1196.2" x2="342.87" y2="1190.2" stroke="#000" stroke-width="1.5"/>
<line x1="342.87" y1="696.6" x2="342.87" y2="702.6" stroke="#000" stroke-width="1.5"/>
<line x1="449.80" y1="1196.2" x2="449.80" y2="1190.2" stroke="#000" stroke-width="1.5"/>
<line x1="449.80" y1="696.6" x2="449.80" y2="702.6" stroke="#000" stroke-width="1.5"/>
<line x1="556.73" y1="1196.2" x2="556.73" y2="1190.2" stroke="#000" stroke-width="1.5"/>
<line x1="556.73" y1="696.6" x2="556.73" y2="702.6" stroke="#000" stroke-width="1.5"/>
<line x1="663.67" y1="1196.2" x2="663.67" y2="1190.2" stroke="#000" stroke-width="1.5"/>
<line x1="663.67" y1="696.6" x2="663.67" y2="702.6" stroke="#000" stroke-width="1.5"/>
<line x1="129.0" y1="779.87" x2="135.0" y2="779.87" stroke="#000" stroke-width="1.5"/>
<line x1="770.6" y1="779.87" x2="764.6" y2="779.87" stroke="#000" stroke-width="1.5"/>
<line x1="129.0" y1="863.13" x2="135.0" y2="863.13" stroke="#000" stroke-width="1.5"/>
<line x1="770.6" y1="863.13" x2="764.6" y2="863.13" stroke="#000" stroke-width="1.5"/>
<line x1="129.0" y1="946.40" x2="135.0" y2="946.40" stroke="#000" stroke-width="1.5"/>
<line x1="770.6" y1="946.40" x2="764.6" y2="946.40" stroke="#000" stroke-width="1.5"/>
<line x1="129.0" y1="1029.67" x2="135.0" y2="1029.67" stroke="#000" stroke-width="1.5"/>
<line x1="770.6" y1="1029.67" x2="764.6" y2="1029.67" stroke="#000" stroke-width="1.5"/>
<line x1="129.0" y1="1112.93" x2="135.0" y2="1112.93" stroke="#000" stroke-width="1.5"/>
<line x1="770.6" y1="1112.93" x2="764.6" y2="1112.93" stroke="#000" stroke-width="1.5"/>
<text x="127.80" y="1235.80" font-size="29.2" text-anchor="middle" font-family="Liberation Sans, sans-serif">0</text>
<text x="233.23" y="1235.80" font-size="29.2" text-anchor="middle" font-family="Liberation Sans, sans-serif">60</text>
<text x="339.37" y="1235.80" font-size="29.2" text-anchor="middle" font-family="Liberation Sans, sans-serif">120</text>
<text x="446.30" y="1235.80" font-size="29.2" text-anchor="middle" font-family="Liberation Sans, sans-serif">180</text>
<text x="553.23" y="1235.80" font-size="29.2" text-anchor="middle" font-family="Liberation Sans, sans-serif">240</text>
<text x="660.17" y="1235.80" font-size="29.2" text-anchor="middle" font-family="Liberation Sans, sans-serif">300</text>
<text x="767.10" y="1235.80" font-size="29.2" text-anchor="middle" font-family="Liberation Sans, sans-serif">360</text>
<text x="113.9" y="708.15" font-size="29.2" text-anchor="end" font-family="Liberation Sans, sans-serif">90</text>
<text x="113.9" y="791.42" font-size="29.2" text-anchor="end" font-family="Liberation Sans, sans-serif">60</text>
<text x="113.9" y="874.68" font-size="29.2" text-anchor="end" font-family="Liberation Sans, sans-serif">30</text>
<text x="113.9" y="957.95" font-size="29.2" text-anchor="end" font-family="Liberation Sans, sans-serif">0</text>
<text x="113.9" y="1041.22" font-size="29.2" text-anchor="end" font-family="Liberation Sans, sans-serif">–30</text>
<text x="113.9" y="1124.48" font-size="29.2" text-anchor="end" font-family="Liberation Sans, sans-serif">–60</text>
<text x="113.9" y="1207.75" font-size="29.2" text-anchor="end" font-family="Liberation Sans, sans-serif">–90</text>
<text x="450.2" y="1279.30" font-size="29.2" text-anchor="middle" font-family="Liberation Sans, sans-serif">Longitude</text>
<text transform="translate(30.3,945.70) rotate(-90)" x="0" y="0" font-size="29.2" text-anchor="middle" font-family="Liberation Sans, sans-serif">Latitude</text>
<text x="-0.5" y="700.20" font-size="42" font-weight="bold" font-family="Liberation Sans, sans-serif">b</text>
<rect x="813.6" y="699.70" width="49.80" height="35.89" fill="#67001f"/>
<rect x="813.6" y="734.99" width="49.80" height="35.89" fill="#9e0328"/>
<rect x="813.6" y="770.29" width="49.80" height="35.89" fill="#ba2832"/>
<rect x="813.6" y="805.58" width="49.80" height="35.89" fill="#d05548"/>
<rect x="813.6" y="840.87" width="49.80" height="35.89" fill="#e48066"/>
<rect x="813.6" y="876.16" width="49.80" height="35.89" fill="#f5aa89"/>
<rect x="813.6" y="911.46" width="49.80" height="35.89" fill="#fbccb4"/>
<rect x="813.6" y="946.75" width="49.80" height="35.89" fill="#fbe5d8"/>
<rect x="813.6" y="982.04" width="49.80" height="35.89" fill="#f7f6f6"/>
<rect x="813.6" y="1017.34" width="49.80" height="35.89" fill="#e0ecf3"/>
<rect x="813.6" y="1052.63" width="49.80" height="35.89" fill="#c2ddec"/>
<rect x="813.6" y="1087.92" width="49.80" height="35.89" fill="#9bc9e0"/>
<rect x="813.6" y="1123.21" width="49.80" height="35.89" fill="#6bacd1"/>
<rect x="813.6" y="1158.51" width="49.80" height="35.89" fill="#3f8ec0"/>
<line x1="857.1" y1="734.99" x2="863.4" y2="734.99" stroke="#000" stroke-width="2.6"/>
<line x1="857.1" y1="840.87" x2="863.4" y2="840.87" stroke="#000" stroke-width="2.6"/>
<line x1="857.1" y1="946.75" x2="863.4" y2="946.75" stroke="#000" stroke-width="2.6"/>
<line x1="857.1" y1="1052.63" x2="863.4" y2="1052.63" stroke="#000" stroke-width="2.6"/>
<line x1="857.1" y1="1158.51" x2="863.4" y2="1158.51" stroke="#000" stroke-width="2.6"/>
<rect x="813.6" y="699.7" width="49.80" height="494.10" fill="none" stroke="#000" stroke-width="2.9"/>
<text x="877.5" y="743.29" font-size="29.2" font-family="Liberation Sans, sans-serif">10</text>
<text x="877.5" y="849.17" font-size="29.2" font-family="Liberation Sans, sans-serif">1</text>
<text x="877.5" y="955.05" font-size="29.2" font-family="Liberation Sans, sans-serif">0.1</text>
<text x="878.8" y="1060.93" font-size="29.2" font-family="Liberation Sans, sans-serif">–0.1</text>
<text x="878.8" y="1166.81" font-size="29.2" font-family="Liberation Sans, sans-serif">–1</text>
<text transform="translate(979.5,945.80) rotate(-90)" font-size="29.2" text-anchor="middle" font-family="Liberation Sans, sans-serif">Diffusive CH<tspan font-size="21" dy="8.5">4</tspan><tspan dy="-8.5"> flux (mmol m</tspan><tspan font-size="21" dy="-12">−2</tspan><tspan dy="12"> yr</tspan><tspan font-size="21" dy="-12">−1</tspan><tspan dy="12">)</tspan></text>
</svg></body></html>
